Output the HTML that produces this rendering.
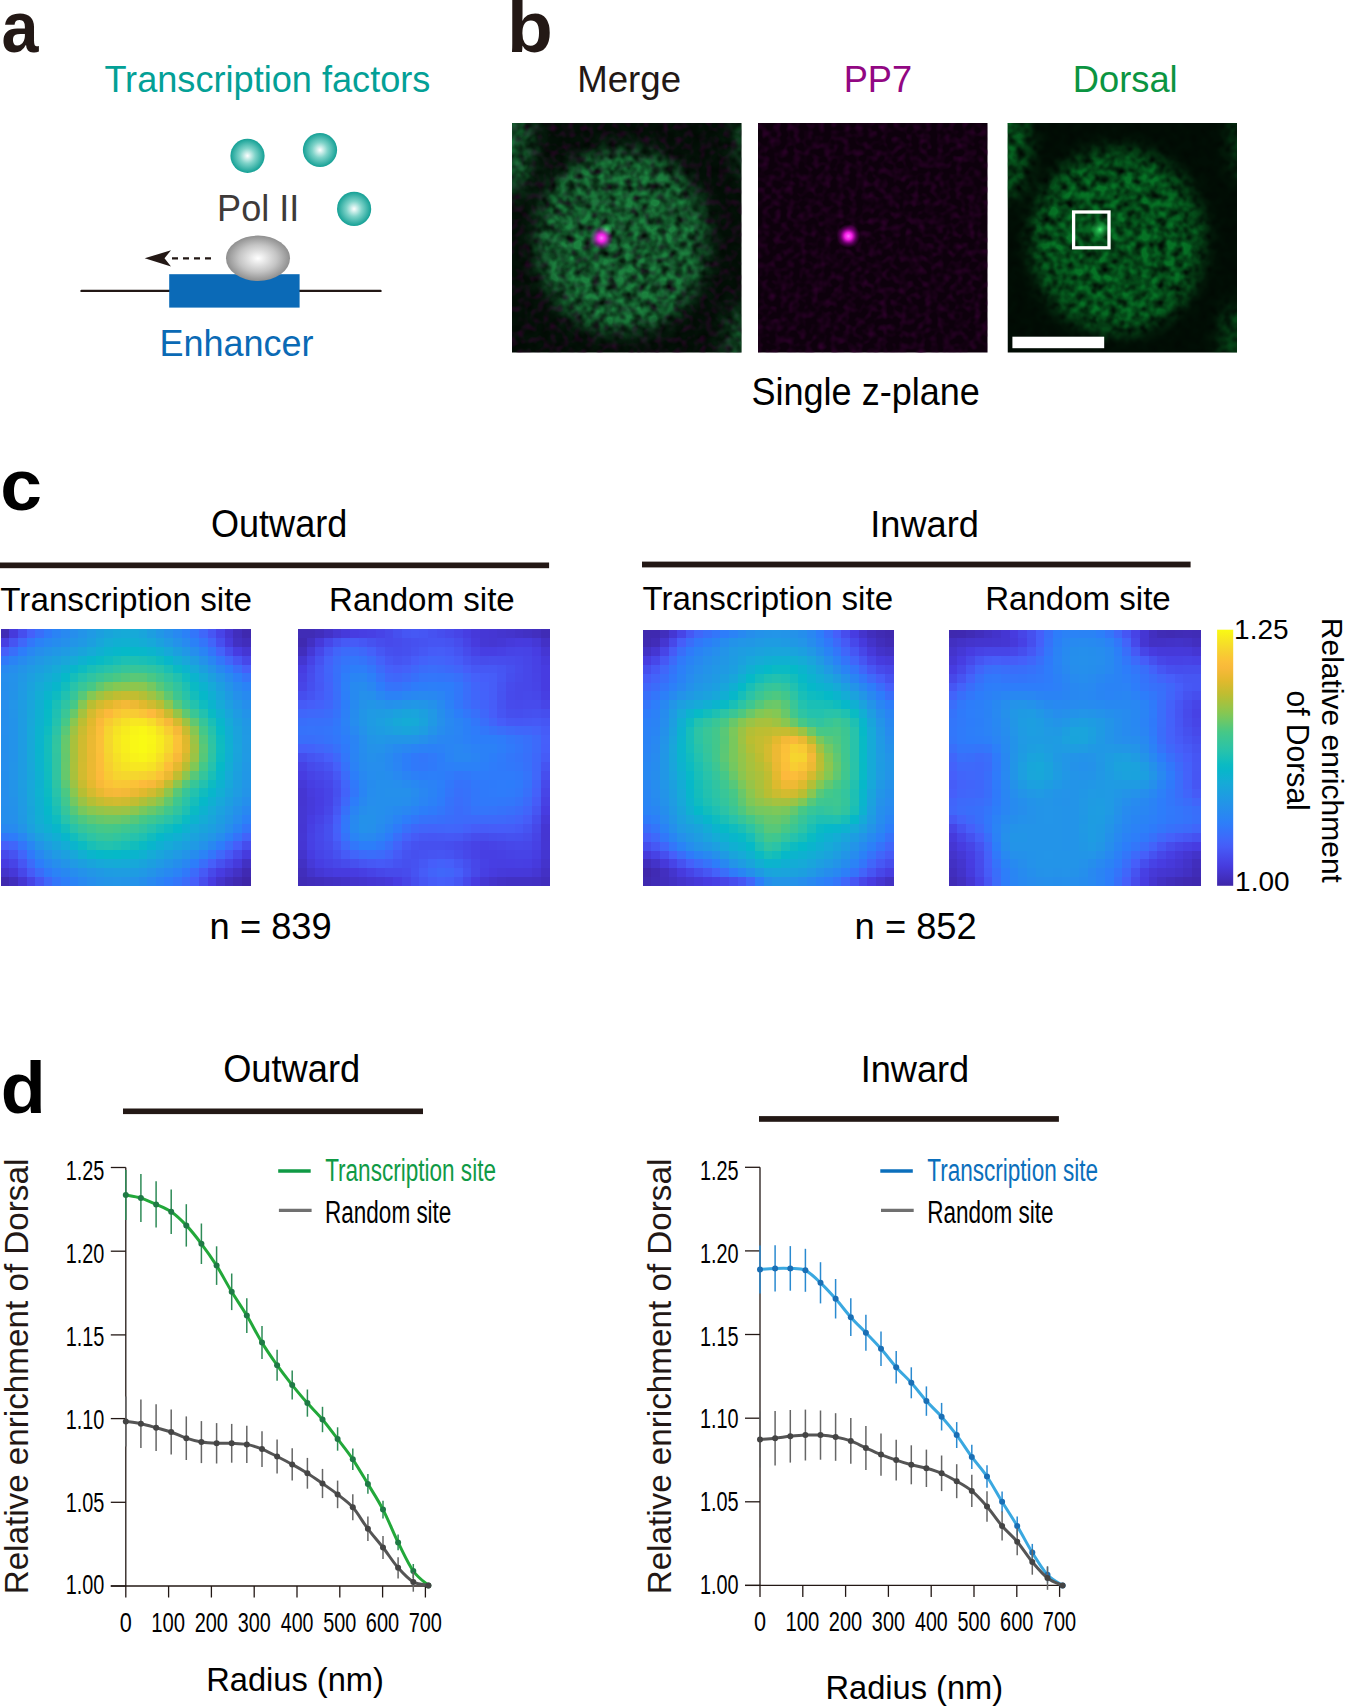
<!DOCTYPE html><html><head><meta charset="utf-8"><style>html,body{margin:0;padding:0;background:#fff;}svg{display:block}</style></head><body>
<svg width="1345" height="1706" viewBox="0 0 1345 1706" font-family="Liberation Sans, sans-serif">
<defs>
<radialGradient id="tf" cx="0.5" cy="0.5" r="0.5"><stop offset="0" stop-color="#ffffff"/><stop offset="0.45" stop-color="#7fd3c9"/><stop offset="1" stop-color="#14a095"/></radialGradient>
<radialGradient id="pol" cx="0.5" cy="0.5" r="0.5"><stop offset="0" stop-color="#ffffff"/><stop offset="0.6" stop-color="#c4c4c4"/><stop offset="1" stop-color="#8f8f8f"/></radialGradient>
<radialGradient id="mag" cx="0.5" cy="0.5" r="0.5"><stop offset="0" stop-color="#ff70ff"/><stop offset="0.3" stop-color="#ff20f0" stop-opacity="0.95"/><stop offset="0.65" stop-color="#d000d0" stop-opacity="0.4"/><stop offset="1" stop-color="#a000a0" stop-opacity="0"/></radialGradient>
<radialGradient id="gspot" cx="0.5" cy="0.5" r="0.5"><stop offset="0" stop-color="#40f070"/><stop offset="1" stop-color="#20c050" stop-opacity="0"/></radialGradient>
<filter id="blur8" x="-50%" y="-50%" width="200%" height="200%"><feGaussianBlur stdDeviation="9"/></filter>
<filter id="nucA" x="-10%" y="-10%" width="120%" height="120%" color-interpolation-filters="sRGB"><feGaussianBlur in="SourceGraphic" stdDeviation="9" result="shape"/><feTurbulence type="fractalNoise" baseFrequency="0.12" numOctaves="3" seed="7"/><feGaussianBlur stdDeviation="0.9"/><feColorMatrix type="matrix" values="0 0 0 0 0.12  0 0 0 0 0.56  0 0 0 0 0.27  2.0 0 0 0 -0.38" result="gn"/><feComposite in="gn" in2="shape" operator="in"/></filter>
<filter id="nucB" x="-10%" y="-10%" width="120%" height="120%" color-interpolation-filters="sRGB"><feGaussianBlur in="SourceGraphic" stdDeviation="9" result="shape"/><feTurbulence type="fractalNoise" baseFrequency="0.12" numOctaves="3" seed="21"/><feGaussianBlur stdDeviation="0.9"/><feColorMatrix type="matrix" values="0 0 0 0 0.03  0 0 0 0 0.52  0 0 0 0 0.17  2.0 0 0 0 -0.38" result="gn"/><feComposite in="gn" in2="shape" operator="in"/></filter>
<filter id="ptex" x="0" y="0" width="100%" height="100%" color-interpolation-filters="sRGB"><feTurbulence type="fractalNoise" baseFrequency="0.16" numOctaves="2" seed="11"/><feGaussianBlur stdDeviation="0.9"/><feColorMatrix type="matrix" values="0 0 0 0 0.2  0 0 0 0 0  0 0 0 0 0.19  2.2 0 0 0 -0.95"/></filter>
<filter id="pnoise" x="0" y="0" width="100%" height="100%" color-interpolation-filters="sRGB"><feTurbulence type="fractalNoise" baseFrequency="0.16" numOctaves="2" seed="5"/><feGaussianBlur stdDeviation="0.9"/><feColorMatrix type="matrix" values="0 0 0 0 0.2  0 0 0 0 0  0 0 0 0 0.18  2.0 0 0 0 -0.9"/></filter>
<clipPath id="c1"><rect x="512" y="123" width="229.5" height="229.5"/></clipPath>
<clipPath id="c2"><rect x="758" y="123" width="229.5" height="229.5"/></clipPath>
<clipPath id="c3"><rect x="1007.5" y="123" width="229.5" height="229.5"/></clipPath>
<linearGradient id="cbar" x1="0" y1="1" x2="0" y2="0">
<stop offset="0.000" stop-color="#3e26a8"/>
<stop offset="0.025" stop-color="#412dba"/>
<stop offset="0.050" stop-color="#4434cc"/>
<stop offset="0.075" stop-color="#463bdd"/>
<stop offset="0.100" stop-color="#4745e7"/>
<stop offset="0.125" stop-color="#4650ef"/>
<stop offset="0.150" stop-color="#465bf7"/>
<stop offset="0.175" stop-color="#4165fa"/>
<stop offset="0.200" stop-color="#396efa"/>
<stop offset="0.225" stop-color="#3277fa"/>
<stop offset="0.250" stop-color="#2c80f8"/>
<stop offset="0.275" stop-color="#2987f2"/>
<stop offset="0.300" stop-color="#268eec"/>
<stop offset="0.325" stop-color="#2295e7"/>
<stop offset="0.350" stop-color="#1e9ce2"/>
<stop offset="0.375" stop-color="#1aa3dc"/>
<stop offset="0.400" stop-color="#16aad7"/>
<stop offset="0.425" stop-color="#0fb0d1"/>
<stop offset="0.450" stop-color="#08b6ca"/>
<stop offset="0.475" stop-color="#0cbbc2"/>
<stop offset="0.500" stop-color="#19bfb7"/>
<stop offset="0.525" stop-color="#26c2ac"/>
<stop offset="0.550" stop-color="#31c4a0"/>
<stop offset="0.575" stop-color="#3bc694"/>
<stop offset="0.600" stop-color="#46c887"/>
<stop offset="0.625" stop-color="#5bc875"/>
<stop offset="0.650" stop-color="#71c863"/>
<stop offset="0.675" stop-color="#86c752"/>
<stop offset="0.700" stop-color="#9ac446"/>
<stop offset="0.725" stop-color="#adc03a"/>
<stop offset="0.750" stop-color="#c0bd31"/>
<stop offset="0.775" stop-color="#d0bb2f"/>
<stop offset="0.800" stop-color="#e1b92d"/>
<stop offset="0.825" stop-color="#edb933"/>
<stop offset="0.850" stop-color="#f8b93a"/>
<stop offset="0.875" stop-color="#fbbf39"/>
<stop offset="0.900" stop-color="#f8ca33"/>
<stop offset="0.925" stop-color="#f6d52e"/>
<stop offset="0.950" stop-color="#f6e126"/>
<stop offset="0.975" stop-color="#f8ed1d"/>
<stop offset="1.000" stop-color="#f9fa14"/>
</linearGradient></defs>
<text x="1.60" y="52.20" font-size="73" fill="#231815" textLength="37.01" lengthAdjust="spacingAndGlyphs" font-weight="bold">a</text>
<text x="507.12" y="51.50" font-size="72" fill="#231815" textLength="45.84" lengthAdjust="spacingAndGlyphs" font-weight="bold">b</text>
<text x="0.20" y="510.20" font-size="72" fill="#000" textLength="41.74" lengthAdjust="spacingAndGlyphs" font-weight="bold">c</text>
<text x="0.65" y="1112.70" font-size="72" fill="#000" textLength="45.00" lengthAdjust="spacingAndGlyphs" font-weight="bold">d</text>
<text x="104.38" y="92.20" font-size="37" fill="#03a096" textLength="326.05" lengthAdjust="spacingAndGlyphs">Transcription factors</text>
<circle cx="247.5" cy="155.8" r="17.1" fill="url(#tf)"/>
<circle cx="320" cy="150" r="17.1" fill="url(#tf)"/>
<circle cx="354.1" cy="208.9" r="17.1" fill="url(#tf)"/>
<text x="217.12" y="221.10" font-size="36.3" fill="#3e3a39" textLength="82.17" lengthAdjust="spacingAndGlyphs">Pol II</text>
<line x1="81.5" y1="290.9" x2="380.5" y2="290.9" stroke="#231815" stroke-width="2.4" stroke-linecap="round"/>
<rect x="169.2" y="274.2" width="130.4" height="33.4" fill="#0b6ab7"/>
<ellipse cx="258" cy="258.3" rx="32" ry="22.7" fill="url(#pol)"/>
<line x1="172" y1="258.3" x2="216" y2="258.3" stroke="#231815" stroke-width="2.2" stroke-dasharray="6,5"/>
<path d="M144.7,258.3 L171,250.2 L164.5,258.3 L171,266.6 Z" fill="#231815"/>
<text x="159.42" y="355.50" font-size="37.5" fill="#0a6ab5" textLength="154.15" lengthAdjust="spacingAndGlyphs">Enhancer</text>
<text x="577.27" y="91.80" font-size="37.5" fill="#231815" textLength="103.76" lengthAdjust="spacingAndGlyphs">Merge</text>
<text x="843.70" y="91.70" font-size="37" fill="#920783" textLength="68.41" lengthAdjust="spacingAndGlyphs">PP7</text>
<text x="1072.80" y="91.70" font-size="37" fill="#0b9441" textLength="104.85" lengthAdjust="spacingAndGlyphs">Dorsal</text>
<text x="751.48" y="405.20" font-size="38.5" fill="#000" textLength="228.44" lengthAdjust="spacingAndGlyphs">Single z-plane</text>
<g clip-path="url(#c1)">
<rect x="512" y="123" width="230" height="230" fill="#020a04"/>
<rect x="512" y="123" width="230" height="230" filter="url(#pnoise)"/>
<g filter="url(#nucA)">
<ellipse cx="622" cy="241" rx="86" ry="92" fill="#000" fill-opacity="0.9"/>
<ellipse cx="508" cy="145" rx="26" ry="52" fill="#000" fill-opacity="0.75"/>
<ellipse cx="746" cy="141" rx="10" ry="40" fill="#000" fill-opacity="0.6"/>
<ellipse cx="744" cy="343" rx="20" ry="40" fill="#000" fill-opacity="0.6"/>
<ellipse cx="627" cy="238" rx="160" ry="160" fill="#000" fill-opacity="0.06"/>
</g>
</g>
<circle cx="606" cy="230" r="7" fill="url(#gspot)"/><circle cx="601.5" cy="238" r="12" fill="url(#mag)"/>
<g clip-path="url(#c2)">
<rect x="758" y="123" width="230" height="230" fill="#0d000c"/>
<rect x="758" y="123" width="230" height="230" filter="url(#ptex)"/>
<circle cx="848.4" cy="236.1" r="12" fill="url(#mag)"/>
</g>
<g clip-path="url(#c3)">
<rect x="1007.5" y="123" width="230" height="230" fill="#020a04"/>
<g filter="url(#nucB)">
<ellipse cx="1117.5" cy="241" rx="86" ry="92" fill="#000" fill-opacity="0.85"/>
<ellipse cx="1003.5" cy="145" rx="26" ry="55" fill="#000" fill-opacity="0.75"/>
<ellipse cx="1241.5" cy="141" rx="10" ry="40" fill="#000" fill-opacity="0.6"/>
<ellipse cx="1239.5" cy="343" rx="20" ry="40" fill="#000" fill-opacity="0.55"/>
<ellipse cx="1122.5" cy="238" rx="160" ry="160" fill="#000" fill-opacity="0.04"/>
</g>
</g>
<circle cx="1100" cy="229.5" r="9" fill="url(#gspot)"/>
<rect x="1073.6" y="212" width="35.4" height="35.8" fill="none" stroke="#fff" stroke-width="3.3"/>
<rect x="1012.4" y="336.7" width="91.8" height="11.5" fill="#fff"/>
<text x="210.98" y="536.60" font-size="38" fill="#000" textLength="136.35" lengthAdjust="spacingAndGlyphs">Outward</text>
<text x="870.24" y="536.60" font-size="37.5" fill="#000" textLength="108.67" lengthAdjust="spacingAndGlyphs">Inward</text>
<rect x="0" y="562.5" width="549.1" height="5.7" fill="#231815"/>
<rect x="642" y="561.6" width="548.6" height="5.8" fill="#231815"/>
<text x="0.34" y="611.00" font-size="34" fill="#000" textLength="251.52" lengthAdjust="spacingAndGlyphs">Transcription site</text>
<text x="329.05" y="610.90" font-size="34" fill="#000" textLength="185.70" lengthAdjust="spacingAndGlyphs">Random site</text>
<text x="642.44" y="610.00" font-size="34" fill="#000" textLength="250.61" lengthAdjust="spacingAndGlyphs">Transcription site</text>
<text x="985.16" y="610.00" font-size="34" fill="#000" textLength="185.60" lengthAdjust="spacingAndGlyphs">Random site</text>
<g shape-rendering="crispEdges">
<rect x="0.80" y="629.20" width="8.91" height="9.14" fill="#402cb6"/>
<rect x="9.41" y="629.20" width="8.91" height="9.14" fill="#463adc"/>
<rect x="18.03" y="629.20" width="8.91" height="9.14" fill="#464eee"/>
<rect x="26.64" y="629.20" width="8.91" height="9.14" fill="#4560fa"/>
<rect x="35.26" y="629.20" width="8.91" height="9.14" fill="#396efa"/>
<rect x="43.87" y="629.20" width="8.91" height="9.14" fill="#2f7afa"/>
<rect x="52.48" y="629.20" width="8.91" height="9.14" fill="#2a83f5"/>
<rect x="61.10" y="629.20" width="8.91" height="9.14" fill="#2889f1"/>
<rect x="69.71" y="629.20" width="8.91" height="9.14" fill="#268eec"/>
<rect x="78.32" y="629.20" width="8.91" height="9.14" fill="#2394e8"/>
<rect x="86.94" y="629.20" width="8.91" height="9.14" fill="#209ae4"/>
<rect x="95.55" y="629.20" width="8.91" height="9.14" fill="#1c9fdf"/>
<rect x="104.17" y="629.20" width="8.91" height="9.14" fill="#19a4db"/>
<rect x="112.78" y="629.20" width="8.91" height="9.14" fill="#17a8d8"/>
<rect x="121.39" y="629.20" width="8.91" height="9.14" fill="#16aad7"/>
<rect x="130.01" y="629.20" width="8.91" height="9.14" fill="#17a9d8"/>
<rect x="138.62" y="629.20" width="8.91" height="9.14" fill="#19a5db"/>
<rect x="147.23" y="629.20" width="8.91" height="9.14" fill="#1d9ee0"/>
<rect x="155.85" y="629.20" width="8.91" height="9.14" fill="#2197e6"/>
<rect x="164.46" y="629.20" width="8.91" height="9.14" fill="#2590eb"/>
<rect x="173.08" y="629.20" width="8.91" height="9.14" fill="#2889f1"/>
<rect x="181.69" y="629.20" width="8.91" height="9.14" fill="#2b81f7"/>
<rect x="190.30" y="629.20" width="8.91" height="9.14" fill="#3376fa"/>
<rect x="198.92" y="629.20" width="8.91" height="9.14" fill="#3f67fa"/>
<rect x="207.53" y="629.20" width="8.91" height="9.14" fill="#4656f4"/>
<rect x="216.14" y="629.20" width="8.91" height="9.14" fill="#4744e7"/>
<rect x="224.76" y="629.20" width="8.91" height="9.14" fill="#4536d3"/>
<rect x="233.37" y="629.20" width="8.91" height="9.14" fill="#412ebd"/>
<rect x="241.99" y="629.20" width="8.91" height="9.14" fill="#3f29af"/>
<rect x="0.80" y="638.04" width="8.91" height="9.14" fill="#473ee2"/>
<rect x="9.41" y="638.04" width="8.91" height="9.14" fill="#4654f2"/>
<rect x="18.03" y="638.04" width="8.91" height="9.14" fill="#3f67fa"/>
<rect x="26.64" y="638.04" width="8.91" height="9.14" fill="#3277fa"/>
<rect x="35.26" y="638.04" width="8.91" height="9.14" fill="#2b82f6"/>
<rect x="43.87" y="638.04" width="8.91" height="9.14" fill="#2888f2"/>
<rect x="52.48" y="638.04" width="8.91" height="9.14" fill="#268cee"/>
<rect x="61.10" y="638.04" width="8.91" height="9.14" fill="#2590eb"/>
<rect x="69.71" y="638.04" width="8.91" height="9.14" fill="#2295e7"/>
<rect x="78.32" y="638.04" width="8.91" height="9.14" fill="#2099e4"/>
<rect x="86.94" y="638.04" width="8.91" height="9.14" fill="#1c9fdf"/>
<rect x="95.55" y="638.04" width="8.91" height="9.14" fill="#18a6da"/>
<rect x="104.17" y="638.04" width="8.91" height="9.14" fill="#14acd5"/>
<rect x="112.78" y="638.04" width="8.91" height="9.14" fill="#10afd2"/>
<rect x="121.39" y="638.04" width="8.91" height="9.14" fill="#10b0d1"/>
<rect x="130.01" y="638.04" width="8.91" height="9.14" fill="#11afd2"/>
<rect x="138.62" y="638.04" width="8.91" height="9.14" fill="#14acd5"/>
<rect x="147.23" y="638.04" width="8.91" height="9.14" fill="#17a8d9"/>
<rect x="155.85" y="638.04" width="8.91" height="9.14" fill="#1ba1de"/>
<rect x="164.46" y="638.04" width="8.91" height="9.14" fill="#209ae4"/>
<rect x="173.08" y="638.04" width="8.91" height="9.14" fill="#2492ea"/>
<rect x="181.69" y="638.04" width="8.91" height="9.14" fill="#288af0"/>
<rect x="190.30" y="638.04" width="8.91" height="9.14" fill="#2b81f7"/>
<rect x="198.92" y="638.04" width="8.91" height="9.14" fill="#3475fa"/>
<rect x="207.53" y="638.04" width="8.91" height="9.14" fill="#4165fa"/>
<rect x="216.14" y="638.04" width="8.91" height="9.14" fill="#464fef"/>
<rect x="224.76" y="638.04" width="8.91" height="9.14" fill="#463bdd"/>
<rect x="233.37" y="638.04" width="8.91" height="9.14" fill="#4231c3"/>
<rect x="241.99" y="638.04" width="8.91" height="9.14" fill="#412dbb"/>
<rect x="0.80" y="646.89" width="8.91" height="9.14" fill="#465ffa"/>
<rect x="9.41" y="646.89" width="8.91" height="9.14" fill="#396efa"/>
<rect x="18.03" y="646.89" width="8.91" height="9.14" fill="#2d7dfa"/>
<rect x="26.64" y="646.89" width="8.91" height="9.14" fill="#2987f2"/>
<rect x="35.26" y="646.89" width="8.91" height="9.14" fill="#268eec"/>
<rect x="43.87" y="646.89" width="8.91" height="9.14" fill="#2393e9"/>
<rect x="52.48" y="646.89" width="8.91" height="9.14" fill="#2197e6"/>
<rect x="61.10" y="646.89" width="8.91" height="9.14" fill="#1f9be3"/>
<rect x="69.71" y="646.89" width="8.91" height="9.14" fill="#1d9fe0"/>
<rect x="78.32" y="646.89" width="8.91" height="9.14" fill="#19a4db"/>
<rect x="86.94" y="646.89" width="8.91" height="9.14" fill="#16aad7"/>
<rect x="95.55" y="646.89" width="8.91" height="9.14" fill="#10afd2"/>
<rect x="104.17" y="646.89" width="8.91" height="9.14" fill="#0bb4cd"/>
<rect x="112.78" y="646.89" width="8.91" height="9.14" fill="#07b7ca"/>
<rect x="121.39" y="646.89" width="8.91" height="9.14" fill="#05b9c8"/>
<rect x="130.01" y="646.89" width="8.91" height="9.14" fill="#06b8c9"/>
<rect x="138.62" y="646.89" width="8.91" height="9.14" fill="#08b7ca"/>
<rect x="147.23" y="646.89" width="8.91" height="9.14" fill="#0bb4cd"/>
<rect x="155.85" y="646.89" width="8.91" height="9.14" fill="#10afd2"/>
<rect x="164.46" y="646.89" width="8.91" height="9.14" fill="#17a8d9"/>
<rect x="173.08" y="646.89" width="8.91" height="9.14" fill="#1c9fdf"/>
<rect x="181.69" y="646.89" width="8.91" height="9.14" fill="#2197e6"/>
<rect x="190.30" y="646.89" width="8.91" height="9.14" fill="#268eed"/>
<rect x="198.92" y="646.89" width="8.91" height="9.14" fill="#2a84f5"/>
<rect x="207.53" y="646.89" width="8.91" height="9.14" fill="#3375fa"/>
<rect x="216.14" y="646.89" width="8.91" height="9.14" fill="#4363fa"/>
<rect x="224.76" y="646.89" width="8.91" height="9.14" fill="#464eee"/>
<rect x="233.37" y="646.89" width="8.91" height="9.14" fill="#473ce1"/>
<rect x="241.99" y="646.89" width="8.91" height="9.14" fill="#4536d3"/>
<rect x="0.80" y="655.73" width="8.91" height="9.14" fill="#3079fa"/>
<rect x="9.41" y="655.73" width="8.91" height="9.14" fill="#2a83f5"/>
<rect x="18.03" y="655.73" width="8.91" height="9.14" fill="#278bef"/>
<rect x="26.64" y="655.73" width="8.91" height="9.14" fill="#2492ea"/>
<rect x="35.26" y="655.73" width="8.91" height="9.14" fill="#2198e5"/>
<rect x="43.87" y="655.73" width="8.91" height="9.14" fill="#1e9de1"/>
<rect x="52.48" y="655.73" width="8.91" height="9.14" fill="#1ba1de"/>
<rect x="61.10" y="655.73" width="8.91" height="9.14" fill="#19a6da"/>
<rect x="69.71" y="655.73" width="8.91" height="9.14" fill="#15abd6"/>
<rect x="78.32" y="655.73" width="8.91" height="9.14" fill="#0eb1d0"/>
<rect x="86.94" y="655.73" width="8.91" height="9.14" fill="#08b6cb"/>
<rect x="95.55" y="655.73" width="8.91" height="9.14" fill="#08bac5"/>
<rect x="104.17" y="655.73" width="8.91" height="9.14" fill="#0fbcbf"/>
<rect x="112.78" y="655.73" width="8.91" height="9.14" fill="#17beb9"/>
<rect x="121.39" y="655.73" width="8.91" height="9.14" fill="#1dc0b4"/>
<rect x="130.01" y="655.73" width="8.91" height="9.14" fill="#1dc0b3"/>
<rect x="138.62" y="655.73" width="8.91" height="9.14" fill="#1abfb6"/>
<rect x="147.23" y="655.73" width="8.91" height="9.14" fill="#15beba"/>
<rect x="155.85" y="655.73" width="8.91" height="9.14" fill="#0dbbc1"/>
<rect x="164.46" y="655.73" width="8.91" height="9.14" fill="#08b6cb"/>
<rect x="173.08" y="655.73" width="8.91" height="9.14" fill="#12aed3"/>
<rect x="181.69" y="655.73" width="8.91" height="9.14" fill="#19a6da"/>
<rect x="190.30" y="655.73" width="8.91" height="9.14" fill="#1e9de1"/>
<rect x="198.92" y="655.73" width="8.91" height="9.14" fill="#2492ea"/>
<rect x="207.53" y="655.73" width="8.91" height="9.14" fill="#2986f3"/>
<rect x="216.14" y="655.73" width="8.91" height="9.14" fill="#3277fa"/>
<rect x="224.76" y="655.73" width="8.91" height="9.14" fill="#4067fa"/>
<rect x="233.37" y="655.73" width="8.91" height="9.14" fill="#4656f4"/>
<rect x="241.99" y="655.73" width="8.91" height="9.14" fill="#4747e9"/>
<rect x="0.80" y="664.58" width="8.91" height="9.14" fill="#2889f1"/>
<rect x="9.41" y="664.58" width="8.91" height="9.14" fill="#268eed"/>
<rect x="18.03" y="664.58" width="8.91" height="9.14" fill="#2394e8"/>
<rect x="26.64" y="664.58" width="8.91" height="9.14" fill="#209ae4"/>
<rect x="35.26" y="664.58" width="8.91" height="9.14" fill="#1c9fe0"/>
<rect x="43.87" y="664.58" width="8.91" height="9.14" fill="#19a4db"/>
<rect x="52.48" y="664.58" width="8.91" height="9.14" fill="#16aad7"/>
<rect x="61.10" y="664.58" width="8.91" height="9.14" fill="#0fb0d1"/>
<rect x="69.71" y="664.58" width="8.91" height="9.14" fill="#08b6ca"/>
<rect x="78.32" y="664.58" width="8.91" height="9.14" fill="#0dbbc1"/>
<rect x="86.94" y="664.58" width="8.91" height="9.14" fill="#19bfb7"/>
<rect x="95.55" y="664.58" width="8.91" height="9.14" fill="#21c1b0"/>
<rect x="104.17" y="664.58" width="8.91" height="9.14" fill="#28c3aa"/>
<rect x="112.78" y="664.58" width="8.91" height="9.14" fill="#2fc4a2"/>
<rect x="121.39" y="664.58" width="8.91" height="9.14" fill="#35c59b"/>
<rect x="130.01" y="664.58" width="8.91" height="9.14" fill="#37c599"/>
<rect x="138.62" y="664.58" width="8.91" height="9.14" fill="#35c59b"/>
<rect x="147.23" y="664.58" width="8.91" height="9.14" fill="#30c4a1"/>
<rect x="155.85" y="664.58" width="8.91" height="9.14" fill="#28c3aa"/>
<rect x="164.46" y="664.58" width="8.91" height="9.14" fill="#1abfb6"/>
<rect x="173.08" y="664.58" width="8.91" height="9.14" fill="#0abac4"/>
<rect x="181.69" y="664.58" width="8.91" height="9.14" fill="#0cb3ce"/>
<rect x="190.30" y="664.58" width="8.91" height="9.14" fill="#16aad7"/>
<rect x="198.92" y="664.58" width="8.91" height="9.14" fill="#1c9fdf"/>
<rect x="207.53" y="664.58" width="8.91" height="9.14" fill="#2394e8"/>
<rect x="216.14" y="664.58" width="8.91" height="9.14" fill="#2888f1"/>
<rect x="224.76" y="664.58" width="8.91" height="9.14" fill="#2d7dfa"/>
<rect x="233.37" y="664.58" width="8.91" height="9.14" fill="#396efa"/>
<rect x="241.99" y="664.58" width="8.91" height="9.14" fill="#465ffa"/>
<rect x="0.80" y="673.42" width="8.91" height="9.14" fill="#268eed"/>
<rect x="9.41" y="673.42" width="8.91" height="9.14" fill="#2492ea"/>
<rect x="18.03" y="673.42" width="8.91" height="9.14" fill="#2198e5"/>
<rect x="26.64" y="673.42" width="8.91" height="9.14" fill="#1d9fe0"/>
<rect x="35.26" y="673.42" width="8.91" height="9.14" fill="#19a5db"/>
<rect x="43.87" y="673.42" width="8.91" height="9.14" fill="#15abd6"/>
<rect x="52.48" y="673.42" width="8.91" height="9.14" fill="#0fb0d1"/>
<rect x="61.10" y="673.42" width="8.91" height="9.14" fill="#06b9c8"/>
<rect x="69.71" y="673.42" width="8.91" height="9.14" fill="#15beba"/>
<rect x="78.32" y="673.42" width="8.91" height="9.14" fill="#23c2ae"/>
<rect x="86.94" y="673.42" width="8.91" height="9.14" fill="#2fc4a2"/>
<rect x="95.55" y="673.42" width="8.91" height="9.14" fill="#39c696"/>
<rect x="104.17" y="673.42" width="8.91" height="9.14" fill="#42c78b"/>
<rect x="112.78" y="673.42" width="8.91" height="9.14" fill="#4ac883"/>
<rect x="121.39" y="673.42" width="8.91" height="9.14" fill="#53c87c"/>
<rect x="130.01" y="673.42" width="8.91" height="9.14" fill="#5ac877"/>
<rect x="138.62" y="673.42" width="8.91" height="9.14" fill="#58c878"/>
<rect x="147.23" y="673.42" width="8.91" height="9.14" fill="#49c885"/>
<rect x="155.85" y="673.42" width="8.91" height="9.14" fill="#3cc693"/>
<rect x="164.46" y="673.42" width="8.91" height="9.14" fill="#2fc4a2"/>
<rect x="173.08" y="673.42" width="8.91" height="9.14" fill="#21c1b0"/>
<rect x="181.69" y="673.42" width="8.91" height="9.14" fill="#0fbcc0"/>
<rect x="190.30" y="673.42" width="8.91" height="9.14" fill="#0bb4cd"/>
<rect x="198.92" y="673.42" width="8.91" height="9.14" fill="#15abd6"/>
<rect x="207.53" y="673.42" width="8.91" height="9.14" fill="#1ca0de"/>
<rect x="216.14" y="673.42" width="8.91" height="9.14" fill="#2296e7"/>
<rect x="224.76" y="673.42" width="8.91" height="9.14" fill="#278bef"/>
<rect x="233.37" y="673.42" width="8.91" height="9.14" fill="#2c80f8"/>
<rect x="241.99" y="673.42" width="8.91" height="9.14" fill="#3574fa"/>
<rect x="0.80" y="682.27" width="8.91" height="9.14" fill="#258eec"/>
<rect x="9.41" y="682.27" width="8.91" height="9.14" fill="#2492e9"/>
<rect x="18.03" y="682.27" width="8.91" height="9.14" fill="#209ae4"/>
<rect x="26.64" y="682.27" width="8.91" height="9.14" fill="#1ba2dd"/>
<rect x="35.26" y="682.27" width="8.91" height="9.14" fill="#16aad7"/>
<rect x="43.87" y="682.27" width="8.91" height="9.14" fill="#0fb0d1"/>
<rect x="52.48" y="682.27" width="8.91" height="9.14" fill="#08b6cb"/>
<rect x="61.10" y="682.27" width="8.91" height="9.14" fill="#13bdbc"/>
<rect x="69.71" y="682.27" width="8.91" height="9.14" fill="#28c3aa"/>
<rect x="78.32" y="682.27" width="8.91" height="9.14" fill="#38c698"/>
<rect x="86.94" y="682.27" width="8.91" height="9.14" fill="#46c887"/>
<rect x="95.55" y="682.27" width="8.91" height="9.14" fill="#63c86f"/>
<rect x="104.17" y="682.27" width="8.91" height="9.14" fill="#79c85c"/>
<rect x="112.78" y="682.27" width="8.91" height="9.14" fill="#85c853"/>
<rect x="121.39" y="682.27" width="8.91" height="9.14" fill="#8ac750"/>
<rect x="130.01" y="682.27" width="8.91" height="9.14" fill="#8ec64d"/>
<rect x="138.62" y="682.27" width="8.91" height="9.14" fill="#8ac750"/>
<rect x="147.23" y="682.27" width="8.91" height="9.14" fill="#75c860"/>
<rect x="155.85" y="682.27" width="8.91" height="9.14" fill="#57c879"/>
<rect x="164.46" y="682.27" width="8.91" height="9.14" fill="#40c78e"/>
<rect x="173.08" y="682.27" width="8.91" height="9.14" fill="#31c4a0"/>
<rect x="181.69" y="682.27" width="8.91" height="9.14" fill="#1ec0b3"/>
<rect x="190.30" y="682.27" width="8.91" height="9.14" fill="#0abac4"/>
<rect x="198.92" y="682.27" width="8.91" height="9.14" fill="#0cb3ce"/>
<rect x="207.53" y="682.27" width="8.91" height="9.14" fill="#16aad7"/>
<rect x="216.14" y="682.27" width="8.91" height="9.14" fill="#1c9fdf"/>
<rect x="224.76" y="682.27" width="8.91" height="9.14" fill="#2394e8"/>
<rect x="233.37" y="682.27" width="8.91" height="9.14" fill="#278af0"/>
<rect x="241.99" y="682.27" width="8.91" height="9.14" fill="#2a83f6"/>
<rect x="0.80" y="691.11" width="8.91" height="9.14" fill="#268eed"/>
<rect x="9.41" y="691.11" width="8.91" height="9.14" fill="#2393e8"/>
<rect x="18.03" y="691.11" width="8.91" height="9.14" fill="#1f9be3"/>
<rect x="26.64" y="691.11" width="8.91" height="9.14" fill="#1aa4dc"/>
<rect x="35.26" y="691.11" width="8.91" height="9.14" fill="#13add4"/>
<rect x="43.87" y="691.11" width="8.91" height="9.14" fill="#0ab5cc"/>
<rect x="52.48" y="691.11" width="8.91" height="9.14" fill="#0ebbc1"/>
<rect x="61.10" y="691.11" width="8.91" height="9.14" fill="#21c1b0"/>
<rect x="69.71" y="691.11" width="8.91" height="9.14" fill="#37c599"/>
<rect x="78.32" y="691.11" width="8.91" height="9.14" fill="#58c878"/>
<rect x="86.94" y="691.11" width="8.91" height="9.14" fill="#84c854"/>
<rect x="95.55" y="691.11" width="8.91" height="9.14" fill="#a0c342"/>
<rect x="104.17" y="691.11" width="8.91" height="9.14" fill="#b3bf36"/>
<rect x="112.78" y="691.11" width="8.91" height="9.14" fill="#c0bd31"/>
<rect x="121.39" y="691.11" width="8.91" height="9.14" fill="#c6bc30"/>
<rect x="130.01" y="691.11" width="8.91" height="9.14" fill="#c2bd31"/>
<rect x="138.62" y="691.11" width="8.91" height="9.14" fill="#b5bf35"/>
<rect x="147.23" y="691.11" width="8.91" height="9.14" fill="#a0c342"/>
<rect x="155.85" y="691.11" width="8.91" height="9.14" fill="#84c854"/>
<rect x="164.46" y="691.11" width="8.91" height="9.14" fill="#5dc874"/>
<rect x="173.08" y="691.11" width="8.91" height="9.14" fill="#3cc692"/>
<rect x="181.69" y="691.11" width="8.91" height="9.14" fill="#28c3a9"/>
<rect x="190.30" y="691.11" width="8.91" height="9.14" fill="#14bdbb"/>
<rect x="198.92" y="691.11" width="8.91" height="9.14" fill="#06b8c9"/>
<rect x="207.53" y="691.11" width="8.91" height="9.14" fill="#10afd2"/>
<rect x="216.14" y="691.11" width="8.91" height="9.14" fill="#19a5db"/>
<rect x="224.76" y="691.11" width="8.91" height="9.14" fill="#1f9ae3"/>
<rect x="233.37" y="691.11" width="8.91" height="9.14" fill="#2590eb"/>
<rect x="241.99" y="691.11" width="8.91" height="9.14" fill="#278af0"/>
<rect x="0.80" y="699.96" width="8.91" height="9.14" fill="#268eec"/>
<rect x="9.41" y="699.96" width="8.91" height="9.14" fill="#2395e8"/>
<rect x="18.03" y="699.96" width="8.91" height="9.14" fill="#1e9ce2"/>
<rect x="26.64" y="699.96" width="8.91" height="9.14" fill="#19a5db"/>
<rect x="35.26" y="699.96" width="8.91" height="9.14" fill="#10afd2"/>
<rect x="43.87" y="699.96" width="8.91" height="9.14" fill="#05b9c8"/>
<rect x="52.48" y="699.96" width="8.91" height="9.14" fill="#19bfb7"/>
<rect x="61.10" y="699.96" width="8.91" height="9.14" fill="#2ec4a3"/>
<rect x="69.71" y="699.96" width="8.91" height="9.14" fill="#46c887"/>
<rect x="78.32" y="699.96" width="8.91" height="9.14" fill="#85c753"/>
<rect x="86.94" y="699.96" width="8.91" height="9.14" fill="#b9be32"/>
<rect x="95.55" y="699.96" width="8.91" height="9.14" fill="#d2bb2f"/>
<rect x="104.17" y="699.96" width="8.91" height="9.14" fill="#e1b92d"/>
<rect x="112.78" y="699.96" width="8.91" height="9.14" fill="#edb933"/>
<rect x="121.39" y="699.96" width="8.91" height="9.14" fill="#f4b937"/>
<rect x="130.01" y="699.96" width="8.91" height="9.14" fill="#edb934"/>
<rect x="138.62" y="699.96" width="8.91" height="9.14" fill="#e1b92d"/>
<rect x="147.23" y="699.96" width="8.91" height="9.14" fill="#d0bb2f"/>
<rect x="155.85" y="699.96" width="8.91" height="9.14" fill="#b9be32"/>
<rect x="164.46" y="699.96" width="8.91" height="9.14" fill="#8dc64e"/>
<rect x="173.08" y="699.96" width="8.91" height="9.14" fill="#57c879"/>
<rect x="181.69" y="699.96" width="8.91" height="9.14" fill="#37c698"/>
<rect x="190.30" y="699.96" width="8.91" height="9.14" fill="#23c2ae"/>
<rect x="198.92" y="699.96" width="8.91" height="9.14" fill="#0fbcc0"/>
<rect x="207.53" y="699.96" width="8.91" height="9.14" fill="#0bb4cd"/>
<rect x="216.14" y="699.96" width="8.91" height="9.14" fill="#16aad7"/>
<rect x="224.76" y="699.96" width="8.91" height="9.14" fill="#1d9fe0"/>
<rect x="233.37" y="699.96" width="8.91" height="9.14" fill="#2296e7"/>
<rect x="241.99" y="699.96" width="8.91" height="9.14" fill="#268eec"/>
<rect x="0.80" y="708.80" width="8.91" height="9.14" fill="#258eec"/>
<rect x="9.41" y="708.80" width="8.91" height="9.14" fill="#2394e8"/>
<rect x="18.03" y="708.80" width="8.91" height="9.14" fill="#1e9ce1"/>
<rect x="26.64" y="708.80" width="8.91" height="9.14" fill="#18a6da"/>
<rect x="35.26" y="708.80" width="8.91" height="9.14" fill="#0fb0d1"/>
<rect x="43.87" y="708.80" width="8.91" height="9.14" fill="#07bac6"/>
<rect x="52.48" y="708.80" width="8.91" height="9.14" fill="#1fc0b2"/>
<rect x="61.10" y="708.80" width="8.91" height="9.14" fill="#3ac696"/>
<rect x="69.71" y="708.80" width="8.91" height="9.14" fill="#69c869"/>
<rect x="78.32" y="708.80" width="8.91" height="9.14" fill="#a6c23e"/>
<rect x="86.94" y="708.80" width="8.91" height="9.14" fill="#d4bb2f"/>
<rect x="95.55" y="708.80" width="8.91" height="9.14" fill="#edb933"/>
<rect x="104.17" y="708.80" width="8.91" height="9.14" fill="#fcb93b"/>
<rect x="112.78" y="708.80" width="8.91" height="9.14" fill="#fac536"/>
<rect x="121.39" y="708.80" width="8.91" height="9.14" fill="#f8cc32"/>
<rect x="130.01" y="708.80" width="8.91" height="9.14" fill="#f8cb33"/>
<rect x="138.62" y="708.80" width="8.91" height="9.14" fill="#fac437"/>
<rect x="147.23" y="708.80" width="8.91" height="9.14" fill="#fdba3c"/>
<rect x="155.85" y="708.80" width="8.91" height="9.14" fill="#ecb933"/>
<rect x="164.46" y="708.80" width="8.91" height="9.14" fill="#c9bc30"/>
<rect x="173.08" y="708.80" width="8.91" height="9.14" fill="#96c448"/>
<rect x="181.69" y="708.80" width="8.91" height="9.14" fill="#60c871"/>
<rect x="190.30" y="708.80" width="8.91" height="9.14" fill="#3ac695"/>
<rect x="198.92" y="708.80" width="8.91" height="9.14" fill="#22c1af"/>
<rect x="207.53" y="708.80" width="8.91" height="9.14" fill="#09bac4"/>
<rect x="216.14" y="708.80" width="8.91" height="9.14" fill="#10b0d1"/>
<rect x="224.76" y="708.80" width="8.91" height="9.14" fill="#19a5db"/>
<rect x="233.37" y="708.80" width="8.91" height="9.14" fill="#1f9be3"/>
<rect x="241.99" y="708.80" width="8.91" height="9.14" fill="#2393e9"/>
<rect x="0.80" y="717.65" width="8.91" height="9.14" fill="#268eec"/>
<rect x="9.41" y="717.65" width="8.91" height="9.14" fill="#2393e9"/>
<rect x="18.03" y="717.65" width="8.91" height="9.14" fill="#1e9ce2"/>
<rect x="26.64" y="717.65" width="8.91" height="9.14" fill="#18a7d9"/>
<rect x="35.26" y="717.65" width="8.91" height="9.14" fill="#0eb1d0"/>
<rect x="43.87" y="717.65" width="8.91" height="9.14" fill="#09bac5"/>
<rect x="52.48" y="717.65" width="8.91" height="9.14" fill="#23c2ae"/>
<rect x="61.10" y="717.65" width="8.91" height="9.14" fill="#45c888"/>
<rect x="69.71" y="717.65" width="8.91" height="9.14" fill="#8ac750"/>
<rect x="78.32" y="717.65" width="8.91" height="9.14" fill="#bdbe32"/>
<rect x="86.94" y="717.65" width="8.91" height="9.14" fill="#e1b92d"/>
<rect x="95.55" y="717.65" width="8.91" height="9.14" fill="#fab93a"/>
<rect x="104.17" y="717.65" width="8.91" height="9.14" fill="#f8ca33"/>
<rect x="112.78" y="717.65" width="8.91" height="9.14" fill="#f5d72d"/>
<rect x="121.39" y="717.65" width="8.91" height="9.14" fill="#f6e126"/>
<rect x="130.01" y="717.65" width="8.91" height="9.14" fill="#f7e722"/>
<rect x="138.62" y="717.65" width="8.91" height="9.14" fill="#f7e622"/>
<rect x="147.23" y="717.65" width="8.91" height="9.14" fill="#f6dc2a"/>
<rect x="155.85" y="717.65" width="8.91" height="9.14" fill="#f8ca33"/>
<rect x="164.46" y="717.65" width="8.91" height="9.14" fill="#f7b939"/>
<rect x="173.08" y="717.65" width="8.91" height="9.14" fill="#d4bb2f"/>
<rect x="181.69" y="717.65" width="8.91" height="9.14" fill="#9ec343"/>
<rect x="190.30" y="717.65" width="8.91" height="9.14" fill="#60c872"/>
<rect x="198.92" y="717.65" width="8.91" height="9.14" fill="#35c59a"/>
<rect x="207.53" y="717.65" width="8.91" height="9.14" fill="#19bfb7"/>
<rect x="216.14" y="717.65" width="8.91" height="9.14" fill="#09b6cb"/>
<rect x="224.76" y="717.65" width="8.91" height="9.14" fill="#16aad7"/>
<rect x="233.37" y="717.65" width="8.91" height="9.14" fill="#1c9fdf"/>
<rect x="241.99" y="717.65" width="8.91" height="9.14" fill="#2197e6"/>
<rect x="0.80" y="726.49" width="8.91" height="9.14" fill="#268eed"/>
<rect x="9.41" y="726.49" width="8.91" height="9.14" fill="#2393e9"/>
<rect x="18.03" y="726.49" width="8.91" height="9.14" fill="#1e9ce2"/>
<rect x="26.64" y="726.49" width="8.91" height="9.14" fill="#17a8d9"/>
<rect x="35.26" y="726.49" width="8.91" height="9.14" fill="#0cb3ce"/>
<rect x="43.87" y="726.49" width="8.91" height="9.14" fill="#0ebcc0"/>
<rect x="52.48" y="726.49" width="8.91" height="9.14" fill="#2bc3a7"/>
<rect x="61.10" y="726.49" width="8.91" height="9.14" fill="#58c878"/>
<rect x="69.71" y="726.49" width="8.91" height="9.14" fill="#9fc343"/>
<rect x="78.32" y="726.49" width="8.91" height="9.14" fill="#cabc30"/>
<rect x="86.94" y="726.49" width="8.91" height="9.14" fill="#e7b930"/>
<rect x="95.55" y="726.49" width="8.91" height="9.14" fill="#fcbd3a"/>
<rect x="104.17" y="726.49" width="8.91" height="9.14" fill="#f6d42f"/>
<rect x="112.78" y="726.49" width="8.91" height="9.14" fill="#f6e324"/>
<rect x="121.39" y="726.49" width="8.91" height="9.14" fill="#f7ec1e"/>
<rect x="130.01" y="726.49" width="8.91" height="9.14" fill="#f8f418"/>
<rect x="138.62" y="726.49" width="8.91" height="9.14" fill="#f9f716"/>
<rect x="147.23" y="726.49" width="8.91" height="9.14" fill="#f8f01b"/>
<rect x="155.85" y="726.49" width="8.91" height="9.14" fill="#f6e126"/>
<rect x="164.46" y="726.49" width="8.91" height="9.14" fill="#f8cd32"/>
<rect x="173.08" y="726.49" width="8.91" height="9.14" fill="#f6b938"/>
<rect x="181.69" y="726.49" width="8.91" height="9.14" fill="#c8bc30"/>
<rect x="190.30" y="726.49" width="8.91" height="9.14" fill="#85c753"/>
<rect x="198.92" y="726.49" width="8.91" height="9.14" fill="#43c88a"/>
<rect x="207.53" y="726.49" width="8.91" height="9.14" fill="#25c2ac"/>
<rect x="216.14" y="726.49" width="8.91" height="9.14" fill="#07bac6"/>
<rect x="224.76" y="726.49" width="8.91" height="9.14" fill="#12add4"/>
<rect x="233.37" y="726.49" width="8.91" height="9.14" fill="#1ba2dd"/>
<rect x="241.99" y="726.49" width="8.91" height="9.14" fill="#2099e4"/>
<rect x="0.80" y="735.34" width="8.91" height="9.14" fill="#258eec"/>
<rect x="9.41" y="735.34" width="8.91" height="9.14" fill="#2393e9"/>
<rect x="18.03" y="735.34" width="8.91" height="9.14" fill="#1e9ce2"/>
<rect x="26.64" y="735.34" width="8.91" height="9.14" fill="#17a8d8"/>
<rect x="35.26" y="735.34" width="8.91" height="9.14" fill="#0bb4cd"/>
<rect x="43.87" y="735.34" width="8.91" height="9.14" fill="#13bdbc"/>
<rect x="52.48" y="735.34" width="8.91" height="9.14" fill="#31c4a0"/>
<rect x="61.10" y="735.34" width="8.91" height="9.14" fill="#65c86d"/>
<rect x="69.71" y="735.34" width="8.91" height="9.14" fill="#a9c13c"/>
<rect x="78.32" y="735.34" width="8.91" height="9.14" fill="#d0bb2f"/>
<rect x="86.94" y="735.34" width="8.91" height="9.14" fill="#eab932"/>
<rect x="95.55" y="735.34" width="8.91" height="9.14" fill="#fbc038"/>
<rect x="104.17" y="735.34" width="8.91" height="9.14" fill="#f5d72d"/>
<rect x="112.78" y="735.34" width="8.91" height="9.14" fill="#f7e722"/>
<rect x="121.39" y="735.34" width="8.91" height="9.14" fill="#f8f01b"/>
<rect x="130.01" y="735.34" width="8.91" height="9.14" fill="#f9f716"/>
<rect x="138.62" y="735.34" width="8.91" height="9.14" fill="#f9fa14"/>
<rect x="147.23" y="735.34" width="8.91" height="9.14" fill="#f9f617"/>
<rect x="155.85" y="735.34" width="8.91" height="9.14" fill="#f7eb1f"/>
<rect x="164.46" y="735.34" width="8.91" height="9.14" fill="#f5da2b"/>
<rect x="173.08" y="735.34" width="8.91" height="9.14" fill="#fbc238"/>
<rect x="181.69" y="735.34" width="8.91" height="9.14" fill="#deb92d"/>
<rect x="190.30" y="735.34" width="8.91" height="9.14" fill="#9ac446"/>
<rect x="198.92" y="735.34" width="8.91" height="9.14" fill="#52c87d"/>
<rect x="207.53" y="735.34" width="8.91" height="9.14" fill="#2cc4a5"/>
<rect x="216.14" y="735.34" width="8.91" height="9.14" fill="#0dbbc1"/>
<rect x="224.76" y="735.34" width="8.91" height="9.14" fill="#10afd2"/>
<rect x="233.37" y="735.34" width="8.91" height="9.14" fill="#1aa3dc"/>
<rect x="241.99" y="735.34" width="8.91" height="9.14" fill="#209ae4"/>
<rect x="0.80" y="744.18" width="8.91" height="9.14" fill="#258eec"/>
<rect x="9.41" y="744.18" width="8.91" height="9.14" fill="#2393e9"/>
<rect x="18.03" y="744.18" width="8.91" height="9.14" fill="#1e9ce2"/>
<rect x="26.64" y="744.18" width="8.91" height="9.14" fill="#17a8d8"/>
<rect x="35.26" y="744.18" width="8.91" height="9.14" fill="#0ab4cd"/>
<rect x="43.87" y="744.18" width="8.91" height="9.14" fill="#14bdbb"/>
<rect x="52.48" y="744.18" width="8.91" height="9.14" fill="#32c59f"/>
<rect x="61.10" y="744.18" width="8.91" height="9.14" fill="#67c86b"/>
<rect x="69.71" y="744.18" width="8.91" height="9.14" fill="#aac13b"/>
<rect x="78.32" y="744.18" width="8.91" height="9.14" fill="#d1bb2f"/>
<rect x="86.94" y="744.18" width="8.91" height="9.14" fill="#ebb932"/>
<rect x="95.55" y="744.18" width="8.91" height="9.14" fill="#fbc039"/>
<rect x="104.17" y="744.18" width="8.91" height="9.14" fill="#f5d62e"/>
<rect x="112.78" y="744.18" width="8.91" height="9.14" fill="#f7e623"/>
<rect x="121.39" y="744.18" width="8.91" height="9.14" fill="#f8ef1c"/>
<rect x="130.01" y="744.18" width="8.91" height="9.14" fill="#f9f716"/>
<rect x="138.62" y="744.18" width="8.91" height="9.14" fill="#f9fa14"/>
<rect x="147.23" y="744.18" width="8.91" height="9.14" fill="#f8f517"/>
<rect x="155.85" y="744.18" width="8.91" height="9.14" fill="#f7ea20"/>
<rect x="164.46" y="744.18" width="8.91" height="9.14" fill="#f5d82c"/>
<rect x="173.08" y="744.18" width="8.91" height="9.14" fill="#fbc138"/>
<rect x="181.69" y="744.18" width="8.91" height="9.14" fill="#e1b92d"/>
<rect x="190.30" y="744.18" width="8.91" height="9.14" fill="#a1c241"/>
<rect x="198.92" y="744.18" width="8.91" height="9.14" fill="#5ac876"/>
<rect x="207.53" y="744.18" width="8.91" height="9.14" fill="#2fc4a2"/>
<rect x="216.14" y="744.18" width="8.91" height="9.14" fill="#0ebcc0"/>
<rect x="224.76" y="744.18" width="8.91" height="9.14" fill="#10b0d1"/>
<rect x="233.37" y="744.18" width="8.91" height="9.14" fill="#1aa4dc"/>
<rect x="241.99" y="744.18" width="8.91" height="9.14" fill="#209ae3"/>
<rect x="0.80" y="753.03" width="8.91" height="9.14" fill="#268eec"/>
<rect x="9.41" y="753.03" width="8.91" height="9.14" fill="#2393e9"/>
<rect x="18.03" y="753.03" width="8.91" height="9.14" fill="#1e9ce2"/>
<rect x="26.64" y="753.03" width="8.91" height="9.14" fill="#17a8d8"/>
<rect x="35.26" y="753.03" width="8.91" height="9.14" fill="#0bb4cd"/>
<rect x="43.87" y="753.03" width="8.91" height="9.14" fill="#13bdbc"/>
<rect x="52.48" y="753.03" width="8.91" height="9.14" fill="#31c4a0"/>
<rect x="61.10" y="753.03" width="8.91" height="9.14" fill="#65c86d"/>
<rect x="69.71" y="753.03" width="8.91" height="9.14" fill="#a9c13c"/>
<rect x="78.32" y="753.03" width="8.91" height="9.14" fill="#d1bb2f"/>
<rect x="86.94" y="753.03" width="8.91" height="9.14" fill="#eab932"/>
<rect x="95.55" y="753.03" width="8.91" height="9.14" fill="#fcbe39"/>
<rect x="104.17" y="753.03" width="8.91" height="9.14" fill="#f6d32f"/>
<rect x="112.78" y="753.03" width="8.91" height="9.14" fill="#f6e126"/>
<rect x="121.39" y="753.03" width="8.91" height="9.14" fill="#f7eb1f"/>
<rect x="130.01" y="753.03" width="8.91" height="9.14" fill="#f8f219"/>
<rect x="138.62" y="753.03" width="8.91" height="9.14" fill="#f8f518"/>
<rect x="147.23" y="753.03" width="8.91" height="9.14" fill="#f8ef1c"/>
<rect x="155.85" y="753.03" width="8.91" height="9.14" fill="#f6e126"/>
<rect x="164.46" y="753.03" width="8.91" height="9.14" fill="#f8cd32"/>
<rect x="173.08" y="753.03" width="8.91" height="9.14" fill="#f8b939"/>
<rect x="181.69" y="753.03" width="8.91" height="9.14" fill="#d3bb2f"/>
<rect x="190.30" y="753.03" width="8.91" height="9.14" fill="#9ac446"/>
<rect x="198.92" y="753.03" width="8.91" height="9.14" fill="#55c87a"/>
<rect x="207.53" y="753.03" width="8.91" height="9.14" fill="#2cc4a5"/>
<rect x="216.14" y="753.03" width="8.91" height="9.14" fill="#0cbbc2"/>
<rect x="224.76" y="753.03" width="8.91" height="9.14" fill="#10afd2"/>
<rect x="233.37" y="753.03" width="8.91" height="9.14" fill="#1aa3dc"/>
<rect x="241.99" y="753.03" width="8.91" height="9.14" fill="#209ae4"/>
<rect x="0.80" y="761.87" width="8.91" height="9.14" fill="#268eed"/>
<rect x="9.41" y="761.87" width="8.91" height="9.14" fill="#2394e8"/>
<rect x="18.03" y="761.87" width="8.91" height="9.14" fill="#1e9ce2"/>
<rect x="26.64" y="761.87" width="8.91" height="9.14" fill="#18a7d9"/>
<rect x="35.26" y="761.87" width="8.91" height="9.14" fill="#0cb3ce"/>
<rect x="43.87" y="761.87" width="8.91" height="9.14" fill="#11bdbd"/>
<rect x="52.48" y="761.87" width="8.91" height="9.14" fill="#31c4a0"/>
<rect x="61.10" y="761.87" width="8.91" height="9.14" fill="#67c86c"/>
<rect x="69.71" y="761.87" width="8.91" height="9.14" fill="#abc13b"/>
<rect x="78.32" y="761.87" width="8.91" height="9.14" fill="#d3bb2f"/>
<rect x="86.94" y="761.87" width="8.91" height="9.14" fill="#ebb932"/>
<rect x="95.55" y="761.87" width="8.91" height="9.14" fill="#fcbd3a"/>
<rect x="104.17" y="761.87" width="8.91" height="9.14" fill="#f7cf31"/>
<rect x="112.78" y="761.87" width="8.91" height="9.14" fill="#f6dc2a"/>
<rect x="121.39" y="761.87" width="8.91" height="9.14" fill="#f6e324"/>
<rect x="130.01" y="761.87" width="8.91" height="9.14" fill="#f7e721"/>
<rect x="138.62" y="761.87" width="8.91" height="9.14" fill="#f7e721"/>
<rect x="147.23" y="761.87" width="8.91" height="9.14" fill="#f6e225"/>
<rect x="155.85" y="761.87" width="8.91" height="9.14" fill="#f6d42e"/>
<rect x="164.46" y="761.87" width="8.91" height="9.14" fill="#fcbe39"/>
<rect x="173.08" y="761.87" width="8.91" height="9.14" fill="#e4b92f"/>
<rect x="181.69" y="761.87" width="8.91" height="9.14" fill="#b8be33"/>
<rect x="190.30" y="761.87" width="8.91" height="9.14" fill="#80c856"/>
<rect x="198.92" y="761.87" width="8.91" height="9.14" fill="#43c88a"/>
<rect x="207.53" y="761.87" width="8.91" height="9.14" fill="#25c2ad"/>
<rect x="216.14" y="761.87" width="8.91" height="9.14" fill="#06b9c7"/>
<rect x="224.76" y="761.87" width="8.91" height="9.14" fill="#13add4"/>
<rect x="233.37" y="761.87" width="8.91" height="9.14" fill="#1ba1de"/>
<rect x="241.99" y="761.87" width="8.91" height="9.14" fill="#2198e5"/>
<rect x="0.80" y="770.72" width="8.91" height="9.14" fill="#258eec"/>
<rect x="9.41" y="770.72" width="8.91" height="9.14" fill="#2394e8"/>
<rect x="18.03" y="770.72" width="8.91" height="9.14" fill="#1e9ce2"/>
<rect x="26.64" y="770.72" width="8.91" height="9.14" fill="#18a6da"/>
<rect x="35.26" y="770.72" width="8.91" height="9.14" fill="#0eb1d0"/>
<rect x="43.87" y="770.72" width="8.91" height="9.14" fill="#10bcbf"/>
<rect x="52.48" y="770.72" width="8.91" height="9.14" fill="#31c4a0"/>
<rect x="61.10" y="770.72" width="8.91" height="9.14" fill="#66c86c"/>
<rect x="69.71" y="770.72" width="8.91" height="9.14" fill="#a9c13c"/>
<rect x="78.32" y="770.72" width="8.91" height="9.14" fill="#d2bb2f"/>
<rect x="86.94" y="770.72" width="8.91" height="9.14" fill="#eab932"/>
<rect x="95.55" y="770.72" width="8.91" height="9.14" fill="#fdba3b"/>
<rect x="104.17" y="770.72" width="8.91" height="9.14" fill="#f8ca33"/>
<rect x="112.78" y="770.72" width="8.91" height="9.14" fill="#f6d42f"/>
<rect x="121.39" y="770.72" width="8.91" height="9.14" fill="#f5d72d"/>
<rect x="130.01" y="770.72" width="8.91" height="9.14" fill="#f5d62e"/>
<rect x="138.62" y="770.72" width="8.91" height="9.14" fill="#f6d32f"/>
<rect x="147.23" y="770.72" width="8.91" height="9.14" fill="#f7ce32"/>
<rect x="155.85" y="770.72" width="8.91" height="9.14" fill="#fbc238"/>
<rect x="164.46" y="770.72" width="8.91" height="9.14" fill="#ebb932"/>
<rect x="173.08" y="770.72" width="8.91" height="9.14" fill="#c0bd31"/>
<rect x="181.69" y="770.72" width="8.91" height="9.14" fill="#8cc64f"/>
<rect x="190.30" y="770.72" width="8.91" height="9.14" fill="#57c879"/>
<rect x="198.92" y="770.72" width="8.91" height="9.14" fill="#34c59c"/>
<rect x="207.53" y="770.72" width="8.91" height="9.14" fill="#19bfb7"/>
<rect x="216.14" y="770.72" width="8.91" height="9.14" fill="#09b6cb"/>
<rect x="224.76" y="770.72" width="8.91" height="9.14" fill="#16aad7"/>
<rect x="233.37" y="770.72" width="8.91" height="9.14" fill="#1c9fdf"/>
<rect x="241.99" y="770.72" width="8.91" height="9.14" fill="#2197e6"/>
<rect x="0.80" y="779.56" width="8.91" height="9.14" fill="#258eec"/>
<rect x="9.41" y="779.56" width="8.91" height="9.14" fill="#2394e8"/>
<rect x="18.03" y="779.56" width="8.91" height="9.14" fill="#1e9de1"/>
<rect x="26.64" y="779.56" width="8.91" height="9.14" fill="#18a7da"/>
<rect x="35.26" y="779.56" width="8.91" height="9.14" fill="#0eb1d0"/>
<rect x="43.87" y="779.56" width="8.91" height="9.14" fill="#0ebcc0"/>
<rect x="52.48" y="779.56" width="8.91" height="9.14" fill="#2dc4a4"/>
<rect x="61.10" y="779.56" width="8.91" height="9.14" fill="#5bc876"/>
<rect x="69.71" y="779.56" width="8.91" height="9.14" fill="#9dc344"/>
<rect x="78.32" y="779.56" width="8.91" height="9.14" fill="#c8bc30"/>
<rect x="86.94" y="779.56" width="8.91" height="9.14" fill="#e5b92f"/>
<rect x="95.55" y="779.56" width="8.91" height="9.14" fill="#f8b939"/>
<rect x="104.17" y="779.56" width="8.91" height="9.14" fill="#fbc238"/>
<rect x="112.78" y="779.56" width="8.91" height="9.14" fill="#f9c835"/>
<rect x="121.39" y="779.56" width="8.91" height="9.14" fill="#f9c735"/>
<rect x="130.01" y="779.56" width="8.91" height="9.14" fill="#fbc238"/>
<rect x="138.62" y="779.56" width="8.91" height="9.14" fill="#fcbb3b"/>
<rect x="147.23" y="779.56" width="8.91" height="9.14" fill="#f7b939"/>
<rect x="155.85" y="779.56" width="8.91" height="9.14" fill="#e7b930"/>
<rect x="164.46" y="779.56" width="8.91" height="9.14" fill="#c1bd31"/>
<rect x="173.08" y="779.56" width="8.91" height="9.14" fill="#8bc64f"/>
<rect x="181.69" y="779.56" width="8.91" height="9.14" fill="#56c87a"/>
<rect x="190.30" y="779.56" width="8.91" height="9.14" fill="#37c698"/>
<rect x="198.92" y="779.56" width="8.91" height="9.14" fill="#23c1af"/>
<rect x="207.53" y="779.56" width="8.91" height="9.14" fill="#0dbbc1"/>
<rect x="216.14" y="779.56" width="8.91" height="9.14" fill="#0db2cf"/>
<rect x="224.76" y="779.56" width="8.91" height="9.14" fill="#17a8d9"/>
<rect x="233.37" y="779.56" width="8.91" height="9.14" fill="#1d9ee0"/>
<rect x="241.99" y="779.56" width="8.91" height="9.14" fill="#2296e7"/>
<rect x="0.80" y="788.41" width="8.91" height="9.14" fill="#268eec"/>
<rect x="9.41" y="788.41" width="8.91" height="9.14" fill="#2394e8"/>
<rect x="18.03" y="788.41" width="8.91" height="9.14" fill="#1e9ce2"/>
<rect x="26.64" y="788.41" width="8.91" height="9.14" fill="#18a7d9"/>
<rect x="35.26" y="788.41" width="8.91" height="9.14" fill="#0eb2d0"/>
<rect x="43.87" y="788.41" width="8.91" height="9.14" fill="#0cbbc2"/>
<rect x="52.48" y="788.41" width="8.91" height="9.14" fill="#28c3aa"/>
<rect x="61.10" y="788.41" width="8.91" height="9.14" fill="#4ac884"/>
<rect x="69.71" y="788.41" width="8.91" height="9.14" fill="#8ac750"/>
<rect x="78.32" y="788.41" width="8.91" height="9.14" fill="#b7be33"/>
<rect x="86.94" y="788.41" width="8.91" height="9.14" fill="#d4bb2f"/>
<rect x="95.55" y="788.41" width="8.91" height="9.14" fill="#e8b931"/>
<rect x="104.17" y="788.41" width="8.91" height="9.14" fill="#f4b937"/>
<rect x="112.78" y="788.41" width="8.91" height="9.14" fill="#f7b939"/>
<rect x="121.39" y="788.41" width="8.91" height="9.14" fill="#f4b937"/>
<rect x="130.01" y="788.41" width="8.91" height="9.14" fill="#ebb933"/>
<rect x="138.62" y="788.41" width="8.91" height="9.14" fill="#e1b92d"/>
<rect x="147.23" y="788.41" width="8.91" height="9.14" fill="#d1bb2f"/>
<rect x="155.85" y="788.41" width="8.91" height="9.14" fill="#b9be32"/>
<rect x="164.46" y="788.41" width="8.91" height="9.14" fill="#8dc64e"/>
<rect x="173.08" y="788.41" width="8.91" height="9.14" fill="#57c879"/>
<rect x="181.69" y="788.41" width="8.91" height="9.14" fill="#37c599"/>
<rect x="190.30" y="788.41" width="8.91" height="9.14" fill="#23c2ae"/>
<rect x="198.92" y="788.41" width="8.91" height="9.14" fill="#11bcbe"/>
<rect x="207.53" y="788.41" width="8.91" height="9.14" fill="#08b6cb"/>
<rect x="216.14" y="788.41" width="8.91" height="9.14" fill="#12aed3"/>
<rect x="224.76" y="788.41" width="8.91" height="9.14" fill="#19a4db"/>
<rect x="233.37" y="788.41" width="8.91" height="9.14" fill="#1f9ce2"/>
<rect x="241.99" y="788.41" width="8.91" height="9.14" fill="#2394e8"/>
<rect x="0.80" y="797.25" width="8.91" height="9.14" fill="#268eed"/>
<rect x="9.41" y="797.25" width="8.91" height="9.14" fill="#2492e9"/>
<rect x="18.03" y="797.25" width="8.91" height="9.14" fill="#1f9be3"/>
<rect x="26.64" y="797.25" width="8.91" height="9.14" fill="#19a6da"/>
<rect x="35.26" y="797.25" width="8.91" height="9.14" fill="#0fb0d1"/>
<rect x="43.87" y="797.25" width="8.91" height="9.14" fill="#08bac5"/>
<rect x="52.48" y="797.25" width="8.91" height="9.14" fill="#21c1b0"/>
<rect x="61.10" y="797.25" width="8.91" height="9.14" fill="#40c78f"/>
<rect x="69.71" y="797.25" width="8.91" height="9.14" fill="#74c861"/>
<rect x="78.32" y="797.25" width="8.91" height="9.14" fill="#9bc345"/>
<rect x="86.94" y="797.25" width="8.91" height="9.14" fill="#b5bf35"/>
<rect x="95.55" y="797.25" width="8.91" height="9.14" fill="#c5bd31"/>
<rect x="104.17" y="797.25" width="8.91" height="9.14" fill="#cfbb2f"/>
<rect x="112.78" y="797.25" width="8.91" height="9.14" fill="#d3bb2f"/>
<rect x="121.39" y="797.25" width="8.91" height="9.14" fill="#cfbb2f"/>
<rect x="130.01" y="797.25" width="8.91" height="9.14" fill="#c2bd31"/>
<rect x="138.62" y="797.25" width="8.91" height="9.14" fill="#b0c037"/>
<rect x="147.23" y="797.25" width="8.91" height="9.14" fill="#9fc342"/>
<rect x="155.85" y="797.25" width="8.91" height="9.14" fill="#88c751"/>
<rect x="164.46" y="797.25" width="8.91" height="9.14" fill="#62c86f"/>
<rect x="173.08" y="797.25" width="8.91" height="9.14" fill="#3ec790"/>
<rect x="181.69" y="797.25" width="8.91" height="9.14" fill="#2ac3a8"/>
<rect x="190.30" y="797.25" width="8.91" height="9.14" fill="#16beba"/>
<rect x="198.92" y="797.25" width="8.91" height="9.14" fill="#06b8c9"/>
<rect x="207.53" y="797.25" width="8.91" height="9.14" fill="#0fb0d1"/>
<rect x="216.14" y="797.25" width="8.91" height="9.14" fill="#17a8d9"/>
<rect x="224.76" y="797.25" width="8.91" height="9.14" fill="#1c9fdf"/>
<rect x="233.37" y="797.25" width="8.91" height="9.14" fill="#2197e6"/>
<rect x="241.99" y="797.25" width="8.91" height="9.14" fill="#258fec"/>
<rect x="0.80" y="806.10" width="8.91" height="9.14" fill="#258eec"/>
<rect x="9.41" y="806.10" width="8.91" height="9.14" fill="#2491ea"/>
<rect x="18.03" y="806.10" width="8.91" height="9.14" fill="#209ae4"/>
<rect x="26.64" y="806.10" width="8.91" height="9.14" fill="#19a4db"/>
<rect x="35.26" y="806.10" width="8.91" height="9.14" fill="#10afd2"/>
<rect x="43.87" y="806.10" width="8.91" height="9.14" fill="#06b8c9"/>
<rect x="52.48" y="806.10" width="8.91" height="9.14" fill="#19bfb7"/>
<rect x="61.10" y="806.10" width="8.91" height="9.14" fill="#35c59b"/>
<rect x="69.71" y="806.10" width="8.91" height="9.14" fill="#57c879"/>
<rect x="78.32" y="806.10" width="8.91" height="9.14" fill="#78c85d"/>
<rect x="86.94" y="806.10" width="8.91" height="9.14" fill="#8ac750"/>
<rect x="95.55" y="806.10" width="8.91" height="9.14" fill="#94c54a"/>
<rect x="104.17" y="806.10" width="8.91" height="9.14" fill="#9ac446"/>
<rect x="112.78" y="806.10" width="8.91" height="9.14" fill="#9dc344"/>
<rect x="121.39" y="806.10" width="8.91" height="9.14" fill="#9ac446"/>
<rect x="130.01" y="806.10" width="8.91" height="9.14" fill="#8cc64f"/>
<rect x="138.62" y="806.10" width="8.91" height="9.14" fill="#79c85c"/>
<rect x="147.23" y="806.10" width="8.91" height="9.14" fill="#69c869"/>
<rect x="155.85" y="806.10" width="8.91" height="9.14" fill="#57c879"/>
<rect x="164.46" y="806.10" width="8.91" height="9.14" fill="#41c78d"/>
<rect x="173.08" y="806.10" width="8.91" height="9.14" fill="#31c4a0"/>
<rect x="181.69" y="806.10" width="8.91" height="9.14" fill="#1ec0b3"/>
<rect x="190.30" y="806.10" width="8.91" height="9.14" fill="#0abac4"/>
<rect x="198.92" y="806.10" width="8.91" height="9.14" fill="#0db2cf"/>
<rect x="207.53" y="806.10" width="8.91" height="9.14" fill="#16aad7"/>
<rect x="216.14" y="806.10" width="8.91" height="9.14" fill="#1ba2de"/>
<rect x="224.76" y="806.10" width="8.91" height="9.14" fill="#209ae4"/>
<rect x="233.37" y="806.10" width="8.91" height="9.14" fill="#2491ea"/>
<rect x="241.99" y="806.10" width="8.91" height="9.14" fill="#2888f1"/>
<rect x="0.80" y="814.94" width="8.91" height="9.14" fill="#258eec"/>
<rect x="9.41" y="814.94" width="8.91" height="9.14" fill="#2590eb"/>
<rect x="18.03" y="814.94" width="8.91" height="9.14" fill="#2099e4"/>
<rect x="26.64" y="814.94" width="8.91" height="9.14" fill="#1aa4dc"/>
<rect x="35.26" y="814.94" width="8.91" height="9.14" fill="#12aed3"/>
<rect x="43.87" y="814.94" width="8.91" height="9.14" fill="#09b5cc"/>
<rect x="52.48" y="814.94" width="8.91" height="9.14" fill="#0ebcc0"/>
<rect x="61.10" y="814.94" width="8.91" height="9.14" fill="#27c3ab"/>
<rect x="69.71" y="814.94" width="8.91" height="9.14" fill="#3cc693"/>
<rect x="78.32" y="814.94" width="8.91" height="9.14" fill="#4dc881"/>
<rect x="86.94" y="814.94" width="8.91" height="9.14" fill="#5dc874"/>
<rect x="95.55" y="814.94" width="8.91" height="9.14" fill="#66c86c"/>
<rect x="104.17" y="814.94" width="8.91" height="9.14" fill="#6bc868"/>
<rect x="112.78" y="814.94" width="8.91" height="9.14" fill="#6ac869"/>
<rect x="121.39" y="814.94" width="8.91" height="9.14" fill="#63c86f"/>
<rect x="130.01" y="814.94" width="8.91" height="9.14" fill="#56c879"/>
<rect x="138.62" y="814.94" width="8.91" height="9.14" fill="#46c887"/>
<rect x="147.23" y="814.94" width="8.91" height="9.14" fill="#3dc791"/>
<rect x="155.85" y="814.94" width="8.91" height="9.14" fill="#34c59c"/>
<rect x="164.46" y="814.94" width="8.91" height="9.14" fill="#2ac3a8"/>
<rect x="173.08" y="814.94" width="8.91" height="9.14" fill="#1dc0b4"/>
<rect x="181.69" y="814.94" width="8.91" height="9.14" fill="#0bbbc3"/>
<rect x="190.30" y="814.94" width="8.91" height="9.14" fill="#0cb3ce"/>
<rect x="198.92" y="814.94" width="8.91" height="9.14" fill="#14acd5"/>
<rect x="207.53" y="814.94" width="8.91" height="9.14" fill="#19a5db"/>
<rect x="216.14" y="814.94" width="8.91" height="9.14" fill="#1d9de1"/>
<rect x="224.76" y="814.94" width="8.91" height="9.14" fill="#2295e7"/>
<rect x="233.37" y="814.94" width="8.91" height="9.14" fill="#278cef"/>
<rect x="241.99" y="814.94" width="8.91" height="9.14" fill="#2b81f7"/>
<rect x="0.80" y="823.79" width="8.91" height="9.14" fill="#2888f1"/>
<rect x="9.41" y="823.79" width="8.91" height="9.14" fill="#278bef"/>
<rect x="18.03" y="823.79" width="8.91" height="9.14" fill="#2394e8"/>
<rect x="26.64" y="823.79" width="8.91" height="9.14" fill="#1ca0df"/>
<rect x="35.26" y="823.79" width="8.91" height="9.14" fill="#16aad7"/>
<rect x="43.87" y="823.79" width="8.91" height="9.14" fill="#0fb0d1"/>
<rect x="52.48" y="823.79" width="8.91" height="9.14" fill="#08b6ca"/>
<rect x="61.10" y="823.79" width="8.91" height="9.14" fill="#13bdbc"/>
<rect x="69.71" y="823.79" width="8.91" height="9.14" fill="#28c3aa"/>
<rect x="78.32" y="823.79" width="8.91" height="9.14" fill="#35c59b"/>
<rect x="86.94" y="823.79" width="8.91" height="9.14" fill="#3dc791"/>
<rect x="95.55" y="823.79" width="8.91" height="9.14" fill="#44c88a"/>
<rect x="104.17" y="823.79" width="8.91" height="9.14" fill="#46c887"/>
<rect x="112.78" y="823.79" width="8.91" height="9.14" fill="#43c88a"/>
<rect x="121.39" y="823.79" width="8.91" height="9.14" fill="#3dc791"/>
<rect x="130.01" y="823.79" width="8.91" height="9.14" fill="#38c698"/>
<rect x="138.62" y="823.79" width="8.91" height="9.14" fill="#31c4a0"/>
<rect x="147.23" y="823.79" width="8.91" height="9.14" fill="#26c2ac"/>
<rect x="155.85" y="823.79" width="8.91" height="9.14" fill="#19bfb7"/>
<rect x="164.46" y="823.79" width="8.91" height="9.14" fill="#0fbcbf"/>
<rect x="173.08" y="823.79" width="8.91" height="9.14" fill="#05b9c8"/>
<rect x="181.69" y="823.79" width="8.91" height="9.14" fill="#0db2cf"/>
<rect x="190.30" y="823.79" width="8.91" height="9.14" fill="#16aad7"/>
<rect x="198.92" y="823.79" width="8.91" height="9.14" fill="#19a4db"/>
<rect x="207.53" y="823.79" width="8.91" height="9.14" fill="#1c9fe0"/>
<rect x="216.14" y="823.79" width="8.91" height="9.14" fill="#2198e5"/>
<rect x="224.76" y="823.79" width="8.91" height="9.14" fill="#268eed"/>
<rect x="233.37" y="823.79" width="8.91" height="9.14" fill="#2a83f5"/>
<rect x="241.99" y="823.79" width="8.91" height="9.14" fill="#3375fa"/>
<rect x="0.80" y="832.63" width="8.91" height="9.14" fill="#3277fa"/>
<rect x="9.41" y="832.63" width="8.91" height="9.14" fill="#2e7cfa"/>
<rect x="18.03" y="832.63" width="8.91" height="9.14" fill="#2987f2"/>
<rect x="26.64" y="832.63" width="8.91" height="9.14" fill="#2395e8"/>
<rect x="35.26" y="832.63" width="8.91" height="9.14" fill="#1ca0df"/>
<rect x="43.87" y="832.63" width="8.91" height="9.14" fill="#17a8d9"/>
<rect x="52.48" y="832.63" width="8.91" height="9.14" fill="#11aed3"/>
<rect x="61.10" y="832.63" width="8.91" height="9.14" fill="#08b6cb"/>
<rect x="69.71" y="832.63" width="8.91" height="9.14" fill="#12bdbd"/>
<rect x="78.32" y="832.63" width="8.91" height="9.14" fill="#22c1b0"/>
<rect x="86.94" y="832.63" width="8.91" height="9.14" fill="#2dc4a4"/>
<rect x="95.55" y="832.63" width="8.91" height="9.14" fill="#34c59c"/>
<rect x="104.17" y="832.63" width="8.91" height="9.14" fill="#36c599"/>
<rect x="112.78" y="832.63" width="8.91" height="9.14" fill="#32c59e"/>
<rect x="121.39" y="832.63" width="8.91" height="9.14" fill="#2cc4a5"/>
<rect x="130.01" y="832.63" width="8.91" height="9.14" fill="#26c2ac"/>
<rect x="138.62" y="832.63" width="8.91" height="9.14" fill="#1ec0b3"/>
<rect x="147.23" y="832.63" width="8.91" height="9.14" fill="#11bcbe"/>
<rect x="155.85" y="832.63" width="8.91" height="9.14" fill="#06b8c9"/>
<rect x="164.46" y="832.63" width="8.91" height="9.14" fill="#0cb3ce"/>
<rect x="173.08" y="832.63" width="8.91" height="9.14" fill="#11afd2"/>
<rect x="181.69" y="832.63" width="8.91" height="9.14" fill="#17a9d8"/>
<rect x="190.30" y="832.63" width="8.91" height="9.14" fill="#1ba2dd"/>
<rect x="198.92" y="832.63" width="8.91" height="9.14" fill="#1e9ce1"/>
<rect x="207.53" y="832.63" width="8.91" height="9.14" fill="#2296e7"/>
<rect x="216.14" y="832.63" width="8.91" height="9.14" fill="#268dee"/>
<rect x="224.76" y="832.63" width="8.91" height="9.14" fill="#2b81f7"/>
<rect x="233.37" y="832.63" width="8.91" height="9.14" fill="#3573fa"/>
<rect x="241.99" y="832.63" width="8.91" height="9.14" fill="#4263fa"/>
<rect x="0.80" y="841.48" width="8.91" height="9.14" fill="#465ffa"/>
<rect x="9.41" y="841.48" width="8.91" height="9.14" fill="#4066fa"/>
<rect x="18.03" y="841.48" width="8.91" height="9.14" fill="#3376fa"/>
<rect x="26.64" y="841.48" width="8.91" height="9.14" fill="#2986f3"/>
<rect x="35.26" y="841.48" width="8.91" height="9.14" fill="#2394e8"/>
<rect x="43.87" y="841.48" width="8.91" height="9.14" fill="#1e9de1"/>
<rect x="52.48" y="841.48" width="8.91" height="9.14" fill="#19a4db"/>
<rect x="61.10" y="841.48" width="8.91" height="9.14" fill="#14acd5"/>
<rect x="69.71" y="841.48" width="8.91" height="9.14" fill="#0bb4cd"/>
<rect x="78.32" y="841.48" width="8.91" height="9.14" fill="#0bbbc3"/>
<rect x="86.94" y="841.48" width="8.91" height="9.14" fill="#19bfb7"/>
<rect x="95.55" y="841.48" width="8.91" height="9.14" fill="#21c1b0"/>
<rect x="104.17" y="841.48" width="8.91" height="9.14" fill="#23c2ae"/>
<rect x="112.78" y="841.48" width="8.91" height="9.14" fill="#1fc1b1"/>
<rect x="121.39" y="841.48" width="8.91" height="9.14" fill="#19bfb7"/>
<rect x="130.01" y="841.48" width="8.91" height="9.14" fill="#12bdbc"/>
<rect x="138.62" y="841.48" width="8.91" height="9.14" fill="#0abac4"/>
<rect x="147.23" y="841.48" width="8.91" height="9.14" fill="#09b5cc"/>
<rect x="155.85" y="841.48" width="8.91" height="9.14" fill="#10afd2"/>
<rect x="164.46" y="841.48" width="8.91" height="9.14" fill="#16aad7"/>
<rect x="173.08" y="841.48" width="8.91" height="9.14" fill="#19a4db"/>
<rect x="181.69" y="841.48" width="8.91" height="9.14" fill="#1c9fdf"/>
<rect x="190.30" y="841.48" width="8.91" height="9.14" fill="#209ae4"/>
<rect x="198.92" y="841.48" width="8.91" height="9.14" fill="#2492ea"/>
<rect x="207.53" y="841.48" width="8.91" height="9.14" fill="#2888f1"/>
<rect x="216.14" y="841.48" width="8.91" height="9.14" fill="#2d7dfa"/>
<rect x="224.76" y="841.48" width="8.91" height="9.14" fill="#3a6efa"/>
<rect x="233.37" y="841.48" width="8.91" height="9.14" fill="#465efa"/>
<rect x="241.99" y="841.48" width="8.91" height="9.14" fill="#464ded"/>
<rect x="0.80" y="850.32" width="8.91" height="9.14" fill="#474aeb"/>
<rect x="9.41" y="850.32" width="8.91" height="9.14" fill="#4653f1"/>
<rect x="18.03" y="850.32" width="8.91" height="9.14" fill="#4165fa"/>
<rect x="26.64" y="850.32" width="8.91" height="9.14" fill="#3079fa"/>
<rect x="35.26" y="850.32" width="8.91" height="9.14" fill="#2888f1"/>
<rect x="43.87" y="850.32" width="8.91" height="9.14" fill="#2492e9"/>
<rect x="52.48" y="850.32" width="8.91" height="9.14" fill="#209ae4"/>
<rect x="61.10" y="850.32" width="8.91" height="9.14" fill="#1ca0df"/>
<rect x="69.71" y="850.32" width="8.91" height="9.14" fill="#18a7d9"/>
<rect x="78.32" y="850.32" width="8.91" height="9.14" fill="#11afd2"/>
<rect x="86.94" y="850.32" width="8.91" height="9.14" fill="#0ab5cc"/>
<rect x="95.55" y="850.32" width="8.91" height="9.14" fill="#06b8c9"/>
<rect x="104.17" y="850.32" width="8.91" height="9.14" fill="#06b9c7"/>
<rect x="112.78" y="850.32" width="8.91" height="9.14" fill="#05b9c8"/>
<rect x="121.39" y="850.32" width="8.91" height="9.14" fill="#07b7ca"/>
<rect x="130.01" y="850.32" width="8.91" height="9.14" fill="#0ab4cd"/>
<rect x="138.62" y="850.32" width="8.91" height="9.14" fill="#0fb1d0"/>
<rect x="147.23" y="850.32" width="8.91" height="9.14" fill="#15abd6"/>
<rect x="155.85" y="850.32" width="8.91" height="9.14" fill="#19a5db"/>
<rect x="164.46" y="850.32" width="8.91" height="9.14" fill="#1c9fdf"/>
<rect x="173.08" y="850.32" width="8.91" height="9.14" fill="#209ae4"/>
<rect x="181.69" y="850.32" width="8.91" height="9.14" fill="#2394e8"/>
<rect x="190.30" y="850.32" width="8.91" height="9.14" fill="#268cee"/>
<rect x="198.92" y="850.32" width="8.91" height="9.14" fill="#2b83f6"/>
<rect x="207.53" y="850.32" width="8.91" height="9.14" fill="#3376fa"/>
<rect x="216.14" y="850.32" width="8.91" height="9.14" fill="#3f68fa"/>
<rect x="224.76" y="850.32" width="8.91" height="9.14" fill="#4659f6"/>
<rect x="233.37" y="850.32" width="8.91" height="9.14" fill="#474aeb"/>
<rect x="241.99" y="850.32" width="8.91" height="9.14" fill="#463bde"/>
<rect x="0.80" y="859.17" width="8.91" height="9.14" fill="#473ce1"/>
<rect x="9.41" y="859.17" width="8.91" height="9.14" fill="#4744e7"/>
<rect x="18.03" y="859.17" width="8.91" height="9.14" fill="#4656f4"/>
<rect x="26.64" y="859.17" width="8.91" height="9.14" fill="#3c6bfa"/>
<rect x="35.26" y="859.17" width="8.91" height="9.14" fill="#2d7dfa"/>
<rect x="43.87" y="859.17" width="8.91" height="9.14" fill="#2987f2"/>
<rect x="52.48" y="859.17" width="8.91" height="9.14" fill="#268eed"/>
<rect x="61.10" y="859.17" width="8.91" height="9.14" fill="#2394e8"/>
<rect x="69.71" y="859.17" width="8.91" height="9.14" fill="#209ae4"/>
<rect x="78.32" y="859.17" width="8.91" height="9.14" fill="#1c9fdf"/>
<rect x="86.94" y="859.17" width="8.91" height="9.14" fill="#19a4db"/>
<rect x="95.55" y="859.17" width="8.91" height="9.14" fill="#17a8d9"/>
<rect x="104.17" y="859.17" width="8.91" height="9.14" fill="#16aad7"/>
<rect x="112.78" y="859.17" width="8.91" height="9.14" fill="#15abd6"/>
<rect x="121.39" y="859.17" width="8.91" height="9.14" fill="#16aad7"/>
<rect x="130.01" y="859.17" width="8.91" height="9.14" fill="#17a8d9"/>
<rect x="138.62" y="859.17" width="8.91" height="9.14" fill="#19a4db"/>
<rect x="147.23" y="859.17" width="8.91" height="9.14" fill="#1c9fdf"/>
<rect x="155.85" y="859.17" width="8.91" height="9.14" fill="#209ae4"/>
<rect x="164.46" y="859.17" width="8.91" height="9.14" fill="#2394e8"/>
<rect x="173.08" y="859.17" width="8.91" height="9.14" fill="#258eec"/>
<rect x="181.69" y="859.17" width="8.91" height="9.14" fill="#2987f2"/>
<rect x="190.30" y="859.17" width="8.91" height="9.14" fill="#2d7dfa"/>
<rect x="198.92" y="859.17" width="8.91" height="9.14" fill="#3a6efa"/>
<rect x="207.53" y="859.17" width="8.91" height="9.14" fill="#465ffa"/>
<rect x="216.14" y="859.17" width="8.91" height="9.14" fill="#4651f0"/>
<rect x="224.76" y="859.17" width="8.91" height="9.14" fill="#4745e7"/>
<rect x="233.37" y="859.17" width="8.91" height="9.14" fill="#463adc"/>
<rect x="241.99" y="859.17" width="8.91" height="9.14" fill="#4231c4"/>
<rect x="0.80" y="868.01" width="8.91" height="9.14" fill="#4434cb"/>
<rect x="9.41" y="868.01" width="8.91" height="9.14" fill="#4638d8"/>
<rect x="18.03" y="868.01" width="8.91" height="9.14" fill="#4747e9"/>
<rect x="26.64" y="868.01" width="8.91" height="9.14" fill="#465bf7"/>
<rect x="35.26" y="868.01" width="8.91" height="9.14" fill="#3b6cfa"/>
<rect x="43.87" y="868.01" width="8.91" height="9.14" fill="#2f7afa"/>
<rect x="52.48" y="868.01" width="8.91" height="9.14" fill="#2b83f6"/>
<rect x="61.10" y="868.01" width="8.91" height="9.14" fill="#2888f1"/>
<rect x="69.71" y="868.01" width="8.91" height="9.14" fill="#268dee"/>
<rect x="78.32" y="868.01" width="8.91" height="9.14" fill="#2492ea"/>
<rect x="86.94" y="868.01" width="8.91" height="9.14" fill="#2296e6"/>
<rect x="95.55" y="868.01" width="8.91" height="9.14" fill="#2099e4"/>
<rect x="104.17" y="868.01" width="8.91" height="9.14" fill="#1e9ce2"/>
<rect x="112.78" y="868.01" width="8.91" height="9.14" fill="#1e9de1"/>
<rect x="121.39" y="868.01" width="8.91" height="9.14" fill="#1e9de1"/>
<rect x="130.01" y="868.01" width="8.91" height="9.14" fill="#1e9ce2"/>
<rect x="138.62" y="868.01" width="8.91" height="9.14" fill="#2099e5"/>
<rect x="147.23" y="868.01" width="8.91" height="9.14" fill="#2394e8"/>
<rect x="155.85" y="868.01" width="8.91" height="9.14" fill="#268eed"/>
<rect x="164.46" y="868.01" width="8.91" height="9.14" fill="#2889f1"/>
<rect x="173.08" y="868.01" width="8.91" height="9.14" fill="#2b83f6"/>
<rect x="181.69" y="868.01" width="8.91" height="9.14" fill="#3079fa"/>
<rect x="190.30" y="868.01" width="8.91" height="9.14" fill="#3c6bfa"/>
<rect x="198.92" y="868.01" width="8.91" height="9.14" fill="#465af6"/>
<rect x="207.53" y="868.01" width="8.91" height="9.14" fill="#4749ea"/>
<rect x="216.14" y="868.01" width="8.91" height="9.14" fill="#473ce1"/>
<rect x="224.76" y="868.01" width="8.91" height="9.14" fill="#4537d3"/>
<rect x="233.37" y="868.01" width="8.91" height="9.14" fill="#4331c5"/>
<rect x="241.99" y="868.01" width="8.91" height="9.14" fill="#402ab3"/>
<rect x="0.80" y="876.86" width="8.91" height="9.14" fill="#3f29af"/>
<rect x="9.41" y="876.86" width="8.91" height="9.14" fill="#412ebd"/>
<rect x="18.03" y="876.86" width="8.91" height="9.14" fill="#4536d3"/>
<rect x="26.64" y="876.86" width="8.91" height="9.14" fill="#4744e6"/>
<rect x="35.26" y="876.86" width="8.91" height="9.14" fill="#4656f4"/>
<rect x="43.87" y="876.86" width="8.91" height="9.14" fill="#3f68fa"/>
<rect x="52.48" y="876.86" width="8.91" height="9.14" fill="#3376fa"/>
<rect x="61.10" y="876.86" width="8.91" height="9.14" fill="#2d7ef9"/>
<rect x="69.71" y="876.86" width="8.91" height="9.14" fill="#2a83f6"/>
<rect x="78.32" y="876.86" width="8.91" height="9.14" fill="#2889f1"/>
<rect x="86.94" y="876.86" width="8.91" height="9.14" fill="#268eed"/>
<rect x="95.55" y="876.86" width="8.91" height="9.14" fill="#2492ea"/>
<rect x="104.17" y="876.86" width="8.91" height="9.14" fill="#2394e8"/>
<rect x="112.78" y="876.86" width="8.91" height="9.14" fill="#2395e8"/>
<rect x="121.39" y="876.86" width="8.91" height="9.14" fill="#2394e8"/>
<rect x="130.01" y="876.86" width="8.91" height="9.14" fill="#2492ea"/>
<rect x="138.62" y="876.86" width="8.91" height="9.14" fill="#258eec"/>
<rect x="147.23" y="876.86" width="8.91" height="9.14" fill="#2889f1"/>
<rect x="155.85" y="876.86" width="8.91" height="9.14" fill="#2a83f5"/>
<rect x="164.46" y="876.86" width="8.91" height="9.14" fill="#2d7dfa"/>
<rect x="173.08" y="876.86" width="8.91" height="9.14" fill="#3376fa"/>
<rect x="181.69" y="876.86" width="8.91" height="9.14" fill="#3b6cfa"/>
<rect x="190.30" y="876.86" width="8.91" height="9.14" fill="#465ffa"/>
<rect x="198.92" y="876.86" width="8.91" height="9.14" fill="#474ded"/>
<rect x="207.53" y="876.86" width="8.91" height="9.14" fill="#473ce1"/>
<rect x="216.14" y="876.86" width="8.91" height="9.14" fill="#4434cc"/>
<rect x="224.76" y="876.86" width="8.91" height="9.14" fill="#412ebd"/>
<rect x="233.37" y="876.86" width="8.91" height="9.14" fill="#402ab2"/>
<rect x="241.99" y="876.86" width="8.91" height="9.14" fill="#3e26a8"/>
</g>
<g shape-rendering="crispEdges">
<rect x="298.10" y="629.20" width="8.97" height="9.14" fill="#402cb6"/>
<rect x="306.77" y="629.20" width="8.97" height="9.14" fill="#402cb6"/>
<rect x="315.44" y="629.20" width="8.97" height="9.14" fill="#412ebd"/>
<rect x="324.11" y="629.20" width="8.97" height="9.14" fill="#4332c8"/>
<rect x="332.78" y="629.20" width="8.97" height="9.14" fill="#4537d3"/>
<rect x="341.44" y="629.20" width="8.97" height="9.14" fill="#463adb"/>
<rect x="350.11" y="629.20" width="8.97" height="9.14" fill="#473ce1"/>
<rect x="358.78" y="629.20" width="8.97" height="9.14" fill="#473ee3"/>
<rect x="367.45" y="629.20" width="8.97" height="9.14" fill="#4740e4"/>
<rect x="376.12" y="629.20" width="8.97" height="9.14" fill="#4744e7"/>
<rect x="384.79" y="629.20" width="8.97" height="9.14" fill="#4749ea"/>
<rect x="393.46" y="629.20" width="8.97" height="9.14" fill="#4650ef"/>
<rect x="402.13" y="629.20" width="8.97" height="9.14" fill="#4656f4"/>
<rect x="410.80" y="629.20" width="8.97" height="9.14" fill="#4658f5"/>
<rect x="419.47" y="629.20" width="8.97" height="9.14" fill="#4656f4"/>
<rect x="428.13" y="629.20" width="8.97" height="9.14" fill="#4652f1"/>
<rect x="436.80" y="629.20" width="8.97" height="9.14" fill="#464eee"/>
<rect x="445.47" y="629.20" width="8.97" height="9.14" fill="#474aeb"/>
<rect x="454.14" y="629.20" width="8.97" height="9.14" fill="#4745e7"/>
<rect x="462.81" y="629.20" width="8.97" height="9.14" fill="#473ee2"/>
<rect x="471.48" y="629.20" width="8.97" height="9.14" fill="#4639da"/>
<rect x="480.15" y="629.20" width="8.97" height="9.14" fill="#4537d5"/>
<rect x="488.82" y="629.20" width="8.97" height="9.14" fill="#4536d3"/>
<rect x="497.49" y="629.20" width="8.97" height="9.14" fill="#4435cf"/>
<rect x="506.16" y="629.20" width="8.97" height="9.14" fill="#4434cc"/>
<rect x="514.82" y="629.20" width="8.97" height="9.14" fill="#4332c8"/>
<rect x="523.49" y="629.20" width="8.97" height="9.14" fill="#4231c4"/>
<rect x="532.16" y="629.20" width="8.97" height="9.14" fill="#422fbf"/>
<rect x="540.83" y="629.20" width="8.97" height="9.14" fill="#402cb6"/>
<rect x="298.10" y="638.04" width="8.97" height="9.14" fill="#3f2ab1"/>
<rect x="306.77" y="638.04" width="8.97" height="9.14" fill="#4230c3"/>
<rect x="315.44" y="638.04" width="8.97" height="9.14" fill="#4639da"/>
<rect x="324.11" y="638.04" width="8.97" height="9.14" fill="#4747e9"/>
<rect x="332.78" y="638.04" width="8.97" height="9.14" fill="#4653f1"/>
<rect x="341.44" y="638.04" width="8.97" height="9.14" fill="#465af6"/>
<rect x="350.11" y="638.04" width="8.97" height="9.14" fill="#465bf7"/>
<rect x="358.78" y="638.04" width="8.97" height="9.14" fill="#4657f5"/>
<rect x="367.45" y="638.04" width="8.97" height="9.14" fill="#4652f0"/>
<rect x="376.12" y="638.04" width="8.97" height="9.14" fill="#474ded"/>
<rect x="384.79" y="638.04" width="8.97" height="9.14" fill="#474aeb"/>
<rect x="393.46" y="638.04" width="8.97" height="9.14" fill="#474cec"/>
<rect x="402.13" y="638.04" width="8.97" height="9.14" fill="#464fee"/>
<rect x="410.80" y="638.04" width="8.97" height="9.14" fill="#4651f0"/>
<rect x="419.47" y="638.04" width="8.97" height="9.14" fill="#4653f1"/>
<rect x="428.13" y="638.04" width="8.97" height="9.14" fill="#4655f3"/>
<rect x="436.80" y="638.04" width="8.97" height="9.14" fill="#4655f3"/>
<rect x="445.47" y="638.04" width="8.97" height="9.14" fill="#4653f1"/>
<rect x="454.14" y="638.04" width="8.97" height="9.14" fill="#474ded"/>
<rect x="462.81" y="638.04" width="8.97" height="9.14" fill="#4744e6"/>
<rect x="471.48" y="638.04" width="8.97" height="9.14" fill="#473bde"/>
<rect x="480.15" y="638.04" width="8.97" height="9.14" fill="#4538d5"/>
<rect x="488.82" y="638.04" width="8.97" height="9.14" fill="#4537d3"/>
<rect x="497.49" y="638.04" width="8.97" height="9.14" fill="#4538d6"/>
<rect x="506.16" y="638.04" width="8.97" height="9.14" fill="#463adb"/>
<rect x="514.82" y="638.04" width="8.97" height="9.14" fill="#473bde"/>
<rect x="523.49" y="638.04" width="8.97" height="9.14" fill="#463bde"/>
<rect x="532.16" y="638.04" width="8.97" height="9.14" fill="#4538d6"/>
<rect x="540.83" y="638.04" width="8.97" height="9.14" fill="#4331c6"/>
<rect x="298.10" y="646.89" width="8.97" height="9.14" fill="#412ebd"/>
<rect x="306.77" y="646.89" width="8.97" height="9.14" fill="#4538d6"/>
<rect x="315.44" y="646.89" width="8.97" height="9.14" fill="#4747e9"/>
<rect x="324.11" y="646.89" width="8.97" height="9.14" fill="#4658f5"/>
<rect x="332.78" y="646.89" width="8.97" height="9.14" fill="#4165fa"/>
<rect x="341.44" y="646.89" width="8.97" height="9.14" fill="#3c6bfa"/>
<rect x="350.11" y="646.89" width="8.97" height="9.14" fill="#3b6cfa"/>
<rect x="358.78" y="646.89" width="8.97" height="9.14" fill="#3e68fa"/>
<rect x="367.45" y="646.89" width="8.97" height="9.14" fill="#4461fa"/>
<rect x="376.12" y="646.89" width="8.97" height="9.14" fill="#4657f4"/>
<rect x="384.79" y="646.89" width="8.97" height="9.14" fill="#4650ef"/>
<rect x="393.46" y="646.89" width="8.97" height="9.14" fill="#464eee"/>
<rect x="402.13" y="646.89" width="8.97" height="9.14" fill="#4650ef"/>
<rect x="410.80" y="646.89" width="8.97" height="9.14" fill="#4654f2"/>
<rect x="419.47" y="646.89" width="8.97" height="9.14" fill="#4658f5"/>
<rect x="428.13" y="646.89" width="8.97" height="9.14" fill="#465cf8"/>
<rect x="436.80" y="646.89" width="8.97" height="9.14" fill="#465df8"/>
<rect x="445.47" y="646.89" width="8.97" height="9.14" fill="#465af7"/>
<rect x="454.14" y="646.89" width="8.97" height="9.14" fill="#4654f2"/>
<rect x="462.81" y="646.89" width="8.97" height="9.14" fill="#474bec"/>
<rect x="471.48" y="646.89" width="8.97" height="9.14" fill="#4743e6"/>
<rect x="480.15" y="646.89" width="8.97" height="9.14" fill="#473ee3"/>
<rect x="488.82" y="646.89" width="8.97" height="9.14" fill="#473ee3"/>
<rect x="497.49" y="646.89" width="8.97" height="9.14" fill="#4740e4"/>
<rect x="506.16" y="646.89" width="8.97" height="9.14" fill="#4743e6"/>
<rect x="514.82" y="646.89" width="8.97" height="9.14" fill="#4744e7"/>
<rect x="523.49" y="646.89" width="8.97" height="9.14" fill="#4743e6"/>
<rect x="532.16" y="646.89" width="8.97" height="9.14" fill="#473de2"/>
<rect x="540.83" y="646.89" width="8.97" height="9.14" fill="#4536d3"/>
<rect x="298.10" y="655.73" width="8.97" height="9.14" fill="#4436d1"/>
<rect x="306.77" y="655.73" width="8.97" height="9.14" fill="#4742e5"/>
<rect x="315.44" y="655.73" width="8.97" height="9.14" fill="#4652f1"/>
<rect x="324.11" y="655.73" width="8.97" height="9.14" fill="#4462fa"/>
<rect x="332.78" y="655.73" width="8.97" height="9.14" fill="#3b6dfa"/>
<rect x="341.44" y="655.73" width="8.97" height="9.14" fill="#3574fa"/>
<rect x="350.11" y="655.73" width="8.97" height="9.14" fill="#3277fa"/>
<rect x="358.78" y="655.73" width="8.97" height="9.14" fill="#3474fa"/>
<rect x="367.45" y="655.73" width="8.97" height="9.14" fill="#3a6dfa"/>
<rect x="376.12" y="655.73" width="8.97" height="9.14" fill="#4362fa"/>
<rect x="384.79" y="655.73" width="8.97" height="9.14" fill="#4658f5"/>
<rect x="393.46" y="655.73" width="8.97" height="9.14" fill="#4654f2"/>
<rect x="402.13" y="655.73" width="8.97" height="9.14" fill="#4657f4"/>
<rect x="410.80" y="655.73" width="8.97" height="9.14" fill="#465df9"/>
<rect x="419.47" y="655.73" width="8.97" height="9.14" fill="#4362fa"/>
<rect x="428.13" y="655.73" width="8.97" height="9.14" fill="#4165fa"/>
<rect x="436.80" y="655.73" width="8.97" height="9.14" fill="#4264fa"/>
<rect x="445.47" y="655.73" width="8.97" height="9.14" fill="#4461fa"/>
<rect x="454.14" y="655.73" width="8.97" height="9.14" fill="#465cf8"/>
<rect x="462.81" y="655.73" width="8.97" height="9.14" fill="#4654f2"/>
<rect x="471.48" y="655.73" width="8.97" height="9.14" fill="#464eee"/>
<rect x="480.15" y="655.73" width="8.97" height="9.14" fill="#474cec"/>
<rect x="488.82" y="655.73" width="8.97" height="9.14" fill="#474ded"/>
<rect x="497.49" y="655.73" width="8.97" height="9.14" fill="#474ced"/>
<rect x="506.16" y="655.73" width="8.97" height="9.14" fill="#474bec"/>
<rect x="514.82" y="655.73" width="8.97" height="9.14" fill="#4749eb"/>
<rect x="523.49" y="655.73" width="8.97" height="9.14" fill="#4746e8"/>
<rect x="532.16" y="655.73" width="8.97" height="9.14" fill="#4741e5"/>
<rect x="540.83" y="655.73" width="8.97" height="9.14" fill="#463adc"/>
<rect x="298.10" y="664.58" width="8.97" height="9.14" fill="#473ce1"/>
<rect x="306.77" y="664.58" width="8.97" height="9.14" fill="#474aeb"/>
<rect x="315.44" y="664.58" width="8.97" height="9.14" fill="#4658f5"/>
<rect x="324.11" y="664.58" width="8.97" height="9.14" fill="#4165fa"/>
<rect x="332.78" y="664.58" width="8.97" height="9.14" fill="#3870fa"/>
<rect x="341.44" y="664.58" width="8.97" height="9.14" fill="#3079fa"/>
<rect x="350.11" y="664.58" width="8.97" height="9.14" fill="#2c7ef9"/>
<rect x="358.78" y="664.58" width="8.97" height="9.14" fill="#2d7ef9"/>
<rect x="367.45" y="664.58" width="8.97" height="9.14" fill="#3277fa"/>
<rect x="376.12" y="664.58" width="8.97" height="9.14" fill="#3c6bfa"/>
<rect x="384.79" y="664.58" width="8.97" height="9.14" fill="#4461fa"/>
<rect x="393.46" y="664.58" width="8.97" height="9.14" fill="#465ef9"/>
<rect x="402.13" y="664.58" width="8.97" height="9.14" fill="#4461fa"/>
<rect x="410.80" y="664.58" width="8.97" height="9.14" fill="#3f67fa"/>
<rect x="419.47" y="664.58" width="8.97" height="9.14" fill="#3b6cfa"/>
<rect x="428.13" y="664.58" width="8.97" height="9.14" fill="#3a6efa"/>
<rect x="436.80" y="664.58" width="8.97" height="9.14" fill="#3b6cfa"/>
<rect x="445.47" y="664.58" width="8.97" height="9.14" fill="#3d69fa"/>
<rect x="454.14" y="664.58" width="8.97" height="9.14" fill="#4165fa"/>
<rect x="462.81" y="664.58" width="8.97" height="9.14" fill="#465ef9"/>
<rect x="471.48" y="664.58" width="8.97" height="9.14" fill="#4658f5"/>
<rect x="480.15" y="664.58" width="8.97" height="9.14" fill="#4658f5"/>
<rect x="488.82" y="664.58" width="8.97" height="9.14" fill="#4658f5"/>
<rect x="497.49" y="664.58" width="8.97" height="9.14" fill="#4655f3"/>
<rect x="506.16" y="664.58" width="8.97" height="9.14" fill="#4650ef"/>
<rect x="514.82" y="664.58" width="8.97" height="9.14" fill="#474bec"/>
<rect x="523.49" y="664.58" width="8.97" height="9.14" fill="#4747e9"/>
<rect x="532.16" y="664.58" width="8.97" height="9.14" fill="#4742e5"/>
<rect x="540.83" y="664.58" width="8.97" height="9.14" fill="#473ce1"/>
<rect x="298.10" y="673.42" width="8.97" height="9.14" fill="#4741e4"/>
<rect x="306.77" y="673.42" width="8.97" height="9.14" fill="#474ded"/>
<rect x="315.44" y="673.42" width="8.97" height="9.14" fill="#4659f6"/>
<rect x="324.11" y="673.42" width="8.97" height="9.14" fill="#4164fa"/>
<rect x="332.78" y="673.42" width="8.97" height="9.14" fill="#3770fa"/>
<rect x="341.44" y="673.42" width="8.97" height="9.14" fill="#2d7ef9"/>
<rect x="350.11" y="673.42" width="8.97" height="9.14" fill="#2985f4"/>
<rect x="358.78" y="673.42" width="8.97" height="9.14" fill="#2986f3"/>
<rect x="367.45" y="673.42" width="8.97" height="9.14" fill="#2c80f8"/>
<rect x="376.12" y="673.42" width="8.97" height="9.14" fill="#3574fa"/>
<rect x="384.79" y="673.42" width="8.97" height="9.14" fill="#3e69fa"/>
<rect x="393.46" y="673.42" width="8.97" height="9.14" fill="#3f67fa"/>
<rect x="402.13" y="673.42" width="8.97" height="9.14" fill="#3c6bfa"/>
<rect x="410.80" y="673.42" width="8.97" height="9.14" fill="#3770fa"/>
<rect x="419.47" y="673.42" width="8.97" height="9.14" fill="#3475fa"/>
<rect x="428.13" y="673.42" width="8.97" height="9.14" fill="#3376fa"/>
<rect x="436.80" y="673.42" width="8.97" height="9.14" fill="#3375fa"/>
<rect x="445.47" y="673.42" width="8.97" height="9.14" fill="#3574fa"/>
<rect x="454.14" y="673.42" width="8.97" height="9.14" fill="#3870fa"/>
<rect x="462.81" y="673.42" width="8.97" height="9.14" fill="#3f68fa"/>
<rect x="471.48" y="673.42" width="8.97" height="9.14" fill="#4561fa"/>
<rect x="480.15" y="673.42" width="8.97" height="9.14" fill="#465efa"/>
<rect x="488.82" y="673.42" width="8.97" height="9.14" fill="#465df8"/>
<rect x="497.49" y="673.42" width="8.97" height="9.14" fill="#4656f4"/>
<rect x="506.16" y="673.42" width="8.97" height="9.14" fill="#464eee"/>
<rect x="514.82" y="673.42" width="8.97" height="9.14" fill="#474aeb"/>
<rect x="523.49" y="673.42" width="8.97" height="9.14" fill="#4747e9"/>
<rect x="532.16" y="673.42" width="8.97" height="9.14" fill="#4743e6"/>
<rect x="540.83" y="673.42" width="8.97" height="9.14" fill="#473ce1"/>
<rect x="298.10" y="682.27" width="8.97" height="9.14" fill="#4745e7"/>
<rect x="306.77" y="682.27" width="8.97" height="9.14" fill="#464fef"/>
<rect x="315.44" y="682.27" width="8.97" height="9.14" fill="#4658f5"/>
<rect x="324.11" y="682.27" width="8.97" height="9.14" fill="#4363fa"/>
<rect x="332.78" y="682.27" width="8.97" height="9.14" fill="#3870fa"/>
<rect x="341.44" y="682.27" width="8.97" height="9.14" fill="#2c80f8"/>
<rect x="350.11" y="682.27" width="8.97" height="9.14" fill="#278af0"/>
<rect x="358.78" y="682.27" width="8.97" height="9.14" fill="#268cee"/>
<rect x="367.45" y="682.27" width="8.97" height="9.14" fill="#2987f2"/>
<rect x="376.12" y="682.27" width="8.97" height="9.14" fill="#2d7dfa"/>
<rect x="384.79" y="682.27" width="8.97" height="9.14" fill="#3574fa"/>
<rect x="393.46" y="682.27" width="8.97" height="9.14" fill="#3673fa"/>
<rect x="402.13" y="682.27" width="8.97" height="9.14" fill="#3277fa"/>
<rect x="410.80" y="682.27" width="8.97" height="9.14" fill="#2e7cfa"/>
<rect x="419.47" y="682.27" width="8.97" height="9.14" fill="#2c7ef9"/>
<rect x="428.13" y="682.27" width="8.97" height="9.14" fill="#2c7ff8"/>
<rect x="436.80" y="682.27" width="8.97" height="9.14" fill="#2c7ef9"/>
<rect x="445.47" y="682.27" width="8.97" height="9.14" fill="#2d7dfa"/>
<rect x="454.14" y="682.27" width="8.97" height="9.14" fill="#3277fa"/>
<rect x="462.81" y="682.27" width="8.97" height="9.14" fill="#3a6efa"/>
<rect x="471.48" y="682.27" width="8.97" height="9.14" fill="#4165fa"/>
<rect x="480.15" y="682.27" width="8.97" height="9.14" fill="#4561fa"/>
<rect x="488.82" y="682.27" width="8.97" height="9.14" fill="#465df8"/>
<rect x="497.49" y="682.27" width="8.97" height="9.14" fill="#4654f2"/>
<rect x="506.16" y="682.27" width="8.97" height="9.14" fill="#474bec"/>
<rect x="514.82" y="682.27" width="8.97" height="9.14" fill="#4748e9"/>
<rect x="523.49" y="682.27" width="8.97" height="9.14" fill="#4747e9"/>
<rect x="532.16" y="682.27" width="8.97" height="9.14" fill="#4744e7"/>
<rect x="540.83" y="682.27" width="8.97" height="9.14" fill="#473ce1"/>
<rect x="298.10" y="691.11" width="8.97" height="9.14" fill="#464eee"/>
<rect x="306.77" y="691.11" width="8.97" height="9.14" fill="#4654f2"/>
<rect x="315.44" y="691.11" width="8.97" height="9.14" fill="#465bf7"/>
<rect x="324.11" y="691.11" width="8.97" height="9.14" fill="#4263fa"/>
<rect x="332.78" y="691.11" width="8.97" height="9.14" fill="#396ffa"/>
<rect x="341.44" y="691.11" width="8.97" height="9.14" fill="#2c7ff9"/>
<rect x="350.11" y="691.11" width="8.97" height="9.14" fill="#278af0"/>
<rect x="358.78" y="691.11" width="8.97" height="9.14" fill="#2590eb"/>
<rect x="367.45" y="691.11" width="8.97" height="9.14" fill="#258fec"/>
<rect x="376.12" y="691.11" width="8.97" height="9.14" fill="#2888f2"/>
<rect x="384.79" y="691.11" width="8.97" height="9.14" fill="#2b82f6"/>
<rect x="393.46" y="691.11" width="8.97" height="9.14" fill="#2b82f6"/>
<rect x="402.13" y="691.11" width="8.97" height="9.14" fill="#2986f3"/>
<rect x="410.80" y="691.11" width="8.97" height="9.14" fill="#2888f1"/>
<rect x="419.47" y="691.11" width="8.97" height="9.14" fill="#2889f0"/>
<rect x="428.13" y="691.11" width="8.97" height="9.14" fill="#2888f1"/>
<rect x="436.80" y="691.11" width="8.97" height="9.14" fill="#2a85f4"/>
<rect x="445.47" y="691.11" width="8.97" height="9.14" fill="#2c7ff8"/>
<rect x="454.14" y="691.11" width="8.97" height="9.14" fill="#3277fa"/>
<rect x="462.81" y="691.11" width="8.97" height="9.14" fill="#3a6efa"/>
<rect x="471.48" y="691.11" width="8.97" height="9.14" fill="#4066fa"/>
<rect x="480.15" y="691.11" width="8.97" height="9.14" fill="#4462fa"/>
<rect x="488.82" y="691.11" width="8.97" height="9.14" fill="#465df8"/>
<rect x="497.49" y="691.11" width="8.97" height="9.14" fill="#4653f1"/>
<rect x="506.16" y="691.11" width="8.97" height="9.14" fill="#474aeb"/>
<rect x="514.82" y="691.11" width="8.97" height="9.14" fill="#4748e9"/>
<rect x="523.49" y="691.11" width="8.97" height="9.14" fill="#4749ea"/>
<rect x="532.16" y="691.11" width="8.97" height="9.14" fill="#4747e9"/>
<rect x="540.83" y="691.11" width="8.97" height="9.14" fill="#473fe3"/>
<rect x="298.10" y="699.96" width="8.97" height="9.14" fill="#465bf7"/>
<rect x="306.77" y="699.96" width="8.97" height="9.14" fill="#465ef9"/>
<rect x="315.44" y="699.96" width="8.97" height="9.14" fill="#4461fa"/>
<rect x="324.11" y="699.96" width="8.97" height="9.14" fill="#4066fa"/>
<rect x="332.78" y="699.96" width="8.97" height="9.14" fill="#3870fa"/>
<rect x="341.44" y="699.96" width="8.97" height="9.14" fill="#2c7ef9"/>
<rect x="350.11" y="699.96" width="8.97" height="9.14" fill="#278af0"/>
<rect x="358.78" y="699.96" width="8.97" height="9.14" fill="#2492e9"/>
<rect x="367.45" y="699.96" width="8.97" height="9.14" fill="#2295e7"/>
<rect x="376.12" y="699.96" width="8.97" height="9.14" fill="#2493e9"/>
<rect x="384.79" y="699.96" width="8.97" height="9.14" fill="#2590eb"/>
<rect x="393.46" y="699.96" width="8.97" height="9.14" fill="#2492ea"/>
<rect x="402.13" y="699.96" width="8.97" height="9.14" fill="#2295e7"/>
<rect x="410.80" y="699.96" width="8.97" height="9.14" fill="#2197e6"/>
<rect x="419.47" y="699.96" width="8.97" height="9.14" fill="#2295e7"/>
<rect x="428.13" y="699.96" width="8.97" height="9.14" fill="#2491ea"/>
<rect x="436.80" y="699.96" width="8.97" height="9.14" fill="#278af0"/>
<rect x="445.47" y="699.96" width="8.97" height="9.14" fill="#2b81f7"/>
<rect x="454.14" y="699.96" width="8.97" height="9.14" fill="#3277fa"/>
<rect x="462.81" y="699.96" width="8.97" height="9.14" fill="#396ffa"/>
<rect x="471.48" y="699.96" width="8.97" height="9.14" fill="#3e68fa"/>
<rect x="480.15" y="699.96" width="8.97" height="9.14" fill="#4263fa"/>
<rect x="488.82" y="699.96" width="8.97" height="9.14" fill="#465df8"/>
<rect x="497.49" y="699.96" width="8.97" height="9.14" fill="#4653f1"/>
<rect x="506.16" y="699.96" width="8.97" height="9.14" fill="#474bec"/>
<rect x="514.82" y="699.96" width="8.97" height="9.14" fill="#474aeb"/>
<rect x="523.49" y="699.96" width="8.97" height="9.14" fill="#474bec"/>
<rect x="532.16" y="699.96" width="8.97" height="9.14" fill="#474bec"/>
<rect x="540.83" y="699.96" width="8.97" height="9.14" fill="#4745e7"/>
<rect x="298.10" y="708.80" width="8.97" height="9.14" fill="#4066fa"/>
<rect x="306.77" y="708.80" width="8.97" height="9.14" fill="#3f68fa"/>
<rect x="315.44" y="708.80" width="8.97" height="9.14" fill="#3e69fa"/>
<rect x="324.11" y="708.80" width="8.97" height="9.14" fill="#3b6cfa"/>
<rect x="332.78" y="708.80" width="8.97" height="9.14" fill="#3573fa"/>
<rect x="341.44" y="708.80" width="8.97" height="9.14" fill="#2c80f7"/>
<rect x="350.11" y="708.80" width="8.97" height="9.14" fill="#268cee"/>
<rect x="358.78" y="708.80" width="8.97" height="9.14" fill="#2295e7"/>
<rect x="367.45" y="708.80" width="8.97" height="9.14" fill="#209ae4"/>
<rect x="376.12" y="708.80" width="8.97" height="9.14" fill="#1f9be2"/>
<rect x="384.79" y="708.80" width="8.97" height="9.14" fill="#1e9de1"/>
<rect x="393.46" y="708.80" width="8.97" height="9.14" fill="#1ba1de"/>
<rect x="402.13" y="708.80" width="8.97" height="9.14" fill="#19a4db"/>
<rect x="410.80" y="708.80" width="8.97" height="9.14" fill="#1aa4dc"/>
<rect x="419.47" y="708.80" width="8.97" height="9.14" fill="#1c9fdf"/>
<rect x="428.13" y="708.80" width="8.97" height="9.14" fill="#2198e5"/>
<rect x="436.80" y="708.80" width="8.97" height="9.14" fill="#258eec"/>
<rect x="445.47" y="708.80" width="8.97" height="9.14" fill="#2986f3"/>
<rect x="454.14" y="708.80" width="8.97" height="9.14" fill="#2c7ef9"/>
<rect x="462.81" y="708.80" width="8.97" height="9.14" fill="#3277fa"/>
<rect x="471.48" y="708.80" width="8.97" height="9.14" fill="#3870fa"/>
<rect x="480.15" y="708.80" width="8.97" height="9.14" fill="#3f67fa"/>
<rect x="488.82" y="708.80" width="8.97" height="9.14" fill="#465ef9"/>
<rect x="497.49" y="708.80" width="8.97" height="9.14" fill="#4655f3"/>
<rect x="506.16" y="708.80" width="8.97" height="9.14" fill="#464fee"/>
<rect x="514.82" y="708.80" width="8.97" height="9.14" fill="#464eee"/>
<rect x="523.49" y="708.80" width="8.97" height="9.14" fill="#4650ef"/>
<rect x="532.16" y="708.80" width="8.97" height="9.14" fill="#4651f0"/>
<rect x="540.83" y="708.80" width="8.97" height="9.14" fill="#464eee"/>
<rect x="298.10" y="717.65" width="8.97" height="9.14" fill="#396efa"/>
<rect x="306.77" y="717.65" width="8.97" height="9.14" fill="#3870fa"/>
<rect x="315.44" y="717.65" width="8.97" height="9.14" fill="#3870fa"/>
<rect x="324.11" y="717.65" width="8.97" height="9.14" fill="#3771fa"/>
<rect x="332.78" y="717.65" width="8.97" height="9.14" fill="#3277fa"/>
<rect x="341.44" y="717.65" width="8.97" height="9.14" fill="#2b82f6"/>
<rect x="350.11" y="717.65" width="8.97" height="9.14" fill="#268dee"/>
<rect x="358.78" y="717.65" width="8.97" height="9.14" fill="#2295e7"/>
<rect x="367.45" y="717.65" width="8.97" height="9.14" fill="#1f9be3"/>
<rect x="376.12" y="717.65" width="8.97" height="9.14" fill="#1d9fe0"/>
<rect x="384.79" y="717.65" width="8.97" height="9.14" fill="#1aa3dc"/>
<rect x="393.46" y="717.65" width="8.97" height="9.14" fill="#17a8d8"/>
<rect x="402.13" y="717.65" width="8.97" height="9.14" fill="#15abd6"/>
<rect x="410.80" y="717.65" width="8.97" height="9.14" fill="#16aad7"/>
<rect x="419.47" y="717.65" width="8.97" height="9.14" fill="#1aa3dc"/>
<rect x="428.13" y="717.65" width="8.97" height="9.14" fill="#2099e4"/>
<rect x="436.80" y="717.65" width="8.97" height="9.14" fill="#2590eb"/>
<rect x="445.47" y="717.65" width="8.97" height="9.14" fill="#2889f1"/>
<rect x="454.14" y="717.65" width="8.97" height="9.14" fill="#2a84f4"/>
<rect x="462.81" y="717.65" width="8.97" height="9.14" fill="#2c7ff8"/>
<rect x="471.48" y="717.65" width="8.97" height="9.14" fill="#3277fa"/>
<rect x="480.15" y="717.65" width="8.97" height="9.14" fill="#3a6efa"/>
<rect x="488.82" y="717.65" width="8.97" height="9.14" fill="#4165fa"/>
<rect x="497.49" y="717.65" width="8.97" height="9.14" fill="#465df9"/>
<rect x="506.16" y="717.65" width="8.97" height="9.14" fill="#4658f5"/>
<rect x="514.82" y="717.65" width="8.97" height="9.14" fill="#4657f5"/>
<rect x="523.49" y="717.65" width="8.97" height="9.14" fill="#4658f5"/>
<rect x="532.16" y="717.65" width="8.97" height="9.14" fill="#4659f6"/>
<rect x="540.83" y="717.65" width="8.97" height="9.14" fill="#4656f4"/>
<rect x="298.10" y="726.49" width="8.97" height="9.14" fill="#3672fa"/>
<rect x="306.77" y="726.49" width="8.97" height="9.14" fill="#3673fa"/>
<rect x="315.44" y="726.49" width="8.97" height="9.14" fill="#3573fa"/>
<rect x="324.11" y="726.49" width="8.97" height="9.14" fill="#3475fa"/>
<rect x="332.78" y="726.49" width="8.97" height="9.14" fill="#3079fa"/>
<rect x="341.44" y="726.49" width="8.97" height="9.14" fill="#2c80f7"/>
<rect x="350.11" y="726.49" width="8.97" height="9.14" fill="#2889f1"/>
<rect x="358.78" y="726.49" width="8.97" height="9.14" fill="#2492ea"/>
<rect x="367.45" y="726.49" width="8.97" height="9.14" fill="#2099e4"/>
<rect x="376.12" y="726.49" width="8.97" height="9.14" fill="#1e9ce2"/>
<rect x="384.79" y="726.49" width="8.97" height="9.14" fill="#1d9fe0"/>
<rect x="393.46" y="726.49" width="8.97" height="9.14" fill="#1ba2dd"/>
<rect x="402.13" y="726.49" width="8.97" height="9.14" fill="#19a4db"/>
<rect x="410.80" y="726.49" width="8.97" height="9.14" fill="#1ba2dd"/>
<rect x="419.47" y="726.49" width="8.97" height="9.14" fill="#1e9de1"/>
<rect x="428.13" y="726.49" width="8.97" height="9.14" fill="#2394e8"/>
<rect x="436.80" y="726.49" width="8.97" height="9.14" fill="#268dee"/>
<rect x="445.47" y="726.49" width="8.97" height="9.14" fill="#2888f1"/>
<rect x="454.14" y="726.49" width="8.97" height="9.14" fill="#2a85f4"/>
<rect x="462.81" y="726.49" width="8.97" height="9.14" fill="#2b80f7"/>
<rect x="471.48" y="726.49" width="8.97" height="9.14" fill="#2e7cfa"/>
<rect x="480.15" y="726.49" width="8.97" height="9.14" fill="#3277fa"/>
<rect x="488.82" y="726.49" width="8.97" height="9.14" fill="#3672fa"/>
<rect x="497.49" y="726.49" width="8.97" height="9.14" fill="#3a6efa"/>
<rect x="506.16" y="726.49" width="8.97" height="9.14" fill="#3d6afa"/>
<rect x="514.82" y="726.49" width="8.97" height="9.14" fill="#3f67fa"/>
<rect x="523.49" y="726.49" width="8.97" height="9.14" fill="#4066fa"/>
<rect x="532.16" y="726.49" width="8.97" height="9.14" fill="#4363fa"/>
<rect x="540.83" y="726.49" width="8.97" height="9.14" fill="#465cf8"/>
<rect x="298.10" y="735.34" width="8.97" height="9.14" fill="#396efa"/>
<rect x="306.77" y="735.34" width="8.97" height="9.14" fill="#396efa"/>
<rect x="315.44" y="735.34" width="8.97" height="9.14" fill="#3870fa"/>
<rect x="324.11" y="735.34" width="8.97" height="9.14" fill="#3573fa"/>
<rect x="332.78" y="735.34" width="8.97" height="9.14" fill="#3277fa"/>
<rect x="341.44" y="735.34" width="8.97" height="9.14" fill="#2d7dfa"/>
<rect x="350.11" y="735.34" width="8.97" height="9.14" fill="#2a84f4"/>
<rect x="358.78" y="735.34" width="8.97" height="9.14" fill="#268eed"/>
<rect x="367.45" y="735.34" width="8.97" height="9.14" fill="#2295e7"/>
<rect x="376.12" y="735.34" width="8.97" height="9.14" fill="#2197e6"/>
<rect x="384.79" y="735.34" width="8.97" height="9.14" fill="#2295e7"/>
<rect x="393.46" y="735.34" width="8.97" height="9.14" fill="#2295e7"/>
<rect x="402.13" y="735.34" width="8.97" height="9.14" fill="#2295e7"/>
<rect x="410.80" y="735.34" width="8.97" height="9.14" fill="#2394e8"/>
<rect x="419.47" y="735.34" width="8.97" height="9.14" fill="#2590eb"/>
<rect x="428.13" y="735.34" width="8.97" height="9.14" fill="#278bef"/>
<rect x="436.80" y="735.34" width="8.97" height="9.14" fill="#2987f2"/>
<rect x="445.47" y="735.34" width="8.97" height="9.14" fill="#2986f3"/>
<rect x="454.14" y="735.34" width="8.97" height="9.14" fill="#2a84f4"/>
<rect x="462.81" y="735.34" width="8.97" height="9.14" fill="#2b81f7"/>
<rect x="471.48" y="735.34" width="8.97" height="9.14" fill="#2c7ef9"/>
<rect x="480.15" y="735.34" width="8.97" height="9.14" fill="#2c7ef9"/>
<rect x="488.82" y="735.34" width="8.97" height="9.14" fill="#2c7ef9"/>
<rect x="497.49" y="735.34" width="8.97" height="9.14" fill="#2e7cfa"/>
<rect x="506.16" y="735.34" width="8.97" height="9.14" fill="#3277fa"/>
<rect x="514.82" y="735.34" width="8.97" height="9.14" fill="#3574fa"/>
<rect x="523.49" y="735.34" width="8.97" height="9.14" fill="#3870fa"/>
<rect x="532.16" y="735.34" width="8.97" height="9.14" fill="#3d6afa"/>
<rect x="540.83" y="735.34" width="8.97" height="9.14" fill="#465ffa"/>
<rect x="298.10" y="744.18" width="8.97" height="9.14" fill="#4560fa"/>
<rect x="306.77" y="744.18" width="8.97" height="9.14" fill="#4362fa"/>
<rect x="315.44" y="744.18" width="8.97" height="9.14" fill="#4166fa"/>
<rect x="324.11" y="744.18" width="8.97" height="9.14" fill="#3d6afa"/>
<rect x="332.78" y="744.18" width="8.97" height="9.14" fill="#3771fa"/>
<rect x="341.44" y="744.18" width="8.97" height="9.14" fill="#2f7afa"/>
<rect x="350.11" y="744.18" width="8.97" height="9.14" fill="#2a84f5"/>
<rect x="358.78" y="744.18" width="8.97" height="9.14" fill="#268dee"/>
<rect x="367.45" y="744.18" width="8.97" height="9.14" fill="#2492e9"/>
<rect x="376.12" y="744.18" width="8.97" height="9.14" fill="#2492ea"/>
<rect x="384.79" y="744.18" width="8.97" height="9.14" fill="#268eed"/>
<rect x="393.46" y="744.18" width="8.97" height="9.14" fill="#278af0"/>
<rect x="402.13" y="744.18" width="8.97" height="9.14" fill="#2987f2"/>
<rect x="410.80" y="744.18" width="8.97" height="9.14" fill="#2a84f5"/>
<rect x="419.47" y="744.18" width="8.97" height="9.14" fill="#2b82f6"/>
<rect x="428.13" y="744.18" width="8.97" height="9.14" fill="#2b81f7"/>
<rect x="436.80" y="744.18" width="8.97" height="9.14" fill="#2b82f6"/>
<rect x="445.47" y="744.18" width="8.97" height="9.14" fill="#2a85f4"/>
<rect x="454.14" y="744.18" width="8.97" height="9.14" fill="#2987f2"/>
<rect x="462.81" y="744.18" width="8.97" height="9.14" fill="#2a85f4"/>
<rect x="471.48" y="744.18" width="8.97" height="9.14" fill="#2b82f6"/>
<rect x="480.15" y="744.18" width="8.97" height="9.14" fill="#2b81f7"/>
<rect x="488.82" y="744.18" width="8.97" height="9.14" fill="#2b81f7"/>
<rect x="497.49" y="744.18" width="8.97" height="9.14" fill="#2d7ef9"/>
<rect x="506.16" y="744.18" width="8.97" height="9.14" fill="#307afa"/>
<rect x="514.82" y="744.18" width="8.97" height="9.14" fill="#3376fa"/>
<rect x="523.49" y="744.18" width="8.97" height="9.14" fill="#3771fa"/>
<rect x="532.16" y="744.18" width="8.97" height="9.14" fill="#3d6afa"/>
<rect x="540.83" y="744.18" width="8.97" height="9.14" fill="#465efa"/>
<rect x="298.10" y="753.03" width="8.97" height="9.14" fill="#464eee"/>
<rect x="306.77" y="753.03" width="8.97" height="9.14" fill="#4654f2"/>
<rect x="315.44" y="753.03" width="8.97" height="9.14" fill="#4658f5"/>
<rect x="324.11" y="753.03" width="8.97" height="9.14" fill="#465ffa"/>
<rect x="332.78" y="753.03" width="8.97" height="9.14" fill="#3e68fa"/>
<rect x="341.44" y="753.03" width="8.97" height="9.14" fill="#3277fa"/>
<rect x="350.11" y="753.03" width="8.97" height="9.14" fill="#2a84f4"/>
<rect x="358.78" y="753.03" width="8.97" height="9.14" fill="#268cee"/>
<rect x="367.45" y="753.03" width="8.97" height="9.14" fill="#2590eb"/>
<rect x="376.12" y="753.03" width="8.97" height="9.14" fill="#258eec"/>
<rect x="384.79" y="753.03" width="8.97" height="9.14" fill="#278af0"/>
<rect x="393.46" y="753.03" width="8.97" height="9.14" fill="#2a84f4"/>
<rect x="402.13" y="753.03" width="8.97" height="9.14" fill="#2c7ef9"/>
<rect x="410.80" y="753.03" width="8.97" height="9.14" fill="#3079fa"/>
<rect x="419.47" y="753.03" width="8.97" height="9.14" fill="#3277fa"/>
<rect x="428.13" y="753.03" width="8.97" height="9.14" fill="#307afa"/>
<rect x="436.80" y="753.03" width="8.97" height="9.14" fill="#2c7ef9"/>
<rect x="445.47" y="753.03" width="8.97" height="9.14" fill="#2a84f5"/>
<rect x="454.14" y="753.03" width="8.97" height="9.14" fill="#2987f2"/>
<rect x="462.81" y="753.03" width="8.97" height="9.14" fill="#2987f2"/>
<rect x="471.48" y="753.03" width="8.97" height="9.14" fill="#2a84f4"/>
<rect x="480.15" y="753.03" width="8.97" height="9.14" fill="#2b81f7"/>
<rect x="488.82" y="753.03" width="8.97" height="9.14" fill="#2c7ef9"/>
<rect x="497.49" y="753.03" width="8.97" height="9.14" fill="#2f7bfa"/>
<rect x="506.16" y="753.03" width="8.97" height="9.14" fill="#3277fa"/>
<rect x="514.82" y="753.03" width="8.97" height="9.14" fill="#3474fa"/>
<rect x="523.49" y="753.03" width="8.97" height="9.14" fill="#3870fa"/>
<rect x="532.16" y="753.03" width="8.97" height="9.14" fill="#3e68fa"/>
<rect x="540.83" y="753.03" width="8.97" height="9.14" fill="#465bf7"/>
<rect x="298.10" y="761.87" width="8.97" height="9.14" fill="#4742e5"/>
<rect x="306.77" y="761.87" width="8.97" height="9.14" fill="#474aeb"/>
<rect x="315.44" y="761.87" width="8.97" height="9.14" fill="#464eee"/>
<rect x="324.11" y="761.87" width="8.97" height="9.14" fill="#4654f2"/>
<rect x="332.78" y="761.87" width="8.97" height="9.14" fill="#4560fa"/>
<rect x="341.44" y="761.87" width="8.97" height="9.14" fill="#3672fa"/>
<rect x="350.11" y="761.87" width="8.97" height="9.14" fill="#2b82f6"/>
<rect x="358.78" y="761.87" width="8.97" height="9.14" fill="#278bef"/>
<rect x="367.45" y="761.87" width="8.97" height="9.14" fill="#268eed"/>
<rect x="376.12" y="761.87" width="8.97" height="9.14" fill="#268eed"/>
<rect x="384.79" y="761.87" width="8.97" height="9.14" fill="#278af0"/>
<rect x="393.46" y="761.87" width="8.97" height="9.14" fill="#2a85f4"/>
<rect x="402.13" y="761.87" width="8.97" height="9.14" fill="#2c7ef9"/>
<rect x="410.80" y="761.87" width="8.97" height="9.14" fill="#3079fa"/>
<rect x="419.47" y="761.87" width="8.97" height="9.14" fill="#3178fa"/>
<rect x="428.13" y="761.87" width="8.97" height="9.14" fill="#2f7afa"/>
<rect x="436.80" y="761.87" width="8.97" height="9.14" fill="#2d7ef9"/>
<rect x="445.47" y="761.87" width="8.97" height="9.14" fill="#2c80f8"/>
<rect x="454.14" y="761.87" width="8.97" height="9.14" fill="#2b81f7"/>
<rect x="462.81" y="761.87" width="8.97" height="9.14" fill="#2b81f7"/>
<rect x="471.48" y="761.87" width="8.97" height="9.14" fill="#2b81f7"/>
<rect x="480.15" y="761.87" width="8.97" height="9.14" fill="#2c7ff9"/>
<rect x="488.82" y="761.87" width="8.97" height="9.14" fill="#2e7cfa"/>
<rect x="497.49" y="761.87" width="8.97" height="9.14" fill="#2f7afa"/>
<rect x="506.16" y="761.87" width="8.97" height="9.14" fill="#3178fa"/>
<rect x="514.82" y="761.87" width="8.97" height="9.14" fill="#3376fa"/>
<rect x="523.49" y="761.87" width="8.97" height="9.14" fill="#3771fa"/>
<rect x="532.16" y="761.87" width="8.97" height="9.14" fill="#3f67fa"/>
<rect x="540.83" y="761.87" width="8.97" height="9.14" fill="#4654f2"/>
<rect x="298.10" y="770.72" width="8.97" height="9.14" fill="#473ce1"/>
<rect x="306.77" y="770.72" width="8.97" height="9.14" fill="#4743e6"/>
<rect x="315.44" y="770.72" width="8.97" height="9.14" fill="#4747e9"/>
<rect x="324.11" y="770.72" width="8.97" height="9.14" fill="#474ced"/>
<rect x="332.78" y="770.72" width="8.97" height="9.14" fill="#4658f5"/>
<rect x="341.44" y="770.72" width="8.97" height="9.14" fill="#3b6cfa"/>
<rect x="350.11" y="770.72" width="8.97" height="9.14" fill="#2c7ef9"/>
<rect x="358.78" y="770.72" width="8.97" height="9.14" fill="#2888f1"/>
<rect x="367.45" y="770.72" width="8.97" height="9.14" fill="#268dee"/>
<rect x="376.12" y="770.72" width="8.97" height="9.14" fill="#258eec"/>
<rect x="384.79" y="770.72" width="8.97" height="9.14" fill="#268dee"/>
<rect x="393.46" y="770.72" width="8.97" height="9.14" fill="#2889f1"/>
<rect x="402.13" y="770.72" width="8.97" height="9.14" fill="#2a84f4"/>
<rect x="410.80" y="770.72" width="8.97" height="9.14" fill="#2c80f7"/>
<rect x="419.47" y="770.72" width="8.97" height="9.14" fill="#2c7ef9"/>
<rect x="428.13" y="770.72" width="8.97" height="9.14" fill="#2c7ff9"/>
<rect x="436.80" y="770.72" width="8.97" height="9.14" fill="#2c7ef9"/>
<rect x="445.47" y="770.72" width="8.97" height="9.14" fill="#2f7bfa"/>
<rect x="454.14" y="770.72" width="8.97" height="9.14" fill="#3277fa"/>
<rect x="462.81" y="770.72" width="8.97" height="9.14" fill="#3178fa"/>
<rect x="471.48" y="770.72" width="8.97" height="9.14" fill="#2f7bfa"/>
<rect x="480.15" y="770.72" width="8.97" height="9.14" fill="#2e7cfa"/>
<rect x="488.82" y="770.72" width="8.97" height="9.14" fill="#2f7bfa"/>
<rect x="497.49" y="770.72" width="8.97" height="9.14" fill="#2f7bfa"/>
<rect x="506.16" y="770.72" width="8.97" height="9.14" fill="#2f7bfa"/>
<rect x="514.82" y="770.72" width="8.97" height="9.14" fill="#3079fa"/>
<rect x="523.49" y="770.72" width="8.97" height="9.14" fill="#3574fa"/>
<rect x="532.16" y="770.72" width="8.97" height="9.14" fill="#4067fa"/>
<rect x="540.83" y="770.72" width="8.97" height="9.14" fill="#464eee"/>
<rect x="298.10" y="779.56" width="8.97" height="9.14" fill="#4639d8"/>
<rect x="306.77" y="779.56" width="8.97" height="9.14" fill="#473ee2"/>
<rect x="315.44" y="779.56" width="8.97" height="9.14" fill="#4742e5"/>
<rect x="324.11" y="779.56" width="8.97" height="9.14" fill="#4747e9"/>
<rect x="332.78" y="779.56" width="8.97" height="9.14" fill="#4652f1"/>
<rect x="341.44" y="779.56" width="8.97" height="9.14" fill="#4166fa"/>
<rect x="350.11" y="779.56" width="8.97" height="9.14" fill="#3079fa"/>
<rect x="358.78" y="779.56" width="8.97" height="9.14" fill="#2986f3"/>
<rect x="367.45" y="779.56" width="8.97" height="9.14" fill="#268cee"/>
<rect x="376.12" y="779.56" width="8.97" height="9.14" fill="#258fec"/>
<rect x="384.79" y="779.56" width="8.97" height="9.14" fill="#258fec"/>
<rect x="393.46" y="779.56" width="8.97" height="9.14" fill="#268eed"/>
<rect x="402.13" y="779.56" width="8.97" height="9.14" fill="#278bef"/>
<rect x="410.80" y="779.56" width="8.97" height="9.14" fill="#2888f2"/>
<rect x="419.47" y="779.56" width="8.97" height="9.14" fill="#2a84f4"/>
<rect x="428.13" y="779.56" width="8.97" height="9.14" fill="#2b82f6"/>
<rect x="436.80" y="779.56" width="8.97" height="9.14" fill="#2c7ff9"/>
<rect x="445.47" y="779.56" width="8.97" height="9.14" fill="#3178fa"/>
<rect x="454.14" y="779.56" width="8.97" height="9.14" fill="#3672fa"/>
<rect x="462.81" y="779.56" width="8.97" height="9.14" fill="#3573fa"/>
<rect x="471.48" y="779.56" width="8.97" height="9.14" fill="#3178fa"/>
<rect x="480.15" y="779.56" width="8.97" height="9.14" fill="#2f7afa"/>
<rect x="488.82" y="779.56" width="8.97" height="9.14" fill="#2e7bfa"/>
<rect x="497.49" y="779.56" width="8.97" height="9.14" fill="#2e7cfa"/>
<rect x="506.16" y="779.56" width="8.97" height="9.14" fill="#2d7cfa"/>
<rect x="514.82" y="779.56" width="8.97" height="9.14" fill="#2f7afa"/>
<rect x="523.49" y="779.56" width="8.97" height="9.14" fill="#3573fa"/>
<rect x="532.16" y="779.56" width="8.97" height="9.14" fill="#4164fa"/>
<rect x="540.83" y="779.56" width="8.97" height="9.14" fill="#4749ea"/>
<rect x="298.10" y="788.41" width="8.97" height="9.14" fill="#4536d3"/>
<rect x="306.77" y="788.41" width="8.97" height="9.14" fill="#473bde"/>
<rect x="315.44" y="788.41" width="8.97" height="9.14" fill="#473ee3"/>
<rect x="324.11" y="788.41" width="8.97" height="9.14" fill="#4744e7"/>
<rect x="332.78" y="788.41" width="8.97" height="9.14" fill="#4650ef"/>
<rect x="341.44" y="788.41" width="8.97" height="9.14" fill="#4263fa"/>
<rect x="350.11" y="788.41" width="8.97" height="9.14" fill="#3277fa"/>
<rect x="358.78" y="788.41" width="8.97" height="9.14" fill="#2985f4"/>
<rect x="367.45" y="788.41" width="8.97" height="9.14" fill="#268dee"/>
<rect x="376.12" y="788.41" width="8.97" height="9.14" fill="#258fec"/>
<rect x="384.79" y="788.41" width="8.97" height="9.14" fill="#2590eb"/>
<rect x="393.46" y="788.41" width="8.97" height="9.14" fill="#2590eb"/>
<rect x="402.13" y="788.41" width="8.97" height="9.14" fill="#2590eb"/>
<rect x="410.80" y="788.41" width="8.97" height="9.14" fill="#278cee"/>
<rect x="419.47" y="788.41" width="8.97" height="9.14" fill="#2987f2"/>
<rect x="428.13" y="788.41" width="8.97" height="9.14" fill="#2a83f5"/>
<rect x="436.80" y="788.41" width="8.97" height="9.14" fill="#2c7ef9"/>
<rect x="445.47" y="788.41" width="8.97" height="9.14" fill="#3376fa"/>
<rect x="454.14" y="788.41" width="8.97" height="9.14" fill="#3870fa"/>
<rect x="462.81" y="788.41" width="8.97" height="9.14" fill="#3672fa"/>
<rect x="471.48" y="788.41" width="8.97" height="9.14" fill="#3277fa"/>
<rect x="480.15" y="788.41" width="8.97" height="9.14" fill="#2f7afa"/>
<rect x="488.82" y="788.41" width="8.97" height="9.14" fill="#2f7bfa"/>
<rect x="497.49" y="788.41" width="8.97" height="9.14" fill="#2e7cfa"/>
<rect x="506.16" y="788.41" width="8.97" height="9.14" fill="#2f7bfa"/>
<rect x="514.82" y="788.41" width="8.97" height="9.14" fill="#3178fa"/>
<rect x="523.49" y="788.41" width="8.97" height="9.14" fill="#3870fa"/>
<rect x="532.16" y="788.41" width="8.97" height="9.14" fill="#4461fa"/>
<rect x="540.83" y="788.41" width="8.97" height="9.14" fill="#4745e7"/>
<rect x="298.10" y="797.25" width="8.97" height="9.14" fill="#4536d2"/>
<rect x="306.77" y="797.25" width="8.97" height="9.14" fill="#463adb"/>
<rect x="315.44" y="797.25" width="8.97" height="9.14" fill="#473de2"/>
<rect x="324.11" y="797.25" width="8.97" height="9.14" fill="#4744e7"/>
<rect x="332.78" y="797.25" width="8.97" height="9.14" fill="#4653f1"/>
<rect x="341.44" y="797.25" width="8.97" height="9.14" fill="#3e68fa"/>
<rect x="350.11" y="797.25" width="8.97" height="9.14" fill="#2d7dfa"/>
<rect x="358.78" y="797.25" width="8.97" height="9.14" fill="#2888f1"/>
<rect x="367.45" y="797.25" width="8.97" height="9.14" fill="#268eed"/>
<rect x="376.12" y="797.25" width="8.97" height="9.14" fill="#258fec"/>
<rect x="384.79" y="797.25" width="8.97" height="9.14" fill="#258fec"/>
<rect x="393.46" y="797.25" width="8.97" height="9.14" fill="#258fec"/>
<rect x="402.13" y="797.25" width="8.97" height="9.14" fill="#268eed"/>
<rect x="410.80" y="797.25" width="8.97" height="9.14" fill="#278af0"/>
<rect x="419.47" y="797.25" width="8.97" height="9.14" fill="#2a85f4"/>
<rect x="428.13" y="797.25" width="8.97" height="9.14" fill="#2b81f7"/>
<rect x="436.80" y="797.25" width="8.97" height="9.14" fill="#2e7cfa"/>
<rect x="445.47" y="797.25" width="8.97" height="9.14" fill="#3573fa"/>
<rect x="454.14" y="797.25" width="8.97" height="9.14" fill="#3a6efa"/>
<rect x="462.81" y="797.25" width="8.97" height="9.14" fill="#3771fa"/>
<rect x="471.48" y="797.25" width="8.97" height="9.14" fill="#3277fa"/>
<rect x="480.15" y="797.25" width="8.97" height="9.14" fill="#3079fa"/>
<rect x="488.82" y="797.25" width="8.97" height="9.14" fill="#3079fa"/>
<rect x="497.49" y="797.25" width="8.97" height="9.14" fill="#3178fa"/>
<rect x="506.16" y="797.25" width="8.97" height="9.14" fill="#3277fa"/>
<rect x="514.82" y="797.25" width="8.97" height="9.14" fill="#3573fa"/>
<rect x="523.49" y="797.25" width="8.97" height="9.14" fill="#3c6bfa"/>
<rect x="532.16" y="797.25" width="8.97" height="9.14" fill="#465cf8"/>
<rect x="540.83" y="797.25" width="8.97" height="9.14" fill="#4741e4"/>
<rect x="298.10" y="806.10" width="8.97" height="9.14" fill="#4537d3"/>
<rect x="306.77" y="806.10" width="8.97" height="9.14" fill="#463adc"/>
<rect x="315.44" y="806.10" width="8.97" height="9.14" fill="#473ee3"/>
<rect x="324.11" y="806.10" width="8.97" height="9.14" fill="#4747e9"/>
<rect x="332.78" y="806.10" width="8.97" height="9.14" fill="#4658f5"/>
<rect x="341.44" y="806.10" width="8.97" height="9.14" fill="#3770fa"/>
<rect x="350.11" y="806.10" width="8.97" height="9.14" fill="#2a84f4"/>
<rect x="358.78" y="806.10" width="8.97" height="9.14" fill="#268ded"/>
<rect x="367.45" y="806.10" width="8.97" height="9.14" fill="#2590eb"/>
<rect x="376.12" y="806.10" width="8.97" height="9.14" fill="#258fec"/>
<rect x="384.79" y="806.10" width="8.97" height="9.14" fill="#268dee"/>
<rect x="393.46" y="806.10" width="8.97" height="9.14" fill="#278af0"/>
<rect x="402.13" y="806.10" width="8.97" height="9.14" fill="#2987f2"/>
<rect x="410.80" y="806.10" width="8.97" height="9.14" fill="#2b83f6"/>
<rect x="419.47" y="806.10" width="8.97" height="9.14" fill="#2c7ef9"/>
<rect x="428.13" y="806.10" width="8.97" height="9.14" fill="#2e7bfa"/>
<rect x="436.80" y="806.10" width="8.97" height="9.14" fill="#3277fa"/>
<rect x="445.47" y="806.10" width="8.97" height="9.14" fill="#3771fa"/>
<rect x="454.14" y="806.10" width="8.97" height="9.14" fill="#3b6cfa"/>
<rect x="462.81" y="806.10" width="8.97" height="9.14" fill="#396ffa"/>
<rect x="471.48" y="806.10" width="8.97" height="9.14" fill="#3574fa"/>
<rect x="480.15" y="806.10" width="8.97" height="9.14" fill="#3475fa"/>
<rect x="488.82" y="806.10" width="8.97" height="9.14" fill="#3574fa"/>
<rect x="497.49" y="806.10" width="8.97" height="9.14" fill="#3672fa"/>
<rect x="506.16" y="806.10" width="8.97" height="9.14" fill="#3870fa"/>
<rect x="514.82" y="806.10" width="8.97" height="9.14" fill="#3b6cfa"/>
<rect x="523.49" y="806.10" width="8.97" height="9.14" fill="#4165fa"/>
<rect x="532.16" y="806.10" width="8.97" height="9.14" fill="#4656f3"/>
<rect x="540.83" y="806.10" width="8.97" height="9.14" fill="#473ce1"/>
<rect x="298.10" y="814.94" width="8.97" height="9.14" fill="#4537d3"/>
<rect x="306.77" y="814.94" width="8.97" height="9.14" fill="#473ce1"/>
<rect x="315.44" y="814.94" width="8.97" height="9.14" fill="#4743e6"/>
<rect x="324.11" y="814.94" width="8.97" height="9.14" fill="#474ced"/>
<rect x="332.78" y="814.94" width="8.97" height="9.14" fill="#465efa"/>
<rect x="341.44" y="814.94" width="8.97" height="9.14" fill="#3277fa"/>
<rect x="350.11" y="814.94" width="8.97" height="9.14" fill="#2889f0"/>
<rect x="358.78" y="814.94" width="8.97" height="9.14" fill="#2491ea"/>
<rect x="367.45" y="814.94" width="8.97" height="9.14" fill="#2491ea"/>
<rect x="376.12" y="814.94" width="8.97" height="9.14" fill="#268eed"/>
<rect x="384.79" y="814.94" width="8.97" height="9.14" fill="#288af0"/>
<rect x="393.46" y="814.94" width="8.97" height="9.14" fill="#2a84f5"/>
<rect x="402.13" y="814.94" width="8.97" height="9.14" fill="#2d7dfa"/>
<rect x="410.80" y="814.94" width="8.97" height="9.14" fill="#3277fa"/>
<rect x="419.47" y="814.94" width="8.97" height="9.14" fill="#3672fa"/>
<rect x="428.13" y="814.94" width="8.97" height="9.14" fill="#3771fa"/>
<rect x="436.80" y="814.94" width="8.97" height="9.14" fill="#386ffa"/>
<rect x="445.47" y="814.94" width="8.97" height="9.14" fill="#3a6dfa"/>
<rect x="454.14" y="814.94" width="8.97" height="9.14" fill="#3c6bfa"/>
<rect x="462.81" y="814.94" width="8.97" height="9.14" fill="#3d6afa"/>
<rect x="471.48" y="814.94" width="8.97" height="9.14" fill="#3d6afa"/>
<rect x="480.15" y="814.94" width="8.97" height="9.14" fill="#3d6afa"/>
<rect x="488.82" y="814.94" width="8.97" height="9.14" fill="#3d6afa"/>
<rect x="497.49" y="814.94" width="8.97" height="9.14" fill="#3e69fa"/>
<rect x="506.16" y="814.94" width="8.97" height="9.14" fill="#3f67fa"/>
<rect x="514.82" y="814.94" width="8.97" height="9.14" fill="#4264fa"/>
<rect x="523.49" y="814.94" width="8.97" height="9.14" fill="#465df8"/>
<rect x="532.16" y="814.94" width="8.97" height="9.14" fill="#464eee"/>
<rect x="540.83" y="814.94" width="8.97" height="9.14" fill="#4639d9"/>
<rect x="298.10" y="823.79" width="8.97" height="9.14" fill="#4536d3"/>
<rect x="306.77" y="823.79" width="8.97" height="9.14" fill="#473fe3"/>
<rect x="315.44" y="823.79" width="8.97" height="9.14" fill="#4747e9"/>
<rect x="324.11" y="823.79" width="8.97" height="9.14" fill="#4650ef"/>
<rect x="332.78" y="823.79" width="8.97" height="9.14" fill="#4461fa"/>
<rect x="341.44" y="823.79" width="8.97" height="9.14" fill="#3178fa"/>
<rect x="350.11" y="823.79" width="8.97" height="9.14" fill="#278af0"/>
<rect x="358.78" y="823.79" width="8.97" height="9.14" fill="#2491eb"/>
<rect x="367.45" y="823.79" width="8.97" height="9.14" fill="#2590eb"/>
<rect x="376.12" y="823.79" width="8.97" height="9.14" fill="#278bef"/>
<rect x="384.79" y="823.79" width="8.97" height="9.14" fill="#2a84f4"/>
<rect x="393.46" y="823.79" width="8.97" height="9.14" fill="#2f7bfa"/>
<rect x="402.13" y="823.79" width="8.97" height="9.14" fill="#3870fa"/>
<rect x="410.80" y="823.79" width="8.97" height="9.14" fill="#3e68fa"/>
<rect x="419.47" y="823.79" width="8.97" height="9.14" fill="#4165fa"/>
<rect x="428.13" y="823.79" width="8.97" height="9.14" fill="#4264fa"/>
<rect x="436.80" y="823.79" width="8.97" height="9.14" fill="#4165fa"/>
<rect x="445.47" y="823.79" width="8.97" height="9.14" fill="#4166fa"/>
<rect x="454.14" y="823.79" width="8.97" height="9.14" fill="#4165fa"/>
<rect x="462.81" y="823.79" width="8.97" height="9.14" fill="#4461fa"/>
<rect x="471.48" y="823.79" width="8.97" height="9.14" fill="#465df8"/>
<rect x="480.15" y="823.79" width="8.97" height="9.14" fill="#465cf8"/>
<rect x="488.82" y="823.79" width="8.97" height="9.14" fill="#465df8"/>
<rect x="497.49" y="823.79" width="8.97" height="9.14" fill="#465df9"/>
<rect x="506.16" y="823.79" width="8.97" height="9.14" fill="#465df8"/>
<rect x="514.82" y="823.79" width="8.97" height="9.14" fill="#465af7"/>
<rect x="523.49" y="823.79" width="8.97" height="9.14" fill="#4654f2"/>
<rect x="532.16" y="823.79" width="8.97" height="9.14" fill="#4748e9"/>
<rect x="540.83" y="823.79" width="8.97" height="9.14" fill="#4536d3"/>
<rect x="298.10" y="832.63" width="8.97" height="9.14" fill="#4537d4"/>
<rect x="306.77" y="832.63" width="8.97" height="9.14" fill="#4741e4"/>
<rect x="315.44" y="832.63" width="8.97" height="9.14" fill="#4748ea"/>
<rect x="324.11" y="832.63" width="8.97" height="9.14" fill="#4650ef"/>
<rect x="332.78" y="832.63" width="8.97" height="9.14" fill="#465ffa"/>
<rect x="341.44" y="832.63" width="8.97" height="9.14" fill="#3573fa"/>
<rect x="350.11" y="832.63" width="8.97" height="9.14" fill="#2a84f5"/>
<rect x="358.78" y="832.63" width="8.97" height="9.14" fill="#278af0"/>
<rect x="367.45" y="832.63" width="8.97" height="9.14" fill="#2889f0"/>
<rect x="376.12" y="832.63" width="8.97" height="9.14" fill="#2a84f4"/>
<rect x="384.79" y="832.63" width="8.97" height="9.14" fill="#2e7cfa"/>
<rect x="393.46" y="832.63" width="8.97" height="9.14" fill="#396ffa"/>
<rect x="402.13" y="832.63" width="8.97" height="9.14" fill="#4363fa"/>
<rect x="410.80" y="832.63" width="8.97" height="9.14" fill="#465bf7"/>
<rect x="419.47" y="832.63" width="8.97" height="9.14" fill="#4657f4"/>
<rect x="428.13" y="832.63" width="8.97" height="9.14" fill="#4656f4"/>
<rect x="436.80" y="832.63" width="8.97" height="9.14" fill="#4657f4"/>
<rect x="445.47" y="832.63" width="8.97" height="9.14" fill="#4658f5"/>
<rect x="454.14" y="832.63" width="8.97" height="9.14" fill="#4657f4"/>
<rect x="462.81" y="832.63" width="8.97" height="9.14" fill="#4652f0"/>
<rect x="471.48" y="832.63" width="8.97" height="9.14" fill="#474ded"/>
<rect x="480.15" y="832.63" width="8.97" height="9.14" fill="#474cec"/>
<rect x="488.82" y="832.63" width="8.97" height="9.14" fill="#464eee"/>
<rect x="497.49" y="832.63" width="8.97" height="9.14" fill="#464fef"/>
<rect x="506.16" y="832.63" width="8.97" height="9.14" fill="#4651f0"/>
<rect x="514.82" y="832.63" width="8.97" height="9.14" fill="#4650f0"/>
<rect x="523.49" y="832.63" width="8.97" height="9.14" fill="#474ded"/>
<rect x="532.16" y="832.63" width="8.97" height="9.14" fill="#4744e6"/>
<rect x="540.83" y="832.63" width="8.97" height="9.14" fill="#4536d2"/>
<rect x="298.10" y="841.48" width="8.97" height="9.14" fill="#4536d3"/>
<rect x="306.77" y="841.48" width="8.97" height="9.14" fill="#4740e4"/>
<rect x="315.44" y="841.48" width="8.97" height="9.14" fill="#4747e9"/>
<rect x="324.11" y="841.48" width="8.97" height="9.14" fill="#474ded"/>
<rect x="332.78" y="841.48" width="8.97" height="9.14" fill="#4658f5"/>
<rect x="341.44" y="841.48" width="8.97" height="9.14" fill="#3e69fa"/>
<rect x="350.11" y="841.48" width="8.97" height="9.14" fill="#3277fa"/>
<rect x="358.78" y="841.48" width="8.97" height="9.14" fill="#2c7ef9"/>
<rect x="367.45" y="841.48" width="8.97" height="9.14" fill="#2c7ef9"/>
<rect x="376.12" y="841.48" width="8.97" height="9.14" fill="#3079fa"/>
<rect x="384.79" y="841.48" width="8.97" height="9.14" fill="#3870fa"/>
<rect x="393.46" y="841.48" width="8.97" height="9.14" fill="#4264fa"/>
<rect x="402.13" y="841.48" width="8.97" height="9.14" fill="#4658f5"/>
<rect x="410.80" y="841.48" width="8.97" height="9.14" fill="#4652f1"/>
<rect x="419.47" y="841.48" width="8.97" height="9.14" fill="#4650ef"/>
<rect x="428.13" y="841.48" width="8.97" height="9.14" fill="#4650ef"/>
<rect x="436.80" y="841.48" width="8.97" height="9.14" fill="#4650ef"/>
<rect x="445.47" y="841.48" width="8.97" height="9.14" fill="#464eee"/>
<rect x="454.14" y="841.48" width="8.97" height="9.14" fill="#474bec"/>
<rect x="462.81" y="841.48" width="8.97" height="9.14" fill="#4747e9"/>
<rect x="471.48" y="841.48" width="8.97" height="9.14" fill="#4743e6"/>
<rect x="480.15" y="841.48" width="8.97" height="9.14" fill="#4741e5"/>
<rect x="488.82" y="841.48" width="8.97" height="9.14" fill="#4743e6"/>
<rect x="497.49" y="841.48" width="8.97" height="9.14" fill="#4745e7"/>
<rect x="506.16" y="841.48" width="8.97" height="9.14" fill="#4747e9"/>
<rect x="514.82" y="841.48" width="8.97" height="9.14" fill="#4748ea"/>
<rect x="523.49" y="841.48" width="8.97" height="9.14" fill="#4747e9"/>
<rect x="532.16" y="841.48" width="8.97" height="9.14" fill="#4741e4"/>
<rect x="540.83" y="841.48" width="8.97" height="9.14" fill="#4536d3"/>
<rect x="298.10" y="850.32" width="8.97" height="9.14" fill="#4434cd"/>
<rect x="306.77" y="850.32" width="8.97" height="9.14" fill="#473ce1"/>
<rect x="315.44" y="850.32" width="8.97" height="9.14" fill="#4744e7"/>
<rect x="324.11" y="850.32" width="8.97" height="9.14" fill="#4749eb"/>
<rect x="332.78" y="850.32" width="8.97" height="9.14" fill="#4651f0"/>
<rect x="341.44" y="850.32" width="8.97" height="9.14" fill="#465bf7"/>
<rect x="350.11" y="850.32" width="8.97" height="9.14" fill="#4165fa"/>
<rect x="358.78" y="850.32" width="8.97" height="9.14" fill="#3c6bfa"/>
<rect x="367.45" y="850.32" width="8.97" height="9.14" fill="#3a6dfa"/>
<rect x="376.12" y="850.32" width="8.97" height="9.14" fill="#3c6bfa"/>
<rect x="384.79" y="850.32" width="8.97" height="9.14" fill="#4165fa"/>
<rect x="393.46" y="850.32" width="8.97" height="9.14" fill="#465bf7"/>
<rect x="402.13" y="850.32" width="8.97" height="9.14" fill="#4653f1"/>
<rect x="410.80" y="850.32" width="8.97" height="9.14" fill="#4650ef"/>
<rect x="419.47" y="850.32" width="8.97" height="9.14" fill="#4652f1"/>
<rect x="428.13" y="850.32" width="8.97" height="9.14" fill="#4654f2"/>
<rect x="436.80" y="850.32" width="8.97" height="9.14" fill="#4655f3"/>
<rect x="445.47" y="850.32" width="8.97" height="9.14" fill="#4653f2"/>
<rect x="454.14" y="850.32" width="8.97" height="9.14" fill="#464eee"/>
<rect x="462.81" y="850.32" width="8.97" height="9.14" fill="#4748ea"/>
<rect x="471.48" y="850.32" width="8.97" height="9.14" fill="#4743e6"/>
<rect x="480.15" y="850.32" width="8.97" height="9.14" fill="#473fe3"/>
<rect x="488.82" y="850.32" width="8.97" height="9.14" fill="#473fe3"/>
<rect x="497.49" y="850.32" width="8.97" height="9.14" fill="#4740e4"/>
<rect x="506.16" y="850.32" width="8.97" height="9.14" fill="#4742e5"/>
<rect x="514.82" y="850.32" width="8.97" height="9.14" fill="#4743e6"/>
<rect x="523.49" y="850.32" width="8.97" height="9.14" fill="#4743e6"/>
<rect x="532.16" y="850.32" width="8.97" height="9.14" fill="#473ee2"/>
<rect x="540.83" y="850.32" width="8.97" height="9.14" fill="#4436d1"/>
<rect x="298.10" y="859.17" width="8.97" height="9.14" fill="#4231c4"/>
<rect x="306.77" y="859.17" width="8.97" height="9.14" fill="#4639d8"/>
<rect x="315.44" y="859.17" width="8.97" height="9.14" fill="#473ee3"/>
<rect x="324.11" y="859.17" width="8.97" height="9.14" fill="#4743e6"/>
<rect x="332.78" y="859.17" width="8.97" height="9.14" fill="#4747e9"/>
<rect x="341.44" y="859.17" width="8.97" height="9.14" fill="#474bec"/>
<rect x="350.11" y="859.17" width="8.97" height="9.14" fill="#4650ef"/>
<rect x="358.78" y="859.17" width="8.97" height="9.14" fill="#4655f3"/>
<rect x="367.45" y="859.17" width="8.97" height="9.14" fill="#4658f5"/>
<rect x="376.12" y="859.17" width="8.97" height="9.14" fill="#465af7"/>
<rect x="384.79" y="859.17" width="8.97" height="9.14" fill="#4658f5"/>
<rect x="393.46" y="859.17" width="8.97" height="9.14" fill="#4653f2"/>
<rect x="402.13" y="859.17" width="8.97" height="9.14" fill="#4650ef"/>
<rect x="410.80" y="859.17" width="8.97" height="9.14" fill="#4652f1"/>
<rect x="419.47" y="859.17" width="8.97" height="9.14" fill="#4658f5"/>
<rect x="428.13" y="859.17" width="8.97" height="9.14" fill="#465efa"/>
<rect x="436.80" y="859.17" width="8.97" height="9.14" fill="#4461fa"/>
<rect x="445.47" y="859.17" width="8.97" height="9.14" fill="#465ffa"/>
<rect x="454.14" y="859.17" width="8.97" height="9.14" fill="#4658f5"/>
<rect x="462.81" y="859.17" width="8.97" height="9.14" fill="#4650ef"/>
<rect x="471.48" y="859.17" width="8.97" height="9.14" fill="#4747e9"/>
<rect x="480.15" y="859.17" width="8.97" height="9.14" fill="#4741e5"/>
<rect x="488.82" y="859.17" width="8.97" height="9.14" fill="#473ee3"/>
<rect x="497.49" y="859.17" width="8.97" height="9.14" fill="#473ee2"/>
<rect x="506.16" y="859.17" width="8.97" height="9.14" fill="#473ee3"/>
<rect x="514.82" y="859.17" width="8.97" height="9.14" fill="#473fe3"/>
<rect x="523.49" y="859.17" width="8.97" height="9.14" fill="#473ee3"/>
<rect x="532.16" y="859.17" width="8.97" height="9.14" fill="#463add"/>
<rect x="540.83" y="859.17" width="8.97" height="9.14" fill="#4434cc"/>
<rect x="298.10" y="868.01" width="8.97" height="9.14" fill="#412ebc"/>
<rect x="306.77" y="868.01" width="8.97" height="9.14" fill="#4333cb"/>
<rect x="315.44" y="868.01" width="8.97" height="9.14" fill="#4537d5"/>
<rect x="324.11" y="868.01" width="8.97" height="9.14" fill="#463adb"/>
<rect x="332.78" y="868.01" width="8.97" height="9.14" fill="#473bdf"/>
<rect x="341.44" y="868.01" width="8.97" height="9.14" fill="#473bdf"/>
<rect x="350.11" y="868.01" width="8.97" height="9.14" fill="#473ce1"/>
<rect x="358.78" y="868.01" width="8.97" height="9.14" fill="#473fe3"/>
<rect x="367.45" y="868.01" width="8.97" height="9.14" fill="#4743e6"/>
<rect x="376.12" y="868.01" width="8.97" height="9.14" fill="#4747e9"/>
<rect x="384.79" y="868.01" width="8.97" height="9.14" fill="#474aeb"/>
<rect x="393.46" y="868.01" width="8.97" height="9.14" fill="#474aeb"/>
<rect x="402.13" y="868.01" width="8.97" height="9.14" fill="#474ced"/>
<rect x="410.80" y="868.01" width="8.97" height="9.14" fill="#4653f2"/>
<rect x="419.47" y="868.01" width="8.97" height="9.14" fill="#465cf8"/>
<rect x="428.13" y="868.01" width="8.97" height="9.14" fill="#4263fa"/>
<rect x="436.80" y="868.01" width="8.97" height="9.14" fill="#4067fa"/>
<rect x="445.47" y="868.01" width="8.97" height="9.14" fill="#4165fa"/>
<rect x="454.14" y="868.01" width="8.97" height="9.14" fill="#465ffa"/>
<rect x="462.81" y="868.01" width="8.97" height="9.14" fill="#4653f2"/>
<rect x="471.48" y="868.01" width="8.97" height="9.14" fill="#4748e9"/>
<rect x="480.15" y="868.01" width="8.97" height="9.14" fill="#473fe3"/>
<rect x="488.82" y="868.01" width="8.97" height="9.14" fill="#473bdf"/>
<rect x="497.49" y="868.01" width="8.97" height="9.14" fill="#463adb"/>
<rect x="506.16" y="868.01" width="8.97" height="9.14" fill="#4639da"/>
<rect x="514.82" y="868.01" width="8.97" height="9.14" fill="#4639da"/>
<rect x="523.49" y="868.01" width="8.97" height="9.14" fill="#4639d9"/>
<rect x="532.16" y="868.01" width="8.97" height="9.14" fill="#4536d3"/>
<rect x="540.83" y="868.01" width="8.97" height="9.14" fill="#4331c5"/>
<rect x="298.10" y="876.86" width="8.97" height="9.14" fill="#402cb6"/>
<rect x="306.77" y="876.86" width="8.97" height="9.14" fill="#412dba"/>
<rect x="315.44" y="876.86" width="8.97" height="9.14" fill="#412ebd"/>
<rect x="324.11" y="876.86" width="8.97" height="9.14" fill="#4230c1"/>
<rect x="332.78" y="876.86" width="8.97" height="9.14" fill="#4231c4"/>
<rect x="341.44" y="876.86" width="8.97" height="9.14" fill="#4332c8"/>
<rect x="350.11" y="876.86" width="8.97" height="9.14" fill="#4434cc"/>
<rect x="358.78" y="876.86" width="8.97" height="9.14" fill="#4435cf"/>
<rect x="367.45" y="876.86" width="8.97" height="9.14" fill="#4536d3"/>
<rect x="376.12" y="876.86" width="8.97" height="9.14" fill="#4538d5"/>
<rect x="384.79" y="876.86" width="8.97" height="9.14" fill="#4639da"/>
<rect x="393.46" y="876.86" width="8.97" height="9.14" fill="#473de2"/>
<rect x="402.13" y="876.86" width="8.97" height="9.14" fill="#4745e7"/>
<rect x="410.80" y="876.86" width="8.97" height="9.14" fill="#464eee"/>
<rect x="419.47" y="876.86" width="8.97" height="9.14" fill="#4656f4"/>
<rect x="428.13" y="876.86" width="8.97" height="9.14" fill="#465cf8"/>
<rect x="436.80" y="876.86" width="8.97" height="9.14" fill="#465ffa"/>
<rect x="445.47" y="876.86" width="8.97" height="9.14" fill="#465df9"/>
<rect x="454.14" y="876.86" width="8.97" height="9.14" fill="#4656f4"/>
<rect x="462.81" y="876.86" width="8.97" height="9.14" fill="#4749eb"/>
<rect x="471.48" y="876.86" width="8.97" height="9.14" fill="#473ce1"/>
<rect x="480.15" y="876.86" width="8.97" height="9.14" fill="#4537d3"/>
<rect x="488.82" y="876.86" width="8.97" height="9.14" fill="#4434cc"/>
<rect x="497.49" y="876.86" width="8.97" height="9.14" fill="#4332c7"/>
<rect x="506.16" y="876.86" width="8.97" height="9.14" fill="#4231c4"/>
<rect x="514.82" y="876.86" width="8.97" height="9.14" fill="#4231c4"/>
<rect x="523.49" y="876.86" width="8.97" height="9.14" fill="#4231c4"/>
<rect x="532.16" y="876.86" width="8.97" height="9.14" fill="#4230c3"/>
<rect x="540.83" y="876.86" width="8.97" height="9.14" fill="#412ebd"/>
</g>
<g shape-rendering="crispEdges">
<rect x="642.60" y="629.60" width="8.94" height="9.14" fill="#3f29af"/>
<rect x="651.24" y="629.60" width="8.94" height="9.14" fill="#3f29b0"/>
<rect x="659.89" y="629.60" width="8.94" height="9.14" fill="#412ebd"/>
<rect x="668.53" y="629.60" width="8.94" height="9.14" fill="#4537d3"/>
<rect x="677.18" y="629.60" width="8.94" height="9.14" fill="#4745e7"/>
<rect x="685.82" y="629.60" width="8.94" height="9.14" fill="#4658f5"/>
<rect x="694.47" y="629.60" width="8.94" height="9.14" fill="#4067fa"/>
<rect x="703.11" y="629.60" width="8.94" height="9.14" fill="#386ffa"/>
<rect x="711.76" y="629.60" width="8.94" height="9.14" fill="#3376fa"/>
<rect x="720.40" y="629.60" width="8.94" height="9.14" fill="#2d7dfa"/>
<rect x="729.05" y="629.60" width="8.94" height="9.14" fill="#2b83f6"/>
<rect x="737.69" y="629.60" width="8.94" height="9.14" fill="#2889f1"/>
<rect x="746.34" y="629.60" width="8.94" height="9.14" fill="#268eec"/>
<rect x="754.98" y="629.60" width="8.94" height="9.14" fill="#2492ea"/>
<rect x="763.63" y="629.60" width="8.94" height="9.14" fill="#2394e8"/>
<rect x="772.27" y="629.60" width="8.94" height="9.14" fill="#2395e8"/>
<rect x="780.92" y="629.60" width="8.94" height="9.14" fill="#2394e8"/>
<rect x="789.56" y="629.60" width="8.94" height="9.14" fill="#2492e9"/>
<rect x="798.21" y="629.60" width="8.94" height="9.14" fill="#258eec"/>
<rect x="806.85" y="629.60" width="8.94" height="9.14" fill="#2987f2"/>
<rect x="815.50" y="629.60" width="8.94" height="9.14" fill="#2d7dfa"/>
<rect x="824.14" y="629.60" width="8.94" height="9.14" fill="#396efa"/>
<rect x="832.79" y="629.60" width="8.94" height="9.14" fill="#465ffa"/>
<rect x="841.43" y="629.60" width="8.94" height="9.14" fill="#474ded"/>
<rect x="850.08" y="629.60" width="8.94" height="9.14" fill="#473ce1"/>
<rect x="858.72" y="629.60" width="8.94" height="9.14" fill="#4434cc"/>
<rect x="867.37" y="629.60" width="8.94" height="9.14" fill="#412ebd"/>
<rect x="876.01" y="629.60" width="8.94" height="9.14" fill="#402bb4"/>
<rect x="884.66" y="629.60" width="8.94" height="9.14" fill="#3f29af"/>
<rect x="642.60" y="638.44" width="8.94" height="9.14" fill="#3f2ab1"/>
<rect x="651.24" y="638.44" width="8.94" height="9.14" fill="#412cb8"/>
<rect x="659.89" y="638.44" width="8.94" height="9.14" fill="#4536d1"/>
<rect x="668.53" y="638.44" width="8.94" height="9.14" fill="#4748e9"/>
<rect x="677.18" y="638.44" width="8.94" height="9.14" fill="#465ef9"/>
<rect x="685.82" y="638.44" width="8.94" height="9.14" fill="#3a6dfa"/>
<rect x="694.47" y="638.44" width="8.94" height="9.14" fill="#3178fa"/>
<rect x="703.11" y="638.44" width="8.94" height="9.14" fill="#2c7ff8"/>
<rect x="711.76" y="638.44" width="8.94" height="9.14" fill="#2985f3"/>
<rect x="720.40" y="638.44" width="8.94" height="9.14" fill="#268dee"/>
<rect x="729.05" y="638.44" width="8.94" height="9.14" fill="#2393e9"/>
<rect x="737.69" y="638.44" width="8.94" height="9.14" fill="#2296e7"/>
<rect x="746.34" y="638.44" width="8.94" height="9.14" fill="#2197e5"/>
<rect x="754.98" y="638.44" width="8.94" height="9.14" fill="#209ae3"/>
<rect x="763.63" y="638.44" width="8.94" height="9.14" fill="#1e9ce2"/>
<rect x="772.27" y="638.44" width="8.94" height="9.14" fill="#1e9ce2"/>
<rect x="780.92" y="638.44" width="8.94" height="9.14" fill="#1f9ae3"/>
<rect x="789.56" y="638.44" width="8.94" height="9.14" fill="#2098e5"/>
<rect x="798.21" y="638.44" width="8.94" height="9.14" fill="#2395e8"/>
<rect x="806.85" y="638.44" width="8.94" height="9.14" fill="#268ded"/>
<rect x="815.50" y="638.44" width="8.94" height="9.14" fill="#2a84f5"/>
<rect x="824.14" y="638.44" width="8.94" height="9.14" fill="#3178fa"/>
<rect x="832.79" y="638.44" width="8.94" height="9.14" fill="#3d6afa"/>
<rect x="841.43" y="638.44" width="8.94" height="9.14" fill="#465af6"/>
<rect x="850.08" y="638.44" width="8.94" height="9.14" fill="#4748ea"/>
<rect x="858.72" y="638.44" width="8.94" height="9.14" fill="#463add"/>
<rect x="867.37" y="638.44" width="8.94" height="9.14" fill="#4333ca"/>
<rect x="876.01" y="638.44" width="8.94" height="9.14" fill="#412ebc"/>
<rect x="884.66" y="638.44" width="8.94" height="9.14" fill="#402bb5"/>
<rect x="642.60" y="647.28" width="8.94" height="9.14" fill="#4231c5"/>
<rect x="651.24" y="647.28" width="8.94" height="9.14" fill="#4536d2"/>
<rect x="659.89" y="647.28" width="8.94" height="9.14" fill="#4745e7"/>
<rect x="668.53" y="647.28" width="8.94" height="9.14" fill="#465bf7"/>
<rect x="677.18" y="647.28" width="8.94" height="9.14" fill="#396efa"/>
<rect x="685.82" y="647.28" width="8.94" height="9.14" fill="#2f7bfa"/>
<rect x="694.47" y="647.28" width="8.94" height="9.14" fill="#2a83f5"/>
<rect x="703.11" y="647.28" width="8.94" height="9.14" fill="#2889f1"/>
<rect x="711.76" y="647.28" width="8.94" height="9.14" fill="#268eed"/>
<rect x="720.40" y="647.28" width="8.94" height="9.14" fill="#2394e8"/>
<rect x="729.05" y="647.28" width="8.94" height="9.14" fill="#209ae4"/>
<rect x="737.69" y="647.28" width="8.94" height="9.14" fill="#1e9de1"/>
<rect x="746.34" y="647.28" width="8.94" height="9.14" fill="#1c9fe0"/>
<rect x="754.98" y="647.28" width="8.94" height="9.14" fill="#1ba2dd"/>
<rect x="763.63" y="647.28" width="8.94" height="9.14" fill="#19a4db"/>
<rect x="772.27" y="647.28" width="8.94" height="9.14" fill="#19a5db"/>
<rect x="780.92" y="647.28" width="8.94" height="9.14" fill="#19a5db"/>
<rect x="789.56" y="647.28" width="8.94" height="9.14" fill="#1aa3dd"/>
<rect x="798.21" y="647.28" width="8.94" height="9.14" fill="#1c9fe0"/>
<rect x="806.85" y="647.28" width="8.94" height="9.14" fill="#2198e5"/>
<rect x="815.50" y="647.28" width="8.94" height="9.14" fill="#258eec"/>
<rect x="824.14" y="647.28" width="8.94" height="9.14" fill="#2a83f5"/>
<rect x="832.79" y="647.28" width="8.94" height="9.14" fill="#3376fa"/>
<rect x="841.43" y="647.28" width="8.94" height="9.14" fill="#4066fa"/>
<rect x="850.08" y="647.28" width="8.94" height="9.14" fill="#4656f4"/>
<rect x="858.72" y="647.28" width="8.94" height="9.14" fill="#4746e8"/>
<rect x="867.37" y="647.28" width="8.94" height="9.14" fill="#4639da"/>
<rect x="876.01" y="647.28" width="8.94" height="9.14" fill="#4333ca"/>
<rect x="884.66" y="647.28" width="8.94" height="9.14" fill="#4231c4"/>
<rect x="642.60" y="656.11" width="8.94" height="9.14" fill="#473ce0"/>
<rect x="651.24" y="656.11" width="8.94" height="9.14" fill="#4747e9"/>
<rect x="659.89" y="656.11" width="8.94" height="9.14" fill="#4658f5"/>
<rect x="668.53" y="656.11" width="8.94" height="9.14" fill="#3d6afa"/>
<rect x="677.18" y="656.11" width="8.94" height="9.14" fill="#307afa"/>
<rect x="685.82" y="656.11" width="8.94" height="9.14" fill="#2a83f5"/>
<rect x="694.47" y="656.11" width="8.94" height="9.14" fill="#2889f0"/>
<rect x="703.11" y="656.11" width="8.94" height="9.14" fill="#258fec"/>
<rect x="711.76" y="656.11" width="8.94" height="9.14" fill="#2393e8"/>
<rect x="720.40" y="656.11" width="8.94" height="9.14" fill="#2197e5"/>
<rect x="729.05" y="656.11" width="8.94" height="9.14" fill="#1e9ce2"/>
<rect x="737.69" y="656.11" width="8.94" height="9.14" fill="#1ba1de"/>
<rect x="746.34" y="656.11" width="8.94" height="9.14" fill="#18a7da"/>
<rect x="754.98" y="656.11" width="8.94" height="9.14" fill="#15abd6"/>
<rect x="763.63" y="656.11" width="8.94" height="9.14" fill="#11aed3"/>
<rect x="772.27" y="656.11" width="8.94" height="9.14" fill="#0fb0d1"/>
<rect x="780.92" y="656.11" width="8.94" height="9.14" fill="#0fb0d1"/>
<rect x="789.56" y="656.11" width="8.94" height="9.14" fill="#11afd2"/>
<rect x="798.21" y="656.11" width="8.94" height="9.14" fill="#15abd6"/>
<rect x="806.85" y="656.11" width="8.94" height="9.14" fill="#1aa4dc"/>
<rect x="815.50" y="656.11" width="8.94" height="9.14" fill="#209ae3"/>
<rect x="824.14" y="656.11" width="8.94" height="9.14" fill="#268eed"/>
<rect x="832.79" y="656.11" width="8.94" height="9.14" fill="#2b82f6"/>
<rect x="841.43" y="656.11" width="8.94" height="9.14" fill="#3474fa"/>
<rect x="850.08" y="656.11" width="8.94" height="9.14" fill="#4165fa"/>
<rect x="858.72" y="656.11" width="8.94" height="9.14" fill="#4655f3"/>
<rect x="867.37" y="656.11" width="8.94" height="9.14" fill="#4745e7"/>
<rect x="876.01" y="656.11" width="8.94" height="9.14" fill="#463bde"/>
<rect x="884.66" y="656.11" width="8.94" height="9.14" fill="#4639d9"/>
<rect x="642.60" y="664.95" width="8.94" height="9.14" fill="#464eee"/>
<rect x="651.24" y="664.95" width="8.94" height="9.14" fill="#4659f6"/>
<rect x="659.89" y="664.95" width="8.94" height="9.14" fill="#4067fa"/>
<rect x="668.53" y="664.95" width="8.94" height="9.14" fill="#3474fa"/>
<rect x="677.18" y="664.95" width="8.94" height="9.14" fill="#2c80f8"/>
<rect x="685.82" y="664.95" width="8.94" height="9.14" fill="#2888f1"/>
<rect x="694.47" y="664.95" width="8.94" height="9.14" fill="#268eed"/>
<rect x="703.11" y="664.95" width="8.94" height="9.14" fill="#2393e9"/>
<rect x="711.76" y="664.95" width="8.94" height="9.14" fill="#2197e6"/>
<rect x="720.40" y="664.95" width="8.94" height="9.14" fill="#1f9ae3"/>
<rect x="729.05" y="664.95" width="8.94" height="9.14" fill="#1c9fe0"/>
<rect x="737.69" y="664.95" width="8.94" height="9.14" fill="#18a7d9"/>
<rect x="746.34" y="664.95" width="8.94" height="9.14" fill="#10afd2"/>
<rect x="754.98" y="664.95" width="8.94" height="9.14" fill="#0ab5cc"/>
<rect x="763.63" y="664.95" width="8.94" height="9.14" fill="#05b9c8"/>
<rect x="772.27" y="664.95" width="8.94" height="9.14" fill="#0abac4"/>
<rect x="780.92" y="664.95" width="8.94" height="9.14" fill="#0abac4"/>
<rect x="789.56" y="664.95" width="8.94" height="9.14" fill="#05b9c8"/>
<rect x="798.21" y="664.95" width="8.94" height="9.14" fill="#0bb4cd"/>
<rect x="806.85" y="664.95" width="8.94" height="9.14" fill="#12add4"/>
<rect x="815.50" y="664.95" width="8.94" height="9.14" fill="#19a4db"/>
<rect x="824.14" y="664.95" width="8.94" height="9.14" fill="#209ae4"/>
<rect x="832.79" y="664.95" width="8.94" height="9.14" fill="#268eec"/>
<rect x="841.43" y="664.95" width="8.94" height="9.14" fill="#2a83f5"/>
<rect x="850.08" y="664.95" width="8.94" height="9.14" fill="#3376fa"/>
<rect x="858.72" y="664.95" width="8.94" height="9.14" fill="#4066fa"/>
<rect x="867.37" y="664.95" width="8.94" height="9.14" fill="#4656f4"/>
<rect x="876.01" y="664.95" width="8.94" height="9.14" fill="#474aeb"/>
<rect x="884.66" y="664.95" width="8.94" height="9.14" fill="#4745e7"/>
<rect x="642.60" y="673.79" width="8.94" height="9.14" fill="#465cf8"/>
<rect x="651.24" y="673.79" width="8.94" height="9.14" fill="#4264fa"/>
<rect x="659.89" y="673.79" width="8.94" height="9.14" fill="#396efa"/>
<rect x="668.53" y="673.79" width="8.94" height="9.14" fill="#3079fa"/>
<rect x="677.18" y="673.79" width="8.94" height="9.14" fill="#2a83f5"/>
<rect x="685.82" y="673.79" width="8.94" height="9.14" fill="#278cef"/>
<rect x="694.47" y="673.79" width="8.94" height="9.14" fill="#2492e9"/>
<rect x="703.11" y="673.79" width="8.94" height="9.14" fill="#2296e6"/>
<rect x="711.76" y="673.79" width="8.94" height="9.14" fill="#1f9ae3"/>
<rect x="720.40" y="673.79" width="8.94" height="9.14" fill="#1c9fdf"/>
<rect x="729.05" y="673.79" width="8.94" height="9.14" fill="#18a6da"/>
<rect x="737.69" y="673.79" width="8.94" height="9.14" fill="#10b0d1"/>
<rect x="746.34" y="673.79" width="8.94" height="9.14" fill="#05b9c8"/>
<rect x="754.98" y="673.79" width="8.94" height="9.14" fill="#14bdbb"/>
<rect x="763.63" y="673.79" width="8.94" height="9.14" fill="#1ec0b2"/>
<rect x="772.27" y="673.79" width="8.94" height="9.14" fill="#22c1af"/>
<rect x="780.92" y="673.79" width="8.94" height="9.14" fill="#1ec0b2"/>
<rect x="789.56" y="673.79" width="8.94" height="9.14" fill="#14bdbb"/>
<rect x="798.21" y="673.79" width="8.94" height="9.14" fill="#07b9c7"/>
<rect x="806.85" y="673.79" width="8.94" height="9.14" fill="#0cb3ce"/>
<rect x="815.50" y="673.79" width="8.94" height="9.14" fill="#13add4"/>
<rect x="824.14" y="673.79" width="8.94" height="9.14" fill="#19a6da"/>
<rect x="832.79" y="673.79" width="8.94" height="9.14" fill="#1e9de1"/>
<rect x="841.43" y="673.79" width="8.94" height="9.14" fill="#2492ea"/>
<rect x="850.08" y="673.79" width="8.94" height="9.14" fill="#2985f3"/>
<rect x="858.72" y="673.79" width="8.94" height="9.14" fill="#3178fa"/>
<rect x="867.37" y="673.79" width="8.94" height="9.14" fill="#3d6afa"/>
<rect x="876.01" y="673.79" width="8.94" height="9.14" fill="#465df9"/>
<rect x="884.66" y="673.79" width="8.94" height="9.14" fill="#4651f0"/>
<rect x="642.60" y="682.63" width="8.94" height="9.14" fill="#4066fa"/>
<rect x="651.24" y="682.63" width="8.94" height="9.14" fill="#3b6cfa"/>
<rect x="659.89" y="682.63" width="8.94" height="9.14" fill="#3376fa"/>
<rect x="668.53" y="682.63" width="8.94" height="9.14" fill="#2c80f8"/>
<rect x="677.18" y="682.63" width="8.94" height="9.14" fill="#2888f1"/>
<rect x="685.82" y="682.63" width="8.94" height="9.14" fill="#2491eb"/>
<rect x="694.47" y="682.63" width="8.94" height="9.14" fill="#2197e6"/>
<rect x="703.11" y="682.63" width="8.94" height="9.14" fill="#1f9be3"/>
<rect x="711.76" y="682.63" width="8.94" height="9.14" fill="#1c9fe0"/>
<rect x="720.40" y="682.63" width="8.94" height="9.14" fill="#18a6da"/>
<rect x="729.05" y="682.63" width="8.94" height="9.14" fill="#10afd2"/>
<rect x="737.69" y="682.63" width="8.94" height="9.14" fill="#05b9c8"/>
<rect x="746.34" y="682.63" width="8.94" height="9.14" fill="#19bfb7"/>
<rect x="754.98" y="682.63" width="8.94" height="9.14" fill="#2bc3a7"/>
<rect x="763.63" y="682.63" width="8.94" height="9.14" fill="#35c59b"/>
<rect x="772.27" y="682.63" width="8.94" height="9.14" fill="#37c698"/>
<rect x="780.92" y="682.63" width="8.94" height="9.14" fill="#31c4a0"/>
<rect x="789.56" y="682.63" width="8.94" height="9.14" fill="#21c1b0"/>
<rect x="798.21" y="682.63" width="8.94" height="9.14" fill="#0fbcbf"/>
<rect x="806.85" y="682.63" width="8.94" height="9.14" fill="#06b8c9"/>
<rect x="815.50" y="682.63" width="8.94" height="9.14" fill="#0bb4cd"/>
<rect x="824.14" y="682.63" width="8.94" height="9.14" fill="#0fb0d1"/>
<rect x="832.79" y="682.63" width="8.94" height="9.14" fill="#16aad7"/>
<rect x="841.43" y="682.63" width="8.94" height="9.14" fill="#1ca0df"/>
<rect x="850.08" y="682.63" width="8.94" height="9.14" fill="#2394e8"/>
<rect x="858.72" y="682.63" width="8.94" height="9.14" fill="#2888f1"/>
<rect x="867.37" y="682.63" width="8.94" height="9.14" fill="#2d7dfa"/>
<rect x="876.01" y="682.63" width="8.94" height="9.14" fill="#396efa"/>
<rect x="884.66" y="682.63" width="8.94" height="9.14" fill="#465ffa"/>
<rect x="642.60" y="691.47" width="8.94" height="9.14" fill="#396ffa"/>
<rect x="651.24" y="691.47" width="8.94" height="9.14" fill="#3376fa"/>
<rect x="659.89" y="691.47" width="8.94" height="9.14" fill="#2c80f8"/>
<rect x="668.53" y="691.47" width="8.94" height="9.14" fill="#278af0"/>
<rect x="677.18" y="691.47" width="8.94" height="9.14" fill="#2393e9"/>
<rect x="685.82" y="691.47" width="8.94" height="9.14" fill="#2099e4"/>
<rect x="694.47" y="691.47" width="8.94" height="9.14" fill="#1d9ee0"/>
<rect x="703.11" y="691.47" width="8.94" height="9.14" fill="#1ba2dd"/>
<rect x="711.76" y="691.47" width="8.94" height="9.14" fill="#18a7d9"/>
<rect x="720.40" y="691.47" width="8.94" height="9.14" fill="#11aed3"/>
<rect x="729.05" y="691.47" width="8.94" height="9.14" fill="#07b7ca"/>
<rect x="737.69" y="691.47" width="8.94" height="9.14" fill="#16beba"/>
<rect x="746.34" y="691.47" width="8.94" height="9.14" fill="#2bc3a7"/>
<rect x="754.98" y="691.47" width="8.94" height="9.14" fill="#3bc694"/>
<rect x="763.63" y="691.47" width="8.94" height="9.14" fill="#47c886"/>
<rect x="772.27" y="691.47" width="8.94" height="9.14" fill="#4dc881"/>
<rect x="780.92" y="691.47" width="8.94" height="9.14" fill="#41c78c"/>
<rect x="789.56" y="691.47" width="8.94" height="9.14" fill="#2ec4a3"/>
<rect x="798.21" y="691.47" width="8.94" height="9.14" fill="#19bfb7"/>
<rect x="806.85" y="691.47" width="8.94" height="9.14" fill="#0fbcc0"/>
<rect x="815.50" y="691.47" width="8.94" height="9.14" fill="#0bbbc3"/>
<rect x="824.14" y="691.47" width="8.94" height="9.14" fill="#05b9c8"/>
<rect x="832.79" y="691.47" width="8.94" height="9.14" fill="#0bb4cd"/>
<rect x="841.43" y="691.47" width="8.94" height="9.14" fill="#14acd5"/>
<rect x="850.08" y="691.47" width="8.94" height="9.14" fill="#1ba2dd"/>
<rect x="858.72" y="691.47" width="8.94" height="9.14" fill="#2296e6"/>
<rect x="867.37" y="691.47" width="8.94" height="9.14" fill="#2889f0"/>
<rect x="876.01" y="691.47" width="8.94" height="9.14" fill="#2d7dfa"/>
<rect x="884.66" y="691.47" width="8.94" height="9.14" fill="#396efa"/>
<rect x="642.60" y="700.30" width="8.94" height="9.14" fill="#3376fa"/>
<rect x="651.24" y="700.30" width="8.94" height="9.14" fill="#2d7efa"/>
<rect x="659.89" y="700.30" width="8.94" height="9.14" fill="#2888f1"/>
<rect x="668.53" y="700.30" width="8.94" height="9.14" fill="#2395e7"/>
<rect x="677.18" y="700.30" width="8.94" height="9.14" fill="#1d9fe0"/>
<rect x="685.82" y="700.30" width="8.94" height="9.14" fill="#19a5db"/>
<rect x="694.47" y="700.30" width="8.94" height="9.14" fill="#16aad7"/>
<rect x="703.11" y="700.30" width="8.94" height="9.14" fill="#11afd2"/>
<rect x="711.76" y="700.30" width="8.94" height="9.14" fill="#0bb4cd"/>
<rect x="720.40" y="700.30" width="8.94" height="9.14" fill="#08bac5"/>
<rect x="729.05" y="700.30" width="8.94" height="9.14" fill="#19bfb7"/>
<rect x="737.69" y="700.30" width="8.94" height="9.14" fill="#2cc4a5"/>
<rect x="746.34" y="700.30" width="8.94" height="9.14" fill="#3dc791"/>
<rect x="754.98" y="700.30" width="8.94" height="9.14" fill="#54c87b"/>
<rect x="763.63" y="700.30" width="8.94" height="9.14" fill="#68c86a"/>
<rect x="772.27" y="700.30" width="8.94" height="9.14" fill="#6cc868"/>
<rect x="780.92" y="700.30" width="8.94" height="9.14" fill="#57c879"/>
<rect x="789.56" y="700.30" width="8.94" height="9.14" fill="#39c697"/>
<rect x="798.21" y="700.30" width="8.94" height="9.14" fill="#23c2ae"/>
<rect x="806.85" y="700.30" width="8.94" height="9.14" fill="#1abfb6"/>
<rect x="815.50" y="700.30" width="8.94" height="9.14" fill="#19bfb7"/>
<rect x="824.14" y="700.30" width="8.94" height="9.14" fill="#16beb9"/>
<rect x="832.79" y="700.30" width="8.94" height="9.14" fill="#0fbcbf"/>
<rect x="841.43" y="700.30" width="8.94" height="9.14" fill="#06b8c9"/>
<rect x="850.08" y="700.30" width="8.94" height="9.14" fill="#10afd2"/>
<rect x="858.72" y="700.30" width="8.94" height="9.14" fill="#1ba2dd"/>
<rect x="867.37" y="700.30" width="8.94" height="9.14" fill="#2394e8"/>
<rect x="876.01" y="700.30" width="8.94" height="9.14" fill="#2986f3"/>
<rect x="884.66" y="700.30" width="8.94" height="9.14" fill="#2d7dfa"/>
<rect x="642.60" y="709.14" width="8.94" height="9.14" fill="#2e7cfa"/>
<rect x="651.24" y="709.14" width="8.94" height="9.14" fill="#2b81f7"/>
<rect x="659.89" y="709.14" width="8.94" height="9.14" fill="#268cee"/>
<rect x="668.53" y="709.14" width="8.94" height="9.14" fill="#1f9be3"/>
<rect x="677.18" y="709.14" width="8.94" height="9.14" fill="#17a9d8"/>
<rect x="685.82" y="709.14" width="8.94" height="9.14" fill="#0cb3ce"/>
<rect x="694.47" y="709.14" width="8.94" height="9.14" fill="#07bac6"/>
<rect x="703.11" y="709.14" width="8.94" height="9.14" fill="#12bdbc"/>
<rect x="711.76" y="709.14" width="8.94" height="9.14" fill="#1ec0b2"/>
<rect x="720.40" y="709.14" width="8.94" height="9.14" fill="#2cc4a5"/>
<rect x="729.05" y="709.14" width="8.94" height="9.14" fill="#3bc694"/>
<rect x="737.69" y="709.14" width="8.94" height="9.14" fill="#4ec880"/>
<rect x="746.34" y="709.14" width="8.94" height="9.14" fill="#6ac869"/>
<rect x="754.98" y="709.14" width="8.94" height="9.14" fill="#81c856"/>
<rect x="763.63" y="709.14" width="8.94" height="9.14" fill="#8bc64f"/>
<rect x="772.27" y="709.14" width="8.94" height="9.14" fill="#84c854"/>
<rect x="780.92" y="709.14" width="8.94" height="9.14" fill="#69c86a"/>
<rect x="789.56" y="709.14" width="8.94" height="9.14" fill="#42c78c"/>
<rect x="798.21" y="709.14" width="8.94" height="9.14" fill="#2ec4a3"/>
<rect x="806.85" y="709.14" width="8.94" height="9.14" fill="#24c2ad"/>
<rect x="815.50" y="709.14" width="8.94" height="9.14" fill="#23c2ae"/>
<rect x="824.14" y="709.14" width="8.94" height="9.14" fill="#28c3aa"/>
<rect x="832.79" y="709.14" width="8.94" height="9.14" fill="#29c3a8"/>
<rect x="841.43" y="709.14" width="8.94" height="9.14" fill="#1fc1b1"/>
<rect x="850.08" y="709.14" width="8.94" height="9.14" fill="#0abbc3"/>
<rect x="858.72" y="709.14" width="8.94" height="9.14" fill="#12aed3"/>
<rect x="867.37" y="709.14" width="8.94" height="9.14" fill="#1e9de1"/>
<rect x="876.01" y="709.14" width="8.94" height="9.14" fill="#258eec"/>
<rect x="884.66" y="709.14" width="8.94" height="9.14" fill="#2a84f4"/>
<rect x="642.60" y="717.98" width="8.94" height="9.14" fill="#2c80f8"/>
<rect x="651.24" y="717.98" width="8.94" height="9.14" fill="#2a83f5"/>
<rect x="659.89" y="717.98" width="8.94" height="9.14" fill="#268eed"/>
<rect x="668.53" y="717.98" width="8.94" height="9.14" fill="#1d9ee0"/>
<rect x="677.18" y="717.98" width="8.94" height="9.14" fill="#10afd2"/>
<rect x="685.82" y="717.98" width="8.94" height="9.14" fill="#0dbbc1"/>
<rect x="694.47" y="717.98" width="8.94" height="9.14" fill="#23c2ae"/>
<rect x="703.11" y="717.98" width="8.94" height="9.14" fill="#2fc4a2"/>
<rect x="711.76" y="717.98" width="8.94" height="9.14" fill="#39c696"/>
<rect x="720.40" y="717.98" width="8.94" height="9.14" fill="#48c885"/>
<rect x="729.05" y="717.98" width="8.94" height="9.14" fill="#68c86a"/>
<rect x="737.69" y="717.98" width="8.94" height="9.14" fill="#85c753"/>
<rect x="746.34" y="717.98" width="8.94" height="9.14" fill="#9ac446"/>
<rect x="754.98" y="717.98" width="8.94" height="9.14" fill="#a7c13e"/>
<rect x="763.63" y="717.98" width="8.94" height="9.14" fill="#a9c13c"/>
<rect x="772.27" y="717.98" width="8.94" height="9.14" fill="#9fc342"/>
<rect x="780.92" y="717.98" width="8.94" height="9.14" fill="#8ac750"/>
<rect x="789.56" y="717.98" width="8.94" height="9.14" fill="#6ac869"/>
<rect x="798.21" y="717.98" width="8.94" height="9.14" fill="#46c887"/>
<rect x="806.85" y="717.98" width="8.94" height="9.14" fill="#37c599"/>
<rect x="815.50" y="717.98" width="8.94" height="9.14" fill="#31c4a0"/>
<rect x="824.14" y="717.98" width="8.94" height="9.14" fill="#37c698"/>
<rect x="832.79" y="717.98" width="8.94" height="9.14" fill="#3dc791"/>
<rect x="841.43" y="717.98" width="8.94" height="9.14" fill="#35c59b"/>
<rect x="850.08" y="717.98" width="8.94" height="9.14" fill="#1ec0b3"/>
<rect x="858.72" y="717.98" width="8.94" height="9.14" fill="#09b6cb"/>
<rect x="867.37" y="717.98" width="8.94" height="9.14" fill="#19a4db"/>
<rect x="876.01" y="717.98" width="8.94" height="9.14" fill="#2394e8"/>
<rect x="884.66" y="717.98" width="8.94" height="9.14" fill="#2888f1"/>
<rect x="642.60" y="726.82" width="8.94" height="9.14" fill="#2b82f6"/>
<rect x="651.24" y="726.82" width="8.94" height="9.14" fill="#2985f4"/>
<rect x="659.89" y="726.82" width="8.94" height="9.14" fill="#2491ea"/>
<rect x="668.53" y="726.82" width="8.94" height="9.14" fill="#1ba1de"/>
<rect x="677.18" y="726.82" width="8.94" height="9.14" fill="#0cb2cf"/>
<rect x="685.82" y="726.82" width="8.94" height="9.14" fill="#17beb9"/>
<rect x="694.47" y="726.82" width="8.94" height="9.14" fill="#2dc4a4"/>
<rect x="703.11" y="726.82" width="8.94" height="9.14" fill="#39c697"/>
<rect x="711.76" y="726.82" width="8.94" height="9.14" fill="#42c78c"/>
<rect x="720.40" y="726.82" width="8.94" height="9.14" fill="#59c877"/>
<rect x="729.05" y="726.82" width="8.94" height="9.14" fill="#7bc85b"/>
<rect x="737.69" y="726.82" width="8.94" height="9.14" fill="#9bc345"/>
<rect x="746.34" y="726.82" width="8.94" height="9.14" fill="#b3bf36"/>
<rect x="754.98" y="726.82" width="8.94" height="9.14" fill="#bcbe32"/>
<rect x="763.63" y="726.82" width="8.94" height="9.14" fill="#bfbd31"/>
<rect x="772.27" y="726.82" width="8.94" height="9.14" fill="#c5bd31"/>
<rect x="780.92" y="726.82" width="8.94" height="9.14" fill="#c7bc30"/>
<rect x="789.56" y="726.82" width="8.94" height="9.14" fill="#bcbe32"/>
<rect x="798.21" y="726.82" width="8.94" height="9.14" fill="#9ec343"/>
<rect x="806.85" y="726.82" width="8.94" height="9.14" fill="#6dc866"/>
<rect x="815.50" y="726.82" width="8.94" height="9.14" fill="#47c886"/>
<rect x="824.14" y="726.82" width="8.94" height="9.14" fill="#45c888"/>
<rect x="832.79" y="726.82" width="8.94" height="9.14" fill="#48c886"/>
<rect x="841.43" y="726.82" width="8.94" height="9.14" fill="#3cc692"/>
<rect x="850.08" y="726.82" width="8.94" height="9.14" fill="#27c3ab"/>
<rect x="858.72" y="726.82" width="8.94" height="9.14" fill="#06b9c7"/>
<rect x="867.37" y="726.82" width="8.94" height="9.14" fill="#17a9d8"/>
<rect x="876.01" y="726.82" width="8.94" height="9.14" fill="#2198e5"/>
<rect x="884.66" y="726.82" width="8.94" height="9.14" fill="#278bef"/>
<rect x="642.60" y="735.66" width="8.94" height="9.14" fill="#2a83f5"/>
<rect x="651.24" y="735.66" width="8.94" height="9.14" fill="#2888f2"/>
<rect x="659.89" y="735.66" width="8.94" height="9.14" fill="#2394e8"/>
<rect x="668.53" y="735.66" width="8.94" height="9.14" fill="#1aa4dc"/>
<rect x="677.18" y="735.66" width="8.94" height="9.14" fill="#0bb4cd"/>
<rect x="685.82" y="735.66" width="8.94" height="9.14" fill="#17beb8"/>
<rect x="694.47" y="735.66" width="8.94" height="9.14" fill="#2cc4a5"/>
<rect x="703.11" y="735.66" width="8.94" height="9.14" fill="#38c697"/>
<rect x="711.76" y="735.66" width="8.94" height="9.14" fill="#42c78c"/>
<rect x="720.40" y="735.66" width="8.94" height="9.14" fill="#57c878"/>
<rect x="729.05" y="735.66" width="8.94" height="9.14" fill="#79c85c"/>
<rect x="737.69" y="735.66" width="8.94" height="9.14" fill="#9dc344"/>
<rect x="746.34" y="735.66" width="8.94" height="9.14" fill="#b9be32"/>
<rect x="754.98" y="735.66" width="8.94" height="9.14" fill="#c3bd31"/>
<rect x="763.63" y="735.66" width="8.94" height="9.14" fill="#cdbb2f"/>
<rect x="772.27" y="735.66" width="8.94" height="9.14" fill="#e3b92e"/>
<rect x="780.92" y="735.66" width="8.94" height="9.14" fill="#f4b937"/>
<rect x="789.56" y="735.66" width="8.94" height="9.14" fill="#f9b93a"/>
<rect x="798.21" y="735.66" width="8.94" height="9.14" fill="#eab932"/>
<rect x="806.85" y="735.66" width="8.94" height="9.14" fill="#b9be32"/>
<rect x="815.50" y="735.66" width="8.94" height="9.14" fill="#79c85c"/>
<rect x="824.14" y="735.66" width="8.94" height="9.14" fill="#5cc875"/>
<rect x="832.79" y="735.66" width="8.94" height="9.14" fill="#4fc880"/>
<rect x="841.43" y="735.66" width="8.94" height="9.14" fill="#3dc791"/>
<rect x="850.08" y="735.66" width="8.94" height="9.14" fill="#28c3aa"/>
<rect x="858.72" y="735.66" width="8.94" height="9.14" fill="#08bac5"/>
<rect x="867.37" y="735.66" width="8.94" height="9.14" fill="#16aad7"/>
<rect x="876.01" y="735.66" width="8.94" height="9.14" fill="#209ae4"/>
<rect x="884.66" y="735.66" width="8.94" height="9.14" fill="#268eec"/>
<rect x="642.60" y="744.49" width="8.94" height="9.14" fill="#2a84f5"/>
<rect x="651.24" y="744.49" width="8.94" height="9.14" fill="#2889f0"/>
<rect x="659.89" y="744.49" width="8.94" height="9.14" fill="#2296e7"/>
<rect x="668.53" y="744.49" width="8.94" height="9.14" fill="#19a6da"/>
<rect x="677.18" y="744.49" width="8.94" height="9.14" fill="#0ab5cc"/>
<rect x="685.82" y="744.49" width="8.94" height="9.14" fill="#15beba"/>
<rect x="694.47" y="744.49" width="8.94" height="9.14" fill="#28c3a9"/>
<rect x="703.11" y="744.49" width="8.94" height="9.14" fill="#36c59a"/>
<rect x="711.76" y="744.49" width="8.94" height="9.14" fill="#42c78b"/>
<rect x="720.40" y="744.49" width="8.94" height="9.14" fill="#5ac876"/>
<rect x="729.05" y="744.49" width="8.94" height="9.14" fill="#79c85c"/>
<rect x="737.69" y="744.49" width="8.94" height="9.14" fill="#98c447"/>
<rect x="746.34" y="744.49" width="8.94" height="9.14" fill="#b2bf36"/>
<rect x="754.98" y="744.49" width="8.94" height="9.14" fill="#c3bd31"/>
<rect x="763.63" y="744.49" width="8.94" height="9.14" fill="#d5bb2f"/>
<rect x="772.27" y="744.49" width="8.94" height="9.14" fill="#edb933"/>
<rect x="780.92" y="744.49" width="8.94" height="9.14" fill="#fbc039"/>
<rect x="789.56" y="744.49" width="8.94" height="9.14" fill="#f7cf31"/>
<rect x="798.21" y="744.49" width="8.94" height="9.14" fill="#f9c934"/>
<rect x="806.85" y="744.49" width="8.94" height="9.14" fill="#e6b930"/>
<rect x="815.50" y="744.49" width="8.94" height="9.14" fill="#a1c241"/>
<rect x="824.14" y="744.49" width="8.94" height="9.14" fill="#73c862"/>
<rect x="832.79" y="744.49" width="8.94" height="9.14" fill="#57c879"/>
<rect x="841.43" y="744.49" width="8.94" height="9.14" fill="#3ec791"/>
<rect x="850.08" y="744.49" width="8.94" height="9.14" fill="#28c3aa"/>
<rect x="858.72" y="744.49" width="8.94" height="9.14" fill="#08bac5"/>
<rect x="867.37" y="744.49" width="8.94" height="9.14" fill="#16aad7"/>
<rect x="876.01" y="744.49" width="8.94" height="9.14" fill="#1f9be3"/>
<rect x="884.66" y="744.49" width="8.94" height="9.14" fill="#2491ea"/>
<rect x="642.60" y="753.33" width="8.94" height="9.14" fill="#2986f3"/>
<rect x="651.24" y="753.33" width="8.94" height="9.14" fill="#278bef"/>
<rect x="659.89" y="753.33" width="8.94" height="9.14" fill="#2197e6"/>
<rect x="668.53" y="753.33" width="8.94" height="9.14" fill="#18a6da"/>
<rect x="677.18" y="753.33" width="8.94" height="9.14" fill="#0bb4cd"/>
<rect x="685.82" y="753.33" width="8.94" height="9.14" fill="#11bcbe"/>
<rect x="694.47" y="753.33" width="8.94" height="9.14" fill="#23c2ae"/>
<rect x="703.11" y="753.33" width="8.94" height="9.14" fill="#33c59e"/>
<rect x="711.76" y="753.33" width="8.94" height="9.14" fill="#42c78c"/>
<rect x="720.40" y="753.33" width="8.94" height="9.14" fill="#5cc875"/>
<rect x="729.05" y="753.33" width="8.94" height="9.14" fill="#79c85c"/>
<rect x="737.69" y="753.33" width="8.94" height="9.14" fill="#93c54a"/>
<rect x="746.34" y="753.33" width="8.94" height="9.14" fill="#a9c13c"/>
<rect x="754.98" y="753.33" width="8.94" height="9.14" fill="#bdbd31"/>
<rect x="763.63" y="753.33" width="8.94" height="9.14" fill="#d4bb2f"/>
<rect x="772.27" y="753.33" width="8.94" height="9.14" fill="#edb934"/>
<rect x="780.92" y="753.33" width="8.94" height="9.14" fill="#fbc238"/>
<rect x="789.56" y="753.33" width="8.94" height="9.14" fill="#f6d52e"/>
<rect x="798.21" y="753.33" width="8.94" height="9.14" fill="#f6d32f"/>
<rect x="806.85" y="753.33" width="8.94" height="9.14" fill="#f4b937"/>
<rect x="815.50" y="753.33" width="8.94" height="9.14" fill="#b9be32"/>
<rect x="824.14" y="753.33" width="8.94" height="9.14" fill="#85c753"/>
<rect x="832.79" y="753.33" width="8.94" height="9.14" fill="#60c872"/>
<rect x="841.43" y="753.33" width="8.94" height="9.14" fill="#3fc78f"/>
<rect x="850.08" y="753.33" width="8.94" height="9.14" fill="#28c3aa"/>
<rect x="858.72" y="753.33" width="8.94" height="9.14" fill="#08bac6"/>
<rect x="867.37" y="753.33" width="8.94" height="9.14" fill="#16aad7"/>
<rect x="876.01" y="753.33" width="8.94" height="9.14" fill="#1f9ce2"/>
<rect x="884.66" y="753.33" width="8.94" height="9.14" fill="#2394e8"/>
<rect x="642.60" y="762.17" width="8.94" height="9.14" fill="#2888f2"/>
<rect x="651.24" y="762.17" width="8.94" height="9.14" fill="#268cee"/>
<rect x="659.89" y="762.17" width="8.94" height="9.14" fill="#2197e6"/>
<rect x="668.53" y="762.17" width="8.94" height="9.14" fill="#19a5db"/>
<rect x="677.18" y="762.17" width="8.94" height="9.14" fill="#0db2cf"/>
<rect x="685.82" y="762.17" width="8.94" height="9.14" fill="#0cbbc2"/>
<rect x="694.47" y="762.17" width="8.94" height="9.14" fill="#1dc0b3"/>
<rect x="703.11" y="762.17" width="8.94" height="9.14" fill="#2dc4a4"/>
<rect x="711.76" y="762.17" width="8.94" height="9.14" fill="#3cc693"/>
<rect x="720.40" y="762.17" width="8.94" height="9.14" fill="#53c87c"/>
<rect x="729.05" y="762.17" width="8.94" height="9.14" fill="#74c860"/>
<rect x="737.69" y="762.17" width="8.94" height="9.14" fill="#91c54c"/>
<rect x="746.34" y="762.17" width="8.94" height="9.14" fill="#a6c23e"/>
<rect x="754.98" y="762.17" width="8.94" height="9.14" fill="#b5bf35"/>
<rect x="763.63" y="762.17" width="8.94" height="9.14" fill="#c9bc30"/>
<rect x="772.27" y="762.17" width="8.94" height="9.14" fill="#eab932"/>
<rect x="780.92" y="762.17" width="8.94" height="9.14" fill="#fbbf39"/>
<rect x="789.56" y="762.17" width="8.94" height="9.14" fill="#f8cd32"/>
<rect x="798.21" y="762.17" width="8.94" height="9.14" fill="#f9c635"/>
<rect x="806.85" y="762.17" width="8.94" height="9.14" fill="#edb933"/>
<rect x="815.50" y="762.17" width="8.94" height="9.14" fill="#bcbe32"/>
<rect x="824.14" y="762.17" width="8.94" height="9.14" fill="#8dc64e"/>
<rect x="832.79" y="762.17" width="8.94" height="9.14" fill="#66c86c"/>
<rect x="841.43" y="762.17" width="8.94" height="9.14" fill="#41c78d"/>
<rect x="850.08" y="762.17" width="8.94" height="9.14" fill="#29c3a9"/>
<rect x="858.72" y="762.17" width="8.94" height="9.14" fill="#08bac5"/>
<rect x="867.37" y="762.17" width="8.94" height="9.14" fill="#16aad7"/>
<rect x="876.01" y="762.17" width="8.94" height="9.14" fill="#1e9ce2"/>
<rect x="884.66" y="762.17" width="8.94" height="9.14" fill="#2295e7"/>
<rect x="642.60" y="771.01" width="8.94" height="9.14" fill="#2889f1"/>
<rect x="651.24" y="771.01" width="8.94" height="9.14" fill="#268ded"/>
<rect x="659.89" y="771.01" width="8.94" height="9.14" fill="#2197e6"/>
<rect x="668.53" y="771.01" width="8.94" height="9.14" fill="#1aa3dd"/>
<rect x="677.18" y="771.01" width="8.94" height="9.14" fill="#10afd2"/>
<rect x="685.82" y="771.01" width="8.94" height="9.14" fill="#07b9c7"/>
<rect x="694.47" y="771.01" width="8.94" height="9.14" fill="#19bfb7"/>
<rect x="703.11" y="771.01" width="8.94" height="9.14" fill="#28c3aa"/>
<rect x="711.76" y="771.01" width="8.94" height="9.14" fill="#35c59b"/>
<rect x="720.40" y="771.01" width="8.94" height="9.14" fill="#45c888"/>
<rect x="729.05" y="771.01" width="8.94" height="9.14" fill="#68c86a"/>
<rect x="737.69" y="771.01" width="8.94" height="9.14" fill="#8ac650"/>
<rect x="746.34" y="771.01" width="8.94" height="9.14" fill="#a1c241"/>
<rect x="754.98" y="771.01" width="8.94" height="9.14" fill="#adc03a"/>
<rect x="763.63" y="771.01" width="8.94" height="9.14" fill="#c0bd31"/>
<rect x="772.27" y="771.01" width="8.94" height="9.14" fill="#e4b92f"/>
<rect x="780.92" y="771.01" width="8.94" height="9.14" fill="#fdb93c"/>
<rect x="789.56" y="771.01" width="8.94" height="9.14" fill="#fcbd3a"/>
<rect x="798.21" y="771.01" width="8.94" height="9.14" fill="#f4b937"/>
<rect x="806.85" y="771.01" width="8.94" height="9.14" fill="#d5ba2e"/>
<rect x="815.50" y="771.01" width="8.94" height="9.14" fill="#a9c13c"/>
<rect x="824.14" y="771.01" width="8.94" height="9.14" fill="#83c854"/>
<rect x="832.79" y="771.01" width="8.94" height="9.14" fill="#60c872"/>
<rect x="841.43" y="771.01" width="8.94" height="9.14" fill="#3fc78f"/>
<rect x="850.08" y="771.01" width="8.94" height="9.14" fill="#28c3aa"/>
<rect x="858.72" y="771.01" width="8.94" height="9.14" fill="#08bac6"/>
<rect x="867.37" y="771.01" width="8.94" height="9.14" fill="#16aad7"/>
<rect x="876.01" y="771.01" width="8.94" height="9.14" fill="#1f9ce2"/>
<rect x="884.66" y="771.01" width="8.94" height="9.14" fill="#2394e8"/>
<rect x="642.60" y="779.84" width="8.94" height="9.14" fill="#2987f2"/>
<rect x="651.24" y="779.84" width="8.94" height="9.14" fill="#268dee"/>
<rect x="659.89" y="779.84" width="8.94" height="9.14" fill="#2296e7"/>
<rect x="668.53" y="779.84" width="8.94" height="9.14" fill="#1ca0de"/>
<rect x="677.18" y="779.84" width="8.94" height="9.14" fill="#13acd5"/>
<rect x="685.82" y="779.84" width="8.94" height="9.14" fill="#06b8c9"/>
<rect x="694.47" y="779.84" width="8.94" height="9.14" fill="#16beb9"/>
<rect x="703.11" y="779.84" width="8.94" height="9.14" fill="#24c2ad"/>
<rect x="711.76" y="779.84" width="8.94" height="9.14" fill="#30c4a1"/>
<rect x="720.40" y="779.84" width="8.94" height="9.14" fill="#3ec791"/>
<rect x="729.05" y="779.84" width="8.94" height="9.14" fill="#56c87a"/>
<rect x="737.69" y="779.84" width="8.94" height="9.14" fill="#7ac85c"/>
<rect x="746.34" y="779.84" width="8.94" height="9.14" fill="#97c448"/>
<rect x="754.98" y="779.84" width="8.94" height="9.14" fill="#aac13c"/>
<rect x="763.63" y="779.84" width="8.94" height="9.14" fill="#bfbd31"/>
<rect x="772.27" y="779.84" width="8.94" height="9.14" fill="#ddba2e"/>
<rect x="780.92" y="779.84" width="8.94" height="9.14" fill="#efb934"/>
<rect x="789.56" y="779.84" width="8.94" height="9.14" fill="#efb934"/>
<rect x="798.21" y="779.84" width="8.94" height="9.14" fill="#ddba2e"/>
<rect x="806.85" y="779.84" width="8.94" height="9.14" fill="#b3bf36"/>
<rect x="815.50" y="779.84" width="8.94" height="9.14" fill="#83c854"/>
<rect x="824.14" y="779.84" width="8.94" height="9.14" fill="#61c870"/>
<rect x="832.79" y="779.84" width="8.94" height="9.14" fill="#48c885"/>
<rect x="841.43" y="779.84" width="8.94" height="9.14" fill="#38c697"/>
<rect x="850.08" y="779.84" width="8.94" height="9.14" fill="#22c1af"/>
<rect x="858.72" y="779.84" width="8.94" height="9.14" fill="#06b8c9"/>
<rect x="867.37" y="779.84" width="8.94" height="9.14" fill="#17a8d9"/>
<rect x="876.01" y="779.84" width="8.94" height="9.14" fill="#2099e4"/>
<rect x="884.66" y="779.84" width="8.94" height="9.14" fill="#2491ea"/>
<rect x="642.60" y="788.68" width="8.94" height="9.14" fill="#2986f3"/>
<rect x="651.24" y="788.68" width="8.94" height="9.14" fill="#278cef"/>
<rect x="659.89" y="788.68" width="8.94" height="9.14" fill="#2394e8"/>
<rect x="668.53" y="788.68" width="8.94" height="9.14" fill="#1d9ee0"/>
<rect x="677.18" y="788.68" width="8.94" height="9.14" fill="#16aad7"/>
<rect x="685.82" y="788.68" width="8.94" height="9.14" fill="#08b6cb"/>
<rect x="694.47" y="788.68" width="8.94" height="9.14" fill="#14bdbb"/>
<rect x="703.11" y="788.68" width="8.94" height="9.14" fill="#22c1af"/>
<rect x="711.76" y="788.68" width="8.94" height="9.14" fill="#2cc4a5"/>
<rect x="720.40" y="788.68" width="8.94" height="9.14" fill="#38c698"/>
<rect x="729.05" y="788.68" width="8.94" height="9.14" fill="#46c887"/>
<rect x="737.69" y="788.68" width="8.94" height="9.14" fill="#69c86a"/>
<rect x="746.34" y="788.68" width="8.94" height="9.14" fill="#8ac750"/>
<rect x="754.98" y="788.68" width="8.94" height="9.14" fill="#a3c240"/>
<rect x="763.63" y="788.68" width="8.94" height="9.14" fill="#b9be32"/>
<rect x="772.27" y="788.68" width="8.94" height="9.14" fill="#cabc30"/>
<rect x="780.92" y="788.68" width="8.94" height="9.14" fill="#d4bb2f"/>
<rect x="789.56" y="788.68" width="8.94" height="9.14" fill="#d0bb2f"/>
<rect x="798.21" y="788.68" width="8.94" height="9.14" fill="#b9be32"/>
<rect x="806.85" y="788.68" width="8.94" height="9.14" fill="#88c751"/>
<rect x="815.50" y="788.68" width="8.94" height="9.14" fill="#57c879"/>
<rect x="824.14" y="788.68" width="8.94" height="9.14" fill="#43c88a"/>
<rect x="832.79" y="788.68" width="8.94" height="9.14" fill="#3dc791"/>
<rect x="841.43" y="788.68" width="8.94" height="9.14" fill="#33c59e"/>
<rect x="850.08" y="788.68" width="8.94" height="9.14" fill="#1ec0b3"/>
<rect x="858.72" y="788.68" width="8.94" height="9.14" fill="#09b6cb"/>
<rect x="867.37" y="788.68" width="8.94" height="9.14" fill="#19a4db"/>
<rect x="876.01" y="788.68" width="8.94" height="9.14" fill="#2295e7"/>
<rect x="884.66" y="788.68" width="8.94" height="9.14" fill="#258eec"/>
<rect x="642.60" y="797.52" width="8.94" height="9.14" fill="#2985f4"/>
<rect x="651.24" y="797.52" width="8.94" height="9.14" fill="#278af0"/>
<rect x="659.89" y="797.52" width="8.94" height="9.14" fill="#2492ea"/>
<rect x="668.53" y="797.52" width="8.94" height="9.14" fill="#1f9ce2"/>
<rect x="677.18" y="797.52" width="8.94" height="9.14" fill="#17a8d9"/>
<rect x="685.82" y="797.52" width="8.94" height="9.14" fill="#0bb4cd"/>
<rect x="694.47" y="797.52" width="8.94" height="9.14" fill="#10bcbf"/>
<rect x="703.11" y="797.52" width="8.94" height="9.14" fill="#1dc0b3"/>
<rect x="711.76" y="797.52" width="8.94" height="9.14" fill="#28c3aa"/>
<rect x="720.40" y="797.52" width="8.94" height="9.14" fill="#33c59d"/>
<rect x="729.05" y="797.52" width="8.94" height="9.14" fill="#41c78c"/>
<rect x="737.69" y="797.52" width="8.94" height="9.14" fill="#5fc872"/>
<rect x="746.34" y="797.52" width="8.94" height="9.14" fill="#7ec858"/>
<rect x="754.98" y="797.52" width="8.94" height="9.14" fill="#90c54c"/>
<rect x="763.63" y="797.52" width="8.94" height="9.14" fill="#9cc345"/>
<rect x="772.27" y="797.52" width="8.94" height="9.14" fill="#a5c23f"/>
<rect x="780.92" y="797.52" width="8.94" height="9.14" fill="#a6c13e"/>
<rect x="789.56" y="797.52" width="8.94" height="9.14" fill="#9ac446"/>
<rect x="798.21" y="797.52" width="8.94" height="9.14" fill="#7fc857"/>
<rect x="806.85" y="797.52" width="8.94" height="9.14" fill="#56c87a"/>
<rect x="815.50" y="797.52" width="8.94" height="9.14" fill="#3fc790"/>
<rect x="824.14" y="797.52" width="8.94" height="9.14" fill="#3dc692"/>
<rect x="832.79" y="797.52" width="8.94" height="9.14" fill="#3ec791"/>
<rect x="841.43" y="797.52" width="8.94" height="9.14" fill="#34c59b"/>
<rect x="850.08" y="797.52" width="8.94" height="9.14" fill="#1fc0b2"/>
<rect x="858.72" y="797.52" width="8.94" height="9.14" fill="#0ab5cc"/>
<rect x="867.37" y="797.52" width="8.94" height="9.14" fill="#1ba2dd"/>
<rect x="876.01" y="797.52" width="8.94" height="9.14" fill="#2492e9"/>
<rect x="884.66" y="797.52" width="8.94" height="9.14" fill="#278cef"/>
<rect x="642.60" y="806.36" width="8.94" height="9.14" fill="#2a83f6"/>
<rect x="651.24" y="806.36" width="8.94" height="9.14" fill="#2986f3"/>
<rect x="659.89" y="806.36" width="8.94" height="9.14" fill="#258eec"/>
<rect x="668.53" y="806.36" width="8.94" height="9.14" fill="#2099e4"/>
<rect x="677.18" y="806.36" width="8.94" height="9.14" fill="#19a4db"/>
<rect x="685.82" y="806.36" width="8.94" height="9.14" fill="#0fb0d1"/>
<rect x="694.47" y="806.36" width="8.94" height="9.14" fill="#05b9c8"/>
<rect x="703.11" y="806.36" width="8.94" height="9.14" fill="#12bdbc"/>
<rect x="711.76" y="806.36" width="8.94" height="9.14" fill="#1ec0b3"/>
<rect x="720.40" y="806.36" width="8.94" height="9.14" fill="#2bc3a7"/>
<rect x="729.05" y="806.36" width="8.94" height="9.14" fill="#39c696"/>
<rect x="737.69" y="806.36" width="8.94" height="9.14" fill="#4dc881"/>
<rect x="746.34" y="806.36" width="8.94" height="9.14" fill="#68c86a"/>
<rect x="754.98" y="806.36" width="8.94" height="9.14" fill="#75c860"/>
<rect x="763.63" y="806.36" width="8.94" height="9.14" fill="#79c85c"/>
<rect x="772.27" y="806.36" width="8.94" height="9.14" fill="#7ec859"/>
<rect x="780.92" y="806.36" width="8.94" height="9.14" fill="#79c85c"/>
<rect x="789.56" y="806.36" width="8.94" height="9.14" fill="#65c86d"/>
<rect x="798.21" y="806.36" width="8.94" height="9.14" fill="#46c887"/>
<rect x="806.85" y="806.36" width="8.94" height="9.14" fill="#37c698"/>
<rect x="815.50" y="806.36" width="8.94" height="9.14" fill="#31c4a0"/>
<rect x="824.14" y="806.36" width="8.94" height="9.14" fill="#35c59b"/>
<rect x="832.79" y="806.36" width="8.94" height="9.14" fill="#39c696"/>
<rect x="841.43" y="806.36" width="8.94" height="9.14" fill="#30c4a0"/>
<rect x="850.08" y="806.36" width="8.94" height="9.14" fill="#19bfb7"/>
<rect x="858.72" y="806.36" width="8.94" height="9.14" fill="#0db2cf"/>
<rect x="867.37" y="806.36" width="8.94" height="9.14" fill="#1d9fe0"/>
<rect x="876.01" y="806.36" width="8.94" height="9.14" fill="#258fec"/>
<rect x="884.66" y="806.36" width="8.94" height="9.14" fill="#2889f1"/>
<rect x="642.60" y="815.20" width="8.94" height="9.14" fill="#2e7bfa"/>
<rect x="651.24" y="815.20" width="8.94" height="9.14" fill="#2c80f8"/>
<rect x="659.89" y="815.20" width="8.94" height="9.14" fill="#288af0"/>
<rect x="668.53" y="815.20" width="8.94" height="9.14" fill="#2295e7"/>
<rect x="677.18" y="815.20" width="8.94" height="9.14" fill="#1ca0df"/>
<rect x="685.82" y="815.20" width="8.94" height="9.14" fill="#17a8d8"/>
<rect x="694.47" y="815.20" width="8.94" height="9.14" fill="#10afd2"/>
<rect x="703.11" y="815.20" width="8.94" height="9.14" fill="#08b6cb"/>
<rect x="711.76" y="815.20" width="8.94" height="9.14" fill="#0ebcc0"/>
<rect x="720.40" y="815.20" width="8.94" height="9.14" fill="#1abfb6"/>
<rect x="729.05" y="815.20" width="8.94" height="9.14" fill="#27c3ab"/>
<rect x="737.69" y="815.20" width="8.94" height="9.14" fill="#35c59b"/>
<rect x="746.34" y="815.20" width="8.94" height="9.14" fill="#43c88a"/>
<rect x="754.98" y="815.20" width="8.94" height="9.14" fill="#58c878"/>
<rect x="763.63" y="815.20" width="8.94" height="9.14" fill="#66c86d"/>
<rect x="772.27" y="815.20" width="8.94" height="9.14" fill="#68c86a"/>
<rect x="780.92" y="815.20" width="8.94" height="9.14" fill="#5ec873"/>
<rect x="789.56" y="815.20" width="8.94" height="9.14" fill="#47c886"/>
<rect x="798.21" y="815.20" width="8.94" height="9.14" fill="#37c599"/>
<rect x="806.85" y="815.20" width="8.94" height="9.14" fill="#28c3aa"/>
<rect x="815.50" y="815.20" width="8.94" height="9.14" fill="#1ec0b3"/>
<rect x="824.14" y="815.20" width="8.94" height="9.14" fill="#1fc0b2"/>
<rect x="832.79" y="815.20" width="8.94" height="9.14" fill="#21c1b0"/>
<rect x="841.43" y="815.20" width="8.94" height="9.14" fill="#18beb8"/>
<rect x="850.08" y="815.20" width="8.94" height="9.14" fill="#06b8c9"/>
<rect x="858.72" y="815.20" width="8.94" height="9.14" fill="#15aad7"/>
<rect x="867.37" y="815.20" width="8.94" height="9.14" fill="#1f9be3"/>
<rect x="876.01" y="815.20" width="8.94" height="9.14" fill="#268dee"/>
<rect x="884.66" y="815.20" width="8.94" height="9.14" fill="#2a84f5"/>
<rect x="642.60" y="824.03" width="8.94" height="9.14" fill="#396efa"/>
<rect x="651.24" y="824.03" width="8.94" height="9.14" fill="#3376fa"/>
<rect x="659.89" y="824.03" width="8.94" height="9.14" fill="#2a83f6"/>
<rect x="668.53" y="824.03" width="8.94" height="9.14" fill="#258fec"/>
<rect x="677.18" y="824.03" width="8.94" height="9.14" fill="#209ae4"/>
<rect x="685.82" y="824.03" width="8.94" height="9.14" fill="#1c9fdf"/>
<rect x="694.47" y="824.03" width="8.94" height="9.14" fill="#19a4db"/>
<rect x="703.11" y="824.03" width="8.94" height="9.14" fill="#13acd5"/>
<rect x="711.76" y="824.03" width="8.94" height="9.14" fill="#0bb4cd"/>
<rect x="720.40" y="824.03" width="8.94" height="9.14" fill="#06b9c7"/>
<rect x="729.05" y="824.03" width="8.94" height="9.14" fill="#0fbcbf"/>
<rect x="737.69" y="824.03" width="8.94" height="9.14" fill="#1bbfb5"/>
<rect x="746.34" y="824.03" width="8.94" height="9.14" fill="#2cc4a5"/>
<rect x="754.98" y="824.03" width="8.94" height="9.14" fill="#40c78e"/>
<rect x="763.63" y="824.03" width="8.94" height="9.14" fill="#57c879"/>
<rect x="772.27" y="824.03" width="8.94" height="9.14" fill="#58c878"/>
<rect x="780.92" y="824.03" width="8.94" height="9.14" fill="#46c887"/>
<rect x="789.56" y="824.03" width="8.94" height="9.14" fill="#3ac695"/>
<rect x="798.21" y="824.03" width="8.94" height="9.14" fill="#2cc4a5"/>
<rect x="806.85" y="824.03" width="8.94" height="9.14" fill="#1abfb6"/>
<rect x="815.50" y="824.03" width="8.94" height="9.14" fill="#0abac4"/>
<rect x="824.14" y="824.03" width="8.94" height="9.14" fill="#06b8c9"/>
<rect x="832.79" y="824.03" width="8.94" height="9.14" fill="#08b6cb"/>
<rect x="841.43" y="824.03" width="8.94" height="9.14" fill="#0db2cf"/>
<rect x="850.08" y="824.03" width="8.94" height="9.14" fill="#16aad7"/>
<rect x="858.72" y="824.03" width="8.94" height="9.14" fill="#1ca0df"/>
<rect x="867.37" y="824.03" width="8.94" height="9.14" fill="#2394e8"/>
<rect x="876.01" y="824.03" width="8.94" height="9.14" fill="#2888f1"/>
<rect x="884.66" y="824.03" width="8.94" height="9.14" fill="#2d7dfa"/>
<rect x="642.60" y="832.87" width="8.94" height="9.14" fill="#4560fa"/>
<rect x="651.24" y="832.87" width="8.94" height="9.14" fill="#3e69fa"/>
<rect x="659.89" y="832.87" width="8.94" height="9.14" fill="#3178fa"/>
<rect x="668.53" y="832.87" width="8.94" height="9.14" fill="#2985f3"/>
<rect x="677.18" y="832.87" width="8.94" height="9.14" fill="#2590eb"/>
<rect x="685.82" y="832.87" width="8.94" height="9.14" fill="#2197e5"/>
<rect x="694.47" y="832.87" width="8.94" height="9.14" fill="#1e9de1"/>
<rect x="703.11" y="832.87" width="8.94" height="9.14" fill="#1aa4dc"/>
<rect x="711.76" y="832.87" width="8.94" height="9.14" fill="#15abd6"/>
<rect x="720.40" y="832.87" width="8.94" height="9.14" fill="#0eb1d0"/>
<rect x="729.05" y="832.87" width="8.94" height="9.14" fill="#08b6cb"/>
<rect x="737.69" y="832.87" width="8.94" height="9.14" fill="#07bac6"/>
<rect x="746.34" y="832.87" width="8.94" height="9.14" fill="#17beb9"/>
<rect x="754.98" y="832.87" width="8.94" height="9.14" fill="#31c4a0"/>
<rect x="763.63" y="832.87" width="8.94" height="9.14" fill="#42c78b"/>
<rect x="772.27" y="832.87" width="8.94" height="9.14" fill="#3fc78f"/>
<rect x="780.92" y="832.87" width="8.94" height="9.14" fill="#32c59f"/>
<rect x="789.56" y="832.87" width="8.94" height="9.14" fill="#26c2ac"/>
<rect x="798.21" y="832.87" width="8.94" height="9.14" fill="#1abfb6"/>
<rect x="806.85" y="832.87" width="8.94" height="9.14" fill="#0abbc3"/>
<rect x="815.50" y="832.87" width="8.94" height="9.14" fill="#0ab5cc"/>
<rect x="824.14" y="832.87" width="8.94" height="9.14" fill="#0fb0d1"/>
<rect x="832.79" y="832.87" width="8.94" height="9.14" fill="#14acd5"/>
<rect x="841.43" y="832.87" width="8.94" height="9.14" fill="#19a5da"/>
<rect x="850.08" y="832.87" width="8.94" height="9.14" fill="#1d9de1"/>
<rect x="858.72" y="832.87" width="8.94" height="9.14" fill="#2394e8"/>
<rect x="867.37" y="832.87" width="8.94" height="9.14" fill="#278af0"/>
<rect x="876.01" y="832.87" width="8.94" height="9.14" fill="#2c80f8"/>
<rect x="884.66" y="832.87" width="8.94" height="9.14" fill="#3672fa"/>
<rect x="642.60" y="841.71" width="8.94" height="9.14" fill="#464eee"/>
<rect x="651.24" y="841.71" width="8.94" height="9.14" fill="#4658f5"/>
<rect x="659.89" y="841.71" width="8.94" height="9.14" fill="#4066fa"/>
<rect x="668.53" y="841.71" width="8.94" height="9.14" fill="#3376fa"/>
<rect x="677.18" y="841.71" width="8.94" height="9.14" fill="#2a83f6"/>
<rect x="685.82" y="841.71" width="8.94" height="9.14" fill="#268dee"/>
<rect x="694.47" y="841.71" width="8.94" height="9.14" fill="#2394e8"/>
<rect x="703.11" y="841.71" width="8.94" height="9.14" fill="#2099e4"/>
<rect x="711.76" y="841.71" width="8.94" height="9.14" fill="#1d9fe0"/>
<rect x="720.40" y="841.71" width="8.94" height="9.14" fill="#17a8d9"/>
<rect x="729.05" y="841.71" width="8.94" height="9.14" fill="#10afd2"/>
<rect x="737.69" y="841.71" width="8.94" height="9.14" fill="#0cb3ce"/>
<rect x="746.34" y="841.71" width="8.94" height="9.14" fill="#05b9c8"/>
<rect x="754.98" y="841.71" width="8.94" height="9.14" fill="#1fc0b2"/>
<rect x="763.63" y="841.71" width="8.94" height="9.14" fill="#31c4a0"/>
<rect x="772.27" y="841.71" width="8.94" height="9.14" fill="#2bc3a7"/>
<rect x="780.92" y="841.71" width="8.94" height="9.14" fill="#19bfb7"/>
<rect x="789.56" y="841.71" width="8.94" height="9.14" fill="#0dbbc1"/>
<rect x="798.21" y="841.71" width="8.94" height="9.14" fill="#05b9c8"/>
<rect x="806.85" y="841.71" width="8.94" height="9.14" fill="#0ab4cd"/>
<rect x="815.50" y="841.71" width="8.94" height="9.14" fill="#10afd2"/>
<rect x="824.14" y="841.71" width="8.94" height="9.14" fill="#16aad7"/>
<rect x="832.79" y="841.71" width="8.94" height="9.14" fill="#19a4db"/>
<rect x="841.43" y="841.71" width="8.94" height="9.14" fill="#1e9de1"/>
<rect x="850.08" y="841.71" width="8.94" height="9.14" fill="#2394e8"/>
<rect x="858.72" y="841.71" width="8.94" height="9.14" fill="#278af0"/>
<rect x="867.37" y="841.71" width="8.94" height="9.14" fill="#2c80f8"/>
<rect x="876.01" y="841.71" width="8.94" height="9.14" fill="#3573fa"/>
<rect x="884.66" y="841.71" width="8.94" height="9.14" fill="#4066fa"/>
<rect x="642.60" y="850.55" width="8.94" height="9.14" fill="#463adc"/>
<rect x="651.24" y="850.55" width="8.94" height="9.14" fill="#4742e5"/>
<rect x="659.89" y="850.55" width="8.94" height="9.14" fill="#464fef"/>
<rect x="668.53" y="850.55" width="8.94" height="9.14" fill="#465ffa"/>
<rect x="677.18" y="850.55" width="8.94" height="9.14" fill="#3a6dfa"/>
<rect x="685.82" y="850.55" width="8.94" height="9.14" fill="#2f7afa"/>
<rect x="694.47" y="850.55" width="8.94" height="9.14" fill="#2a83f5"/>
<rect x="703.11" y="850.55" width="8.94" height="9.14" fill="#2889f1"/>
<rect x="711.76" y="850.55" width="8.94" height="9.14" fill="#2590eb"/>
<rect x="720.40" y="850.55" width="8.94" height="9.14" fill="#1f9ae3"/>
<rect x="729.05" y="850.55" width="8.94" height="9.14" fill="#19a4db"/>
<rect x="737.69" y="850.55" width="8.94" height="9.14" fill="#16aad7"/>
<rect x="746.34" y="850.55" width="8.94" height="9.14" fill="#0fb1d0"/>
<rect x="754.98" y="850.55" width="8.94" height="9.14" fill="#0abac4"/>
<rect x="763.63" y="850.55" width="8.94" height="9.14" fill="#19bfb7"/>
<rect x="772.27" y="850.55" width="8.94" height="9.14" fill="#12bdbc"/>
<rect x="780.92" y="850.55" width="8.94" height="9.14" fill="#06b8c9"/>
<rect x="789.56" y="850.55" width="8.94" height="9.14" fill="#0bb4cd"/>
<rect x="798.21" y="850.55" width="8.94" height="9.14" fill="#0eb1d0"/>
<rect x="806.85" y="850.55" width="8.94" height="9.14" fill="#12add4"/>
<rect x="815.50" y="850.55" width="8.94" height="9.14" fill="#17a8d8"/>
<rect x="824.14" y="850.55" width="8.94" height="9.14" fill="#1aa3dc"/>
<rect x="832.79" y="850.55" width="8.94" height="9.14" fill="#1e9de1"/>
<rect x="841.43" y="850.55" width="8.94" height="9.14" fill="#2295e7"/>
<rect x="850.08" y="850.55" width="8.94" height="9.14" fill="#278cee"/>
<rect x="858.72" y="850.55" width="8.94" height="9.14" fill="#2b81f7"/>
<rect x="867.37" y="850.55" width="8.94" height="9.14" fill="#3574fa"/>
<rect x="876.01" y="850.55" width="8.94" height="9.14" fill="#4066fa"/>
<rect x="884.66" y="850.55" width="8.94" height="9.14" fill="#465bf7"/>
<rect x="642.60" y="859.39" width="8.94" height="9.14" fill="#412ebd"/>
<rect x="651.24" y="859.39" width="8.94" height="9.14" fill="#4333c9"/>
<rect x="659.89" y="859.39" width="8.94" height="9.14" fill="#4639da"/>
<rect x="668.53" y="859.39" width="8.94" height="9.14" fill="#4744e7"/>
<rect x="677.18" y="859.39" width="8.94" height="9.14" fill="#4652f1"/>
<rect x="685.82" y="859.39" width="8.94" height="9.14" fill="#4560fa"/>
<rect x="694.47" y="859.39" width="8.94" height="9.14" fill="#3d6afa"/>
<rect x="703.11" y="859.39" width="8.94" height="9.14" fill="#3673fa"/>
<rect x="711.76" y="859.39" width="8.94" height="9.14" fill="#2d7dfa"/>
<rect x="720.40" y="859.39" width="8.94" height="9.14" fill="#2888f1"/>
<rect x="729.05" y="859.39" width="8.94" height="9.14" fill="#2394e8"/>
<rect x="737.69" y="859.39" width="8.94" height="9.14" fill="#1e9ce2"/>
<rect x="746.34" y="859.39" width="8.94" height="9.14" fill="#19a4db"/>
<rect x="754.98" y="859.39" width="8.94" height="9.14" fill="#12aed3"/>
<rect x="763.63" y="859.39" width="8.94" height="9.14" fill="#0bb4cd"/>
<rect x="772.27" y="859.39" width="8.94" height="9.14" fill="#0cb3ce"/>
<rect x="780.92" y="859.39" width="8.94" height="9.14" fill="#10afd2"/>
<rect x="789.56" y="859.39" width="8.94" height="9.14" fill="#13acd5"/>
<rect x="798.21" y="859.39" width="8.94" height="9.14" fill="#16aad7"/>
<rect x="806.85" y="859.39" width="8.94" height="9.14" fill="#19a5db"/>
<rect x="815.50" y="859.39" width="8.94" height="9.14" fill="#1d9fe0"/>
<rect x="824.14" y="859.39" width="8.94" height="9.14" fill="#209ae4"/>
<rect x="832.79" y="859.39" width="8.94" height="9.14" fill="#2394e8"/>
<rect x="841.43" y="859.39" width="8.94" height="9.14" fill="#268cee"/>
<rect x="850.08" y="859.39" width="8.94" height="9.14" fill="#2b83f6"/>
<rect x="858.72" y="859.39" width="8.94" height="9.14" fill="#3376fa"/>
<rect x="867.37" y="859.39" width="8.94" height="9.14" fill="#4066fa"/>
<rect x="876.01" y="859.39" width="8.94" height="9.14" fill="#4658f5"/>
<rect x="884.66" y="859.39" width="8.94" height="9.14" fill="#464eee"/>
<rect x="642.60" y="868.22" width="8.94" height="9.14" fill="#3f27ab"/>
<rect x="651.24" y="868.22" width="8.94" height="9.14" fill="#402bb4"/>
<rect x="659.89" y="868.22" width="8.94" height="9.14" fill="#422fc0"/>
<rect x="668.53" y="868.22" width="8.94" height="9.14" fill="#4435ce"/>
<rect x="677.18" y="868.22" width="8.94" height="9.14" fill="#473bde"/>
<rect x="685.82" y="868.22" width="8.94" height="9.14" fill="#4744e7"/>
<rect x="694.47" y="868.22" width="8.94" height="9.14" fill="#464eee"/>
<rect x="703.11" y="868.22" width="8.94" height="9.14" fill="#4657f4"/>
<rect x="711.76" y="868.22" width="8.94" height="9.14" fill="#4462fa"/>
<rect x="720.40" y="868.22" width="8.94" height="9.14" fill="#3a6efa"/>
<rect x="729.05" y="868.22" width="8.94" height="9.14" fill="#2f7bfa"/>
<rect x="737.69" y="868.22" width="8.94" height="9.14" fill="#2985f4"/>
<rect x="746.34" y="868.22" width="8.94" height="9.14" fill="#258fec"/>
<rect x="754.98" y="868.22" width="8.94" height="9.14" fill="#1f9ae3"/>
<rect x="763.63" y="868.22" width="8.94" height="9.14" fill="#1aa3dd"/>
<rect x="772.27" y="868.22" width="8.94" height="9.14" fill="#19a5db"/>
<rect x="780.92" y="868.22" width="8.94" height="9.14" fill="#1aa4dc"/>
<rect x="789.56" y="868.22" width="8.94" height="9.14" fill="#1ba2dd"/>
<rect x="798.21" y="868.22" width="8.94" height="9.14" fill="#1c9fdf"/>
<rect x="806.85" y="868.22" width="8.94" height="9.14" fill="#209ae4"/>
<rect x="815.50" y="868.22" width="8.94" height="9.14" fill="#2393e9"/>
<rect x="824.14" y="868.22" width="8.94" height="9.14" fill="#268ded"/>
<rect x="832.79" y="868.22" width="8.94" height="9.14" fill="#2888f2"/>
<rect x="841.43" y="868.22" width="8.94" height="9.14" fill="#2c7ff8"/>
<rect x="850.08" y="868.22" width="8.94" height="9.14" fill="#3573fa"/>
<rect x="858.72" y="868.22" width="8.94" height="9.14" fill="#4264fa"/>
<rect x="867.37" y="868.22" width="8.94" height="9.14" fill="#4655f3"/>
<rect x="876.01" y="868.22" width="8.94" height="9.14" fill="#4747e9"/>
<rect x="884.66" y="868.22" width="8.94" height="9.14" fill="#473ee2"/>
<rect x="642.60" y="877.06" width="8.94" height="9.14" fill="#3f29af"/>
<rect x="651.24" y="877.06" width="8.94" height="9.14" fill="#402cb6"/>
<rect x="659.89" y="877.06" width="8.94" height="9.14" fill="#412ebd"/>
<rect x="668.53" y="877.06" width="8.94" height="9.14" fill="#4231c4"/>
<rect x="677.18" y="877.06" width="8.94" height="9.14" fill="#4434cc"/>
<rect x="685.82" y="877.06" width="8.94" height="9.14" fill="#4537d3"/>
<rect x="694.47" y="877.06" width="8.94" height="9.14" fill="#4639da"/>
<rect x="703.11" y="877.06" width="8.94" height="9.14" fill="#473ce1"/>
<rect x="711.76" y="877.06" width="8.94" height="9.14" fill="#4740e4"/>
<rect x="720.40" y="877.06" width="8.94" height="9.14" fill="#4746e8"/>
<rect x="729.05" y="877.06" width="8.94" height="9.14" fill="#464eee"/>
<rect x="737.69" y="877.06" width="8.94" height="9.14" fill="#4657f4"/>
<rect x="746.34" y="877.06" width="8.94" height="9.14" fill="#4067fa"/>
<rect x="754.98" y="877.06" width="8.94" height="9.14" fill="#2d7ef9"/>
<rect x="763.63" y="877.06" width="8.94" height="9.14" fill="#268eec"/>
<rect x="772.27" y="877.06" width="8.94" height="9.14" fill="#2394e8"/>
<rect x="780.92" y="877.06" width="8.94" height="9.14" fill="#2394e8"/>
<rect x="789.56" y="877.06" width="8.94" height="9.14" fill="#2492ea"/>
<rect x="798.21" y="877.06" width="8.94" height="9.14" fill="#268eed"/>
<rect x="806.85" y="877.06" width="8.94" height="9.14" fill="#2889f1"/>
<rect x="815.50" y="877.06" width="8.94" height="9.14" fill="#2a83f6"/>
<rect x="824.14" y="877.06" width="8.94" height="9.14" fill="#2d7ef9"/>
<rect x="832.79" y="877.06" width="8.94" height="9.14" fill="#3376fa"/>
<rect x="841.43" y="877.06" width="8.94" height="9.14" fill="#3f67fa"/>
<rect x="850.08" y="877.06" width="8.94" height="9.14" fill="#4656f4"/>
<rect x="858.72" y="877.06" width="8.94" height="9.14" fill="#4747e9"/>
<rect x="867.37" y="877.06" width="8.94" height="9.14" fill="#473ce1"/>
<rect x="876.01" y="877.06" width="8.94" height="9.14" fill="#4536d2"/>
<rect x="884.66" y="877.06" width="8.94" height="9.14" fill="#4231c4"/>
</g>
<g shape-rendering="crispEdges">
<rect x="948.80" y="629.60" width="8.98" height="9.14" fill="#3f29af"/>
<rect x="957.48" y="629.60" width="8.98" height="9.14" fill="#3f29b1"/>
<rect x="966.17" y="629.60" width="8.98" height="9.14" fill="#402cb6"/>
<rect x="974.85" y="629.60" width="8.98" height="9.14" fill="#412ebd"/>
<rect x="983.53" y="629.60" width="8.98" height="9.14" fill="#4231c4"/>
<rect x="992.21" y="629.60" width="8.98" height="9.14" fill="#4333cb"/>
<rect x="1000.90" y="629.60" width="8.98" height="9.14" fill="#4536d3"/>
<rect x="1009.58" y="629.60" width="8.98" height="9.14" fill="#473bdf"/>
<rect x="1018.26" y="629.60" width="8.98" height="9.14" fill="#4745e7"/>
<rect x="1026.94" y="629.60" width="8.98" height="9.14" fill="#4650ef"/>
<rect x="1035.63" y="629.60" width="8.98" height="9.14" fill="#465ffa"/>
<rect x="1044.31" y="629.60" width="8.98" height="9.14" fill="#386ffa"/>
<rect x="1052.99" y="629.60" width="8.98" height="9.14" fill="#2d7dfa"/>
<rect x="1061.68" y="629.60" width="8.98" height="9.14" fill="#2b82f6"/>
<rect x="1070.36" y="629.60" width="8.98" height="9.14" fill="#2a83f6"/>
<rect x="1079.04" y="629.60" width="8.98" height="9.14" fill="#2a83f5"/>
<rect x="1087.72" y="629.60" width="8.98" height="9.14" fill="#2a83f5"/>
<rect x="1096.41" y="629.60" width="8.98" height="9.14" fill="#2c7ff9"/>
<rect x="1105.09" y="629.60" width="8.98" height="9.14" fill="#3376fa"/>
<rect x="1113.77" y="629.60" width="8.98" height="9.14" fill="#3f68fa"/>
<rect x="1122.46" y="629.60" width="8.98" height="9.14" fill="#4656f4"/>
<rect x="1131.14" y="629.60" width="8.98" height="9.14" fill="#4743e6"/>
<rect x="1139.82" y="629.60" width="8.98" height="9.14" fill="#4536d3"/>
<rect x="1148.50" y="629.60" width="8.98" height="9.14" fill="#422fc0"/>
<rect x="1157.19" y="629.60" width="8.98" height="9.14" fill="#402cb6"/>
<rect x="1165.87" y="629.60" width="8.98" height="9.14" fill="#402bb4"/>
<rect x="1174.55" y="629.60" width="8.98" height="9.14" fill="#402cb6"/>
<rect x="1183.23" y="629.60" width="8.98" height="9.14" fill="#412cb8"/>
<rect x="1191.92" y="629.60" width="8.98" height="9.14" fill="#402cb6"/>
<rect x="948.80" y="638.44" width="8.98" height="9.14" fill="#4230c1"/>
<rect x="957.48" y="638.44" width="8.98" height="9.14" fill="#4332c7"/>
<rect x="966.17" y="638.44" width="8.98" height="9.14" fill="#4434cc"/>
<rect x="974.85" y="638.44" width="8.98" height="9.14" fill="#4435cf"/>
<rect x="983.53" y="638.44" width="8.98" height="9.14" fill="#4435d0"/>
<rect x="992.21" y="638.44" width="8.98" height="9.14" fill="#4436d1"/>
<rect x="1000.90" y="638.44" width="8.98" height="9.14" fill="#4537d3"/>
<rect x="1009.58" y="638.44" width="8.98" height="9.14" fill="#463adb"/>
<rect x="1018.26" y="638.44" width="8.98" height="9.14" fill="#4741e5"/>
<rect x="1026.94" y="638.44" width="8.98" height="9.14" fill="#464fee"/>
<rect x="1035.63" y="638.44" width="8.98" height="9.14" fill="#4560fa"/>
<rect x="1044.31" y="638.44" width="8.98" height="9.14" fill="#3672fa"/>
<rect x="1052.99" y="638.44" width="8.98" height="9.14" fill="#2b80f7"/>
<rect x="1061.68" y="638.44" width="8.98" height="9.14" fill="#2987f2"/>
<rect x="1070.36" y="638.44" width="8.98" height="9.14" fill="#278af0"/>
<rect x="1079.04" y="638.44" width="8.98" height="9.14" fill="#278bef"/>
<rect x="1087.72" y="638.44" width="8.98" height="9.14" fill="#278af0"/>
<rect x="1096.41" y="638.44" width="8.98" height="9.14" fill="#2888f1"/>
<rect x="1105.09" y="638.44" width="8.98" height="9.14" fill="#2b83f6"/>
<rect x="1113.77" y="638.44" width="8.98" height="9.14" fill="#3277fa"/>
<rect x="1122.46" y="638.44" width="8.98" height="9.14" fill="#4264fa"/>
<rect x="1131.14" y="638.44" width="8.98" height="9.14" fill="#4749ea"/>
<rect x="1139.82" y="638.44" width="8.98" height="9.14" fill="#4536d2"/>
<rect x="1148.50" y="638.44" width="8.98" height="9.14" fill="#4331c5"/>
<rect x="1157.19" y="638.44" width="8.98" height="9.14" fill="#4331c6"/>
<rect x="1165.87" y="638.44" width="8.98" height="9.14" fill="#4332c8"/>
<rect x="1174.55" y="638.44" width="8.98" height="9.14" fill="#4333c9"/>
<rect x="1183.23" y="638.44" width="8.98" height="9.14" fill="#4332c6"/>
<rect x="1191.92" y="638.44" width="8.98" height="9.14" fill="#422fc0"/>
<rect x="948.80" y="647.28" width="8.98" height="9.14" fill="#4434cc"/>
<rect x="957.48" y="647.28" width="8.98" height="9.14" fill="#4538d6"/>
<rect x="966.17" y="647.28" width="8.98" height="9.14" fill="#473ce1"/>
<rect x="974.85" y="647.28" width="8.98" height="9.14" fill="#4742e5"/>
<rect x="983.53" y="647.28" width="8.98" height="9.14" fill="#4745e7"/>
<rect x="992.21" y="647.28" width="8.98" height="9.14" fill="#4745e7"/>
<rect x="1000.90" y="647.28" width="8.98" height="9.14" fill="#4745e7"/>
<rect x="1009.58" y="647.28" width="8.98" height="9.14" fill="#4747e9"/>
<rect x="1018.26" y="647.28" width="8.98" height="9.14" fill="#464eee"/>
<rect x="1026.94" y="647.28" width="8.98" height="9.14" fill="#4658f5"/>
<rect x="1035.63" y="647.28" width="8.98" height="9.14" fill="#4066fa"/>
<rect x="1044.31" y="647.28" width="8.98" height="9.14" fill="#3376fa"/>
<rect x="1052.99" y="647.28" width="8.98" height="9.14" fill="#2a83f5"/>
<rect x="1061.68" y="647.28" width="8.98" height="9.14" fill="#278af0"/>
<rect x="1070.36" y="647.28" width="8.98" height="9.14" fill="#258eec"/>
<rect x="1079.04" y="647.28" width="8.98" height="9.14" fill="#258fec"/>
<rect x="1087.72" y="647.28" width="8.98" height="9.14" fill="#258eec"/>
<rect x="1096.41" y="647.28" width="8.98" height="9.14" fill="#268dee"/>
<rect x="1105.09" y="647.28" width="8.98" height="9.14" fill="#2889f1"/>
<rect x="1113.77" y="647.28" width="8.98" height="9.14" fill="#2c7ff8"/>
<rect x="1122.46" y="647.28" width="8.98" height="9.14" fill="#396efa"/>
<rect x="1131.14" y="647.28" width="8.98" height="9.14" fill="#4659f5"/>
<rect x="1139.82" y="647.28" width="8.98" height="9.14" fill="#4745e7"/>
<rect x="1148.50" y="647.28" width="8.98" height="9.14" fill="#473bdf"/>
<rect x="1157.19" y="647.28" width="8.98" height="9.14" fill="#4639da"/>
<rect x="1165.87" y="647.28" width="8.98" height="9.14" fill="#4639d9"/>
<rect x="1174.55" y="647.28" width="8.98" height="9.14" fill="#4639da"/>
<rect x="1183.23" y="647.28" width="8.98" height="9.14" fill="#4639d9"/>
<rect x="1191.92" y="647.28" width="8.98" height="9.14" fill="#4536d3"/>
<rect x="948.80" y="656.11" width="8.98" height="9.14" fill="#4537d5"/>
<rect x="957.48" y="656.11" width="8.98" height="9.14" fill="#473de2"/>
<rect x="966.17" y="656.11" width="8.98" height="9.14" fill="#4749ea"/>
<rect x="974.85" y="656.11" width="8.98" height="9.14" fill="#4655f3"/>
<rect x="983.53" y="656.11" width="8.98" height="9.14" fill="#465cf8"/>
<rect x="992.21" y="656.11" width="8.98" height="9.14" fill="#465ef9"/>
<rect x="1000.90" y="656.11" width="8.98" height="9.14" fill="#465cf8"/>
<rect x="1009.58" y="656.11" width="8.98" height="9.14" fill="#465df8"/>
<rect x="1018.26" y="656.11" width="8.98" height="9.14" fill="#4560fa"/>
<rect x="1026.94" y="656.11" width="8.98" height="9.14" fill="#4066fa"/>
<rect x="1035.63" y="656.11" width="8.98" height="9.14" fill="#396ffa"/>
<rect x="1044.31" y="656.11" width="8.98" height="9.14" fill="#2f7afa"/>
<rect x="1052.99" y="656.11" width="8.98" height="9.14" fill="#2a84f5"/>
<rect x="1061.68" y="656.11" width="8.98" height="9.14" fill="#278bef"/>
<rect x="1070.36" y="656.11" width="8.98" height="9.14" fill="#258fec"/>
<rect x="1079.04" y="656.11" width="8.98" height="9.14" fill="#2590eb"/>
<rect x="1087.72" y="656.11" width="8.98" height="9.14" fill="#258fec"/>
<rect x="1096.41" y="656.11" width="8.98" height="9.14" fill="#268eed"/>
<rect x="1105.09" y="656.11" width="8.98" height="9.14" fill="#278af0"/>
<rect x="1113.77" y="656.11" width="8.98" height="9.14" fill="#2b82f6"/>
<rect x="1122.46" y="656.11" width="8.98" height="9.14" fill="#3277fa"/>
<rect x="1131.14" y="656.11" width="8.98" height="9.14" fill="#3d6afa"/>
<rect x="1139.82" y="656.11" width="8.98" height="9.14" fill="#465df9"/>
<rect x="1148.50" y="656.11" width="8.98" height="9.14" fill="#4650ef"/>
<rect x="1157.19" y="656.11" width="8.98" height="9.14" fill="#4746e8"/>
<rect x="1165.87" y="656.11" width="8.98" height="9.14" fill="#4742e6"/>
<rect x="1174.55" y="656.11" width="8.98" height="9.14" fill="#4742e5"/>
<rect x="1183.23" y="656.11" width="8.98" height="9.14" fill="#4743e6"/>
<rect x="1191.92" y="656.11" width="8.98" height="9.14" fill="#4741e5"/>
<rect x="948.80" y="664.95" width="8.98" height="9.14" fill="#473ce1"/>
<rect x="957.48" y="664.95" width="8.98" height="9.14" fill="#4747e9"/>
<rect x="966.17" y="664.95" width="8.98" height="9.14" fill="#4656f4"/>
<rect x="974.85" y="664.95" width="8.98" height="9.14" fill="#4165fa"/>
<rect x="983.53" y="664.95" width="8.98" height="9.14" fill="#3a6efa"/>
<rect x="992.21" y="664.95" width="8.98" height="9.14" fill="#3870fa"/>
<rect x="1000.90" y="664.95" width="8.98" height="9.14" fill="#3a6efa"/>
<rect x="1009.58" y="664.95" width="8.98" height="9.14" fill="#3a6dfa"/>
<rect x="1018.26" y="664.95" width="8.98" height="9.14" fill="#396efa"/>
<rect x="1026.94" y="664.95" width="8.98" height="9.14" fill="#3771fa"/>
<rect x="1035.63" y="664.95" width="8.98" height="9.14" fill="#3375fa"/>
<rect x="1044.31" y="664.95" width="8.98" height="9.14" fill="#2e7cfa"/>
<rect x="1052.99" y="664.95" width="8.98" height="9.14" fill="#2a83f5"/>
<rect x="1061.68" y="664.95" width="8.98" height="9.14" fill="#2889f0"/>
<rect x="1070.36" y="664.95" width="8.98" height="9.14" fill="#268eec"/>
<rect x="1079.04" y="664.95" width="8.98" height="9.14" fill="#258fec"/>
<rect x="1087.72" y="664.95" width="8.98" height="9.14" fill="#258eec"/>
<rect x="1096.41" y="664.95" width="8.98" height="9.14" fill="#268cee"/>
<rect x="1105.09" y="664.95" width="8.98" height="9.14" fill="#2889f1"/>
<rect x="1113.77" y="664.95" width="8.98" height="9.14" fill="#2a83f5"/>
<rect x="1122.46" y="664.95" width="8.98" height="9.14" fill="#2d7dfa"/>
<rect x="1131.14" y="664.95" width="8.98" height="9.14" fill="#3376fa"/>
<rect x="1139.82" y="664.95" width="8.98" height="9.14" fill="#396efa"/>
<rect x="1148.50" y="664.95" width="8.98" height="9.14" fill="#4362fa"/>
<rect x="1157.19" y="664.95" width="8.98" height="9.14" fill="#4656f4"/>
<rect x="1165.87" y="664.95" width="8.98" height="9.14" fill="#464fef"/>
<rect x="1174.55" y="664.95" width="8.98" height="9.14" fill="#464dee"/>
<rect x="1183.23" y="664.95" width="8.98" height="9.14" fill="#464eee"/>
<rect x="1191.92" y="664.95" width="8.98" height="9.14" fill="#464eee"/>
<rect x="948.80" y="673.79" width="8.98" height="9.14" fill="#4748e9"/>
<rect x="957.48" y="673.79" width="8.98" height="9.14" fill="#4654f2"/>
<rect x="966.17" y="673.79" width="8.98" height="9.14" fill="#4363fa"/>
<rect x="974.85" y="673.79" width="8.98" height="9.14" fill="#3870fa"/>
<rect x="983.53" y="673.79" width="8.98" height="9.14" fill="#3178fa"/>
<rect x="992.21" y="673.79" width="8.98" height="9.14" fill="#3179fa"/>
<rect x="1000.90" y="673.79" width="8.98" height="9.14" fill="#3376fa"/>
<rect x="1009.58" y="673.79" width="8.98" height="9.14" fill="#3475fa"/>
<rect x="1018.26" y="673.79" width="8.98" height="9.14" fill="#3375fa"/>
<rect x="1026.94" y="673.79" width="8.98" height="9.14" fill="#3277fa"/>
<rect x="1035.63" y="673.79" width="8.98" height="9.14" fill="#3179fa"/>
<rect x="1044.31" y="673.79" width="8.98" height="9.14" fill="#2e7cfa"/>
<rect x="1052.99" y="673.79" width="8.98" height="9.14" fill="#2b81f7"/>
<rect x="1061.68" y="673.79" width="8.98" height="9.14" fill="#2986f3"/>
<rect x="1070.36" y="673.79" width="8.98" height="9.14" fill="#278bef"/>
<rect x="1079.04" y="673.79" width="8.98" height="9.14" fill="#268dee"/>
<rect x="1087.72" y="673.79" width="8.98" height="9.14" fill="#278bef"/>
<rect x="1096.41" y="673.79" width="8.98" height="9.14" fill="#2888f1"/>
<rect x="1105.09" y="673.79" width="8.98" height="9.14" fill="#2985f4"/>
<rect x="1113.77" y="673.79" width="8.98" height="9.14" fill="#2a83f5"/>
<rect x="1122.46" y="673.79" width="8.98" height="9.14" fill="#2c80f8"/>
<rect x="1131.14" y="673.79" width="8.98" height="9.14" fill="#2f7bfa"/>
<rect x="1139.82" y="673.79" width="8.98" height="9.14" fill="#3573fa"/>
<rect x="1148.50" y="673.79" width="8.98" height="9.14" fill="#3b6cfa"/>
<rect x="1157.19" y="673.79" width="8.98" height="9.14" fill="#4165fa"/>
<rect x="1165.87" y="673.79" width="8.98" height="9.14" fill="#465ffa"/>
<rect x="1174.55" y="673.79" width="8.98" height="9.14" fill="#4659f6"/>
<rect x="1183.23" y="673.79" width="8.98" height="9.14" fill="#4656f3"/>
<rect x="1191.92" y="673.79" width="8.98" height="9.14" fill="#4656f3"/>
<rect x="948.80" y="682.63" width="8.98" height="9.14" fill="#4656f4"/>
<rect x="957.48" y="682.63" width="8.98" height="9.14" fill="#4363fa"/>
<rect x="966.17" y="682.63" width="8.98" height="9.14" fill="#396efa"/>
<rect x="974.85" y="682.63" width="8.98" height="9.14" fill="#3277fa"/>
<rect x="983.53" y="682.63" width="8.98" height="9.14" fill="#2d7dfa"/>
<rect x="992.21" y="682.63" width="8.98" height="9.14" fill="#2d7ef9"/>
<rect x="1000.90" y="682.63" width="8.98" height="9.14" fill="#2d7dfa"/>
<rect x="1009.58" y="682.63" width="8.98" height="9.14" fill="#2d7dfa"/>
<rect x="1018.26" y="682.63" width="8.98" height="9.14" fill="#2d7dfa"/>
<rect x="1026.94" y="682.63" width="8.98" height="9.14" fill="#2d7dfa"/>
<rect x="1035.63" y="682.63" width="8.98" height="9.14" fill="#2d7dfa"/>
<rect x="1044.31" y="682.63" width="8.98" height="9.14" fill="#2d7efa"/>
<rect x="1052.99" y="682.63" width="8.98" height="9.14" fill="#2c80f8"/>
<rect x="1061.68" y="682.63" width="8.98" height="9.14" fill="#2a84f4"/>
<rect x="1070.36" y="682.63" width="8.98" height="9.14" fill="#2888f1"/>
<rect x="1079.04" y="682.63" width="8.98" height="9.14" fill="#278af0"/>
<rect x="1087.72" y="682.63" width="8.98" height="9.14" fill="#2889f1"/>
<rect x="1096.41" y="682.63" width="8.98" height="9.14" fill="#2985f4"/>
<rect x="1105.09" y="682.63" width="8.98" height="9.14" fill="#2a83f5"/>
<rect x="1113.77" y="682.63" width="8.98" height="9.14" fill="#2a83f5"/>
<rect x="1122.46" y="682.63" width="8.98" height="9.14" fill="#2b83f6"/>
<rect x="1131.14" y="682.63" width="8.98" height="9.14" fill="#2d7dfa"/>
<rect x="1139.82" y="682.63" width="8.98" height="9.14" fill="#3376fa"/>
<rect x="1148.50" y="682.63" width="8.98" height="9.14" fill="#3771fa"/>
<rect x="1157.19" y="682.63" width="8.98" height="9.14" fill="#396efa"/>
<rect x="1165.87" y="682.63" width="8.98" height="9.14" fill="#3f67fa"/>
<rect x="1174.55" y="682.63" width="8.98" height="9.14" fill="#465ffa"/>
<rect x="1183.23" y="682.63" width="8.98" height="9.14" fill="#4658f5"/>
<rect x="1191.92" y="682.63" width="8.98" height="9.14" fill="#4656f4"/>
<rect x="948.80" y="691.47" width="8.98" height="9.14" fill="#4264fa"/>
<rect x="957.48" y="691.47" width="8.98" height="9.14" fill="#386ffa"/>
<rect x="966.17" y="691.47" width="8.98" height="9.14" fill="#3277fa"/>
<rect x="974.85" y="691.47" width="8.98" height="9.14" fill="#2d7dfa"/>
<rect x="983.53" y="691.47" width="8.98" height="9.14" fill="#2c80f7"/>
<rect x="992.21" y="691.47" width="8.98" height="9.14" fill="#2a83f5"/>
<rect x="1000.90" y="691.47" width="8.98" height="9.14" fill="#2986f3"/>
<rect x="1009.58" y="691.47" width="8.98" height="9.14" fill="#2888f1"/>
<rect x="1018.26" y="691.47" width="8.98" height="9.14" fill="#2888f1"/>
<rect x="1026.94" y="691.47" width="8.98" height="9.14" fill="#2987f2"/>
<rect x="1035.63" y="691.47" width="8.98" height="9.14" fill="#2a84f4"/>
<rect x="1044.31" y="691.47" width="8.98" height="9.14" fill="#2a83f5"/>
<rect x="1052.99" y="691.47" width="8.98" height="9.14" fill="#2a83f5"/>
<rect x="1061.68" y="691.47" width="8.98" height="9.14" fill="#2985f3"/>
<rect x="1070.36" y="691.47" width="8.98" height="9.14" fill="#2888f1"/>
<rect x="1079.04" y="691.47" width="8.98" height="9.14" fill="#2889f1"/>
<rect x="1087.72" y="691.47" width="8.98" height="9.14" fill="#2888f2"/>
<rect x="1096.41" y="691.47" width="8.98" height="9.14" fill="#2985f3"/>
<rect x="1105.09" y="691.47" width="8.98" height="9.14" fill="#2a84f5"/>
<rect x="1113.77" y="691.47" width="8.98" height="9.14" fill="#2985f4"/>
<rect x="1122.46" y="691.47" width="8.98" height="9.14" fill="#2986f3"/>
<rect x="1131.14" y="691.47" width="8.98" height="9.14" fill="#2b82f6"/>
<rect x="1139.82" y="691.47" width="8.98" height="9.14" fill="#2d7dfa"/>
<rect x="1148.50" y="691.47" width="8.98" height="9.14" fill="#3277fa"/>
<rect x="1157.19" y="691.47" width="8.98" height="9.14" fill="#3870fa"/>
<rect x="1165.87" y="691.47" width="8.98" height="9.14" fill="#4066fa"/>
<rect x="1174.55" y="691.47" width="8.98" height="9.14" fill="#465cf8"/>
<rect x="1183.23" y="691.47" width="8.98" height="9.14" fill="#4653f1"/>
<rect x="1191.92" y="691.47" width="8.98" height="9.14" fill="#464eee"/>
<rect x="948.80" y="700.30" width="8.98" height="9.14" fill="#3a6efa"/>
<rect x="957.48" y="700.30" width="8.98" height="9.14" fill="#3178fa"/>
<rect x="966.17" y="700.30" width="8.98" height="9.14" fill="#2d7dfa"/>
<rect x="974.85" y="700.30" width="8.98" height="9.14" fill="#2c7ff8"/>
<rect x="983.53" y="700.30" width="8.98" height="9.14" fill="#2a83f6"/>
<rect x="992.21" y="700.30" width="8.98" height="9.14" fill="#2888f1"/>
<rect x="1000.90" y="700.30" width="8.98" height="9.14" fill="#268eed"/>
<rect x="1009.58" y="700.30" width="8.98" height="9.14" fill="#2493e9"/>
<rect x="1018.26" y="700.30" width="8.98" height="9.14" fill="#2394e8"/>
<rect x="1026.94" y="700.30" width="8.98" height="9.14" fill="#2492ea"/>
<rect x="1035.63" y="700.30" width="8.98" height="9.14" fill="#268eed"/>
<rect x="1044.31" y="700.30" width="8.98" height="9.14" fill="#278aef"/>
<rect x="1052.99" y="700.30" width="8.98" height="9.14" fill="#2889f1"/>
<rect x="1061.68" y="700.30" width="8.98" height="9.14" fill="#2889f0"/>
<rect x="1070.36" y="700.30" width="8.98" height="9.14" fill="#278bef"/>
<rect x="1079.04" y="700.30" width="8.98" height="9.14" fill="#268cee"/>
<rect x="1087.72" y="700.30" width="8.98" height="9.14" fill="#278bef"/>
<rect x="1096.41" y="700.30" width="8.98" height="9.14" fill="#278af0"/>
<rect x="1105.09" y="700.30" width="8.98" height="9.14" fill="#2888f1"/>
<rect x="1113.77" y="700.30" width="8.98" height="9.14" fill="#2888f1"/>
<rect x="1122.46" y="700.30" width="8.98" height="9.14" fill="#2888f1"/>
<rect x="1131.14" y="700.30" width="8.98" height="9.14" fill="#2987f2"/>
<rect x="1139.82" y="700.30" width="8.98" height="9.14" fill="#2a83f6"/>
<rect x="1148.50" y="700.30" width="8.98" height="9.14" fill="#2f7afa"/>
<rect x="1157.19" y="700.30" width="8.98" height="9.14" fill="#3a6efa"/>
<rect x="1165.87" y="700.30" width="8.98" height="9.14" fill="#4362fa"/>
<rect x="1174.55" y="700.30" width="8.98" height="9.14" fill="#4656f4"/>
<rect x="1183.23" y="700.30" width="8.98" height="9.14" fill="#474ced"/>
<rect x="1191.92" y="700.30" width="8.98" height="9.14" fill="#4745e7"/>
<rect x="948.80" y="709.14" width="8.98" height="9.14" fill="#3573fa"/>
<rect x="957.48" y="709.14" width="8.98" height="9.14" fill="#2f7afa"/>
<rect x="966.17" y="709.14" width="8.98" height="9.14" fill="#2d7efa"/>
<rect x="974.85" y="709.14" width="8.98" height="9.14" fill="#2c80f8"/>
<rect x="983.53" y="709.14" width="8.98" height="9.14" fill="#2a83f5"/>
<rect x="992.21" y="709.14" width="8.98" height="9.14" fill="#2889f1"/>
<rect x="1000.90" y="709.14" width="8.98" height="9.14" fill="#2590eb"/>
<rect x="1009.58" y="709.14" width="8.98" height="9.14" fill="#2197e6"/>
<rect x="1018.26" y="709.14" width="8.98" height="9.14" fill="#1f9ae3"/>
<rect x="1026.94" y="709.14" width="8.98" height="9.14" fill="#1f9be3"/>
<rect x="1035.63" y="709.14" width="8.98" height="9.14" fill="#2197e6"/>
<rect x="1044.31" y="709.14" width="8.98" height="9.14" fill="#2492ea"/>
<rect x="1052.99" y="709.14" width="8.98" height="9.14" fill="#268eed"/>
<rect x="1061.68" y="709.14" width="8.98" height="9.14" fill="#2590eb"/>
<rect x="1070.36" y="709.14" width="8.98" height="9.14" fill="#2393e9"/>
<rect x="1079.04" y="709.14" width="8.98" height="9.14" fill="#2395e8"/>
<rect x="1087.72" y="709.14" width="8.98" height="9.14" fill="#2394e8"/>
<rect x="1096.41" y="709.14" width="8.98" height="9.14" fill="#2492ea"/>
<rect x="1105.09" y="709.14" width="8.98" height="9.14" fill="#258fec"/>
<rect x="1113.77" y="709.14" width="8.98" height="9.14" fill="#268dee"/>
<rect x="1122.46" y="709.14" width="8.98" height="9.14" fill="#278bef"/>
<rect x="1131.14" y="709.14" width="8.98" height="9.14" fill="#2888f1"/>
<rect x="1139.82" y="709.14" width="8.98" height="9.14" fill="#2a84f5"/>
<rect x="1148.50" y="709.14" width="8.98" height="9.14" fill="#2f7bfa"/>
<rect x="1157.19" y="709.14" width="8.98" height="9.14" fill="#3a6efa"/>
<rect x="1165.87" y="709.14" width="8.98" height="9.14" fill="#4461fa"/>
<rect x="1174.55" y="709.14" width="8.98" height="9.14" fill="#4655f3"/>
<rect x="1183.23" y="709.14" width="8.98" height="9.14" fill="#474aeb"/>
<rect x="1191.92" y="709.14" width="8.98" height="9.14" fill="#4742e5"/>
<rect x="948.80" y="717.98" width="8.98" height="9.14" fill="#3376fa"/>
<rect x="957.48" y="717.98" width="8.98" height="9.14" fill="#307afa"/>
<rect x="966.17" y="717.98" width="8.98" height="9.14" fill="#2d7dfa"/>
<rect x="974.85" y="717.98" width="8.98" height="9.14" fill="#2c7ff8"/>
<rect x="983.53" y="717.98" width="8.98" height="9.14" fill="#2b83f6"/>
<rect x="992.21" y="717.98" width="8.98" height="9.14" fill="#2888f2"/>
<rect x="1000.90" y="717.98" width="8.98" height="9.14" fill="#268eed"/>
<rect x="1009.58" y="717.98" width="8.98" height="9.14" fill="#2296e6"/>
<rect x="1018.26" y="717.98" width="8.98" height="9.14" fill="#1e9ce2"/>
<rect x="1026.94" y="717.98" width="8.98" height="9.14" fill="#1d9ee0"/>
<rect x="1035.63" y="717.98" width="8.98" height="9.14" fill="#1e9ce2"/>
<rect x="1044.31" y="717.98" width="8.98" height="9.14" fill="#2197e6"/>
<rect x="1052.99" y="717.98" width="8.98" height="9.14" fill="#2394e8"/>
<rect x="1061.68" y="717.98" width="8.98" height="9.14" fill="#2197e6"/>
<rect x="1070.36" y="717.98" width="8.98" height="9.14" fill="#1e9ce2"/>
<rect x="1079.04" y="717.98" width="8.98" height="9.14" fill="#1d9ee0"/>
<rect x="1087.72" y="717.98" width="8.98" height="9.14" fill="#1e9ce2"/>
<rect x="1096.41" y="717.98" width="8.98" height="9.14" fill="#2099e4"/>
<rect x="1105.09" y="717.98" width="8.98" height="9.14" fill="#2394e8"/>
<rect x="1113.77" y="717.98" width="8.98" height="9.14" fill="#258fec"/>
<rect x="1122.46" y="717.98" width="8.98" height="9.14" fill="#278bef"/>
<rect x="1131.14" y="717.98" width="8.98" height="9.14" fill="#2888f2"/>
<rect x="1139.82" y="717.98" width="8.98" height="9.14" fill="#2b83f6"/>
<rect x="1148.50" y="717.98" width="8.98" height="9.14" fill="#2f7afa"/>
<rect x="1157.19" y="717.98" width="8.98" height="9.14" fill="#3a6efa"/>
<rect x="1165.87" y="717.98" width="8.98" height="9.14" fill="#4362fa"/>
<rect x="1174.55" y="717.98" width="8.98" height="9.14" fill="#4656f4"/>
<rect x="1183.23" y="717.98" width="8.98" height="9.14" fill="#474cec"/>
<rect x="1191.92" y="717.98" width="8.98" height="9.14" fill="#4745e7"/>
<rect x="948.80" y="726.82" width="8.98" height="9.14" fill="#3277fa"/>
<rect x="957.48" y="726.82" width="8.98" height="9.14" fill="#2f7bfa"/>
<rect x="966.17" y="726.82" width="8.98" height="9.14" fill="#2d7ef9"/>
<rect x="974.85" y="726.82" width="8.98" height="9.14" fill="#2c80f8"/>
<rect x="983.53" y="726.82" width="8.98" height="9.14" fill="#2b83f6"/>
<rect x="992.21" y="726.82" width="8.98" height="9.14" fill="#2987f2"/>
<rect x="1000.90" y="726.82" width="8.98" height="9.14" fill="#268dee"/>
<rect x="1009.58" y="726.82" width="8.98" height="9.14" fill="#2395e8"/>
<rect x="1018.26" y="726.82" width="8.98" height="9.14" fill="#1f9be3"/>
<rect x="1026.94" y="726.82" width="8.98" height="9.14" fill="#1d9ee1"/>
<rect x="1035.63" y="726.82" width="8.98" height="9.14" fill="#1e9de1"/>
<rect x="1044.31" y="726.82" width="8.98" height="9.14" fill="#209ae4"/>
<rect x="1052.99" y="726.82" width="8.98" height="9.14" fill="#2099e4"/>
<rect x="1061.68" y="726.82" width="8.98" height="9.14" fill="#1d9ee0"/>
<rect x="1070.36" y="726.82" width="8.98" height="9.14" fill="#1aa4dc"/>
<rect x="1079.04" y="726.82" width="8.98" height="9.14" fill="#1aa4dc"/>
<rect x="1087.72" y="726.82" width="8.98" height="9.14" fill="#1ca0df"/>
<rect x="1096.41" y="726.82" width="8.98" height="9.14" fill="#1f9ae3"/>
<rect x="1105.09" y="726.82" width="8.98" height="9.14" fill="#2394e8"/>
<rect x="1113.77" y="726.82" width="8.98" height="9.14" fill="#258fec"/>
<rect x="1122.46" y="726.82" width="8.98" height="9.14" fill="#278bef"/>
<rect x="1131.14" y="726.82" width="8.98" height="9.14" fill="#2889f1"/>
<rect x="1139.82" y="726.82" width="8.98" height="9.14" fill="#2a85f4"/>
<rect x="1148.50" y="726.82" width="8.98" height="9.14" fill="#2f7bfa"/>
<rect x="1157.19" y="726.82" width="8.98" height="9.14" fill="#3a6dfa"/>
<rect x="1165.87" y="726.82" width="8.98" height="9.14" fill="#4462fa"/>
<rect x="1174.55" y="726.82" width="8.98" height="9.14" fill="#4658f5"/>
<rect x="1183.23" y="726.82" width="8.98" height="9.14" fill="#4650ef"/>
<rect x="1191.92" y="726.82" width="8.98" height="9.14" fill="#4749ea"/>
<rect x="948.80" y="735.66" width="8.98" height="9.14" fill="#3376fa"/>
<rect x="957.48" y="735.66" width="8.98" height="9.14" fill="#2f7bfa"/>
<rect x="966.17" y="735.66" width="8.98" height="9.14" fill="#2d7dfa"/>
<rect x="974.85" y="735.66" width="8.98" height="9.14" fill="#2d7ef9"/>
<rect x="983.53" y="735.66" width="8.98" height="9.14" fill="#2c80f8"/>
<rect x="992.21" y="735.66" width="8.98" height="9.14" fill="#2a85f4"/>
<rect x="1000.90" y="735.66" width="8.98" height="9.14" fill="#278bef"/>
<rect x="1009.58" y="735.66" width="8.98" height="9.14" fill="#2393e9"/>
<rect x="1018.26" y="735.66" width="8.98" height="9.14" fill="#209ae4"/>
<rect x="1026.94" y="735.66" width="8.98" height="9.14" fill="#1e9ce2"/>
<rect x="1035.63" y="735.66" width="8.98" height="9.14" fill="#1e9ce2"/>
<rect x="1044.31" y="735.66" width="8.98" height="9.14" fill="#1f9be2"/>
<rect x="1052.99" y="735.66" width="8.98" height="9.14" fill="#1e9ce2"/>
<rect x="1061.68" y="735.66" width="8.98" height="9.14" fill="#1ca1de"/>
<rect x="1070.36" y="735.66" width="8.98" height="9.14" fill="#19a4db"/>
<rect x="1079.04" y="735.66" width="8.98" height="9.14" fill="#1aa4dc"/>
<rect x="1087.72" y="735.66" width="8.98" height="9.14" fill="#1c9fe0"/>
<rect x="1096.41" y="735.66" width="8.98" height="9.14" fill="#2099e4"/>
<rect x="1105.09" y="735.66" width="8.98" height="9.14" fill="#2394e8"/>
<rect x="1113.77" y="735.66" width="8.98" height="9.14" fill="#2590eb"/>
<rect x="1122.46" y="735.66" width="8.98" height="9.14" fill="#268eed"/>
<rect x="1131.14" y="735.66" width="8.98" height="9.14" fill="#268ded"/>
<rect x="1139.82" y="735.66" width="8.98" height="9.14" fill="#2889f1"/>
<rect x="1148.50" y="735.66" width="8.98" height="9.14" fill="#2d7ef9"/>
<rect x="1157.19" y="735.66" width="8.98" height="9.14" fill="#396efa"/>
<rect x="1165.87" y="735.66" width="8.98" height="9.14" fill="#4363fa"/>
<rect x="1174.55" y="735.66" width="8.98" height="9.14" fill="#465bf7"/>
<rect x="1183.23" y="735.66" width="8.98" height="9.14" fill="#4654f2"/>
<rect x="1191.92" y="735.66" width="8.98" height="9.14" fill="#464eee"/>
<rect x="948.80" y="744.49" width="8.98" height="9.14" fill="#396ffa"/>
<rect x="957.48" y="744.49" width="8.98" height="9.14" fill="#3376fa"/>
<rect x="966.17" y="744.49" width="8.98" height="9.14" fill="#3376fa"/>
<rect x="974.85" y="744.49" width="8.98" height="9.14" fill="#3475fa"/>
<rect x="983.53" y="744.49" width="8.98" height="9.14" fill="#3277fa"/>
<rect x="992.21" y="744.49" width="8.98" height="9.14" fill="#2c80f8"/>
<rect x="1000.90" y="744.49" width="8.98" height="9.14" fill="#278af0"/>
<rect x="1009.58" y="744.49" width="8.98" height="9.14" fill="#2393e9"/>
<rect x="1018.26" y="744.49" width="8.98" height="9.14" fill="#1f9ae3"/>
<rect x="1026.94" y="744.49" width="8.98" height="9.14" fill="#1d9ee0"/>
<rect x="1035.63" y="744.49" width="8.98" height="9.14" fill="#1ca0df"/>
<rect x="1044.31" y="744.49" width="8.98" height="9.14" fill="#1e9de1"/>
<rect x="1052.99" y="744.49" width="8.98" height="9.14" fill="#1f9be3"/>
<rect x="1061.68" y="744.49" width="8.98" height="9.14" fill="#1f9ce2"/>
<rect x="1070.36" y="744.49" width="8.98" height="9.14" fill="#1e9de1"/>
<rect x="1079.04" y="744.49" width="8.98" height="9.14" fill="#1f9ce2"/>
<rect x="1087.72" y="744.49" width="8.98" height="9.14" fill="#2099e4"/>
<rect x="1096.41" y="744.49" width="8.98" height="9.14" fill="#2098e5"/>
<rect x="1105.09" y="744.49" width="8.98" height="9.14" fill="#2198e5"/>
<rect x="1113.77" y="744.49" width="8.98" height="9.14" fill="#2197e5"/>
<rect x="1122.46" y="744.49" width="8.98" height="9.14" fill="#2296e6"/>
<rect x="1131.14" y="744.49" width="8.98" height="9.14" fill="#2394e8"/>
<rect x="1139.82" y="744.49" width="8.98" height="9.14" fill="#268ded"/>
<rect x="1148.50" y="744.49" width="8.98" height="9.14" fill="#2b82f6"/>
<rect x="1157.19" y="744.49" width="8.98" height="9.14" fill="#3574fa"/>
<rect x="1165.87" y="744.49" width="8.98" height="9.14" fill="#3e68fa"/>
<rect x="1174.55" y="744.49" width="8.98" height="9.14" fill="#4560fa"/>
<rect x="1183.23" y="744.49" width="8.98" height="9.14" fill="#465af6"/>
<rect x="1191.92" y="744.49" width="8.98" height="9.14" fill="#4653f1"/>
<rect x="948.80" y="753.33" width="8.98" height="9.14" fill="#4066fa"/>
<rect x="957.48" y="753.33" width="8.98" height="9.14" fill="#396ffa"/>
<rect x="966.17" y="753.33" width="8.98" height="9.14" fill="#396efa"/>
<rect x="974.85" y="753.33" width="8.98" height="9.14" fill="#3c6bfa"/>
<rect x="983.53" y="753.33" width="8.98" height="9.14" fill="#3a6efa"/>
<rect x="992.21" y="753.33" width="8.98" height="9.14" fill="#2f7bfa"/>
<rect x="1000.90" y="753.33" width="8.98" height="9.14" fill="#2888f1"/>
<rect x="1009.58" y="753.33" width="8.98" height="9.14" fill="#2394e8"/>
<rect x="1018.26" y="753.33" width="8.98" height="9.14" fill="#1e9ce2"/>
<rect x="1026.94" y="753.33" width="8.98" height="9.14" fill="#1aa3dd"/>
<rect x="1035.63" y="753.33" width="8.98" height="9.14" fill="#19a4db"/>
<rect x="1044.31" y="753.33" width="8.98" height="9.14" fill="#1ca0df"/>
<rect x="1052.99" y="753.33" width="8.98" height="9.14" fill="#2099e4"/>
<rect x="1061.68" y="753.33" width="8.98" height="9.14" fill="#2296e7"/>
<rect x="1070.36" y="753.33" width="8.98" height="9.14" fill="#2394e8"/>
<rect x="1079.04" y="753.33" width="8.98" height="9.14" fill="#2393e9"/>
<rect x="1087.72" y="753.33" width="8.98" height="9.14" fill="#2394e8"/>
<rect x="1096.41" y="753.33" width="8.98" height="9.14" fill="#2198e5"/>
<rect x="1105.09" y="753.33" width="8.98" height="9.14" fill="#1e9ce2"/>
<rect x="1113.77" y="753.33" width="8.98" height="9.14" fill="#1c9fdf"/>
<rect x="1122.46" y="753.33" width="8.98" height="9.14" fill="#1d9fe0"/>
<rect x="1131.14" y="753.33" width="8.98" height="9.14" fill="#1f9be2"/>
<rect x="1139.82" y="753.33" width="8.98" height="9.14" fill="#2394e8"/>
<rect x="1148.50" y="753.33" width="8.98" height="9.14" fill="#2889f1"/>
<rect x="1157.19" y="753.33" width="8.98" height="9.14" fill="#2d7dfa"/>
<rect x="1165.87" y="753.33" width="8.98" height="9.14" fill="#3870fa"/>
<rect x="1174.55" y="753.33" width="8.98" height="9.14" fill="#4066fa"/>
<rect x="1183.23" y="753.33" width="8.98" height="9.14" fill="#465efa"/>
<rect x="1191.92" y="753.33" width="8.98" height="9.14" fill="#4656f4"/>
<rect x="948.80" y="762.17" width="8.98" height="9.14" fill="#4462fa"/>
<rect x="957.48" y="762.17" width="8.98" height="9.14" fill="#3e69fa"/>
<rect x="966.17" y="762.17" width="8.98" height="9.14" fill="#3e69fa"/>
<rect x="974.85" y="762.17" width="8.98" height="9.14" fill="#3e68fa"/>
<rect x="983.53" y="762.17" width="8.98" height="9.14" fill="#3b6cfa"/>
<rect x="992.21" y="762.17" width="8.98" height="9.14" fill="#307afa"/>
<rect x="1000.90" y="762.17" width="8.98" height="9.14" fill="#2888f1"/>
<rect x="1009.58" y="762.17" width="8.98" height="9.14" fill="#2295e7"/>
<rect x="1018.26" y="762.17" width="8.98" height="9.14" fill="#1d9fe0"/>
<rect x="1026.94" y="762.17" width="8.98" height="9.14" fill="#18a6da"/>
<rect x="1035.63" y="762.17" width="8.98" height="9.14" fill="#17a8d9"/>
<rect x="1044.31" y="762.17" width="8.98" height="9.14" fill="#1aa3dc"/>
<rect x="1052.99" y="762.17" width="8.98" height="9.14" fill="#1f9be2"/>
<rect x="1061.68" y="762.17" width="8.98" height="9.14" fill="#2296e7"/>
<rect x="1070.36" y="762.17" width="8.98" height="9.14" fill="#2492e9"/>
<rect x="1079.04" y="762.17" width="8.98" height="9.14" fill="#2491eb"/>
<rect x="1087.72" y="762.17" width="8.98" height="9.14" fill="#2492e9"/>
<rect x="1096.41" y="762.17" width="8.98" height="9.14" fill="#2197e5"/>
<rect x="1105.09" y="762.17" width="8.98" height="9.14" fill="#1d9de1"/>
<rect x="1113.77" y="762.17" width="8.98" height="9.14" fill="#1ba2dd"/>
<rect x="1122.46" y="762.17" width="8.98" height="9.14" fill="#1aa3dc"/>
<rect x="1131.14" y="762.17" width="8.98" height="9.14" fill="#1ba2dd"/>
<rect x="1139.82" y="762.17" width="8.98" height="9.14" fill="#1e9ce2"/>
<rect x="1148.50" y="762.17" width="8.98" height="9.14" fill="#2491ea"/>
<rect x="1157.19" y="762.17" width="8.98" height="9.14" fill="#2a85f4"/>
<rect x="1165.87" y="762.17" width="8.98" height="9.14" fill="#3178fa"/>
<rect x="1174.55" y="762.17" width="8.98" height="9.14" fill="#3c6bfa"/>
<rect x="1183.23" y="762.17" width="8.98" height="9.14" fill="#4461fa"/>
<rect x="1191.92" y="762.17" width="8.98" height="9.14" fill="#4657f4"/>
<rect x="948.80" y="771.01" width="8.98" height="9.14" fill="#465ffa"/>
<rect x="957.48" y="771.01" width="8.98" height="9.14" fill="#4165fa"/>
<rect x="966.17" y="771.01" width="8.98" height="9.14" fill="#4067fa"/>
<rect x="974.85" y="771.01" width="8.98" height="9.14" fill="#3e68fa"/>
<rect x="983.53" y="771.01" width="8.98" height="9.14" fill="#396efa"/>
<rect x="992.21" y="771.01" width="8.98" height="9.14" fill="#2f7bfa"/>
<rect x="1000.90" y="771.01" width="8.98" height="9.14" fill="#2889f1"/>
<rect x="1009.58" y="771.01" width="8.98" height="9.14" fill="#2295e7"/>
<rect x="1018.26" y="771.01" width="8.98" height="9.14" fill="#1d9fe0"/>
<rect x="1026.94" y="771.01" width="8.98" height="9.14" fill="#19a6da"/>
<rect x="1035.63" y="771.01" width="8.98" height="9.14" fill="#18a7d9"/>
<rect x="1044.31" y="771.01" width="8.98" height="9.14" fill="#1aa3dc"/>
<rect x="1052.99" y="771.01" width="8.98" height="9.14" fill="#1e9ce2"/>
<rect x="1061.68" y="771.01" width="8.98" height="9.14" fill="#2197e6"/>
<rect x="1070.36" y="771.01" width="8.98" height="9.14" fill="#2394e8"/>
<rect x="1079.04" y="771.01" width="8.98" height="9.14" fill="#2493e9"/>
<rect x="1087.72" y="771.01" width="8.98" height="9.14" fill="#2394e8"/>
<rect x="1096.41" y="771.01" width="8.98" height="9.14" fill="#2198e5"/>
<rect x="1105.09" y="771.01" width="8.98" height="9.14" fill="#1e9ce2"/>
<rect x="1113.77" y="771.01" width="8.98" height="9.14" fill="#1ca0df"/>
<rect x="1122.46" y="771.01" width="8.98" height="9.14" fill="#1ba2dd"/>
<rect x="1131.14" y="771.01" width="8.98" height="9.14" fill="#1aa2dd"/>
<rect x="1139.82" y="771.01" width="8.98" height="9.14" fill="#1c9fe0"/>
<rect x="1148.50" y="771.01" width="8.98" height="9.14" fill="#2295e7"/>
<rect x="1157.19" y="771.01" width="8.98" height="9.14" fill="#2889f1"/>
<rect x="1165.87" y="771.01" width="8.98" height="9.14" fill="#2e7cfa"/>
<rect x="1174.55" y="771.01" width="8.98" height="9.14" fill="#3a6efa"/>
<rect x="1183.23" y="771.01" width="8.98" height="9.14" fill="#4462fa"/>
<rect x="1191.92" y="771.01" width="8.98" height="9.14" fill="#4656f4"/>
<rect x="948.80" y="779.84" width="8.98" height="9.14" fill="#465df8"/>
<rect x="957.48" y="779.84" width="8.98" height="9.14" fill="#4363fa"/>
<rect x="966.17" y="779.84" width="8.98" height="9.14" fill="#4165fa"/>
<rect x="974.85" y="779.84" width="8.98" height="9.14" fill="#3f67fa"/>
<rect x="983.53" y="779.84" width="8.98" height="9.14" fill="#3a6efa"/>
<rect x="992.21" y="779.84" width="8.98" height="9.14" fill="#2f7bfa"/>
<rect x="1000.90" y="779.84" width="8.98" height="9.14" fill="#2987f2"/>
<rect x="1009.58" y="779.84" width="8.98" height="9.14" fill="#2492e9"/>
<rect x="1018.26" y="779.84" width="8.98" height="9.14" fill="#1f9ae3"/>
<rect x="1026.94" y="779.84" width="8.98" height="9.14" fill="#1ca0df"/>
<rect x="1035.63" y="779.84" width="8.98" height="9.14" fill="#1ba1de"/>
<rect x="1044.31" y="779.84" width="8.98" height="9.14" fill="#1d9de1"/>
<rect x="1052.99" y="779.84" width="8.98" height="9.14" fill="#2099e5"/>
<rect x="1061.68" y="779.84" width="8.98" height="9.14" fill="#2295e7"/>
<rect x="1070.36" y="779.84" width="8.98" height="9.14" fill="#2394e8"/>
<rect x="1079.04" y="779.84" width="8.98" height="9.14" fill="#2295e7"/>
<rect x="1087.72" y="779.84" width="8.98" height="9.14" fill="#2197e6"/>
<rect x="1096.41" y="779.84" width="8.98" height="9.14" fill="#2099e4"/>
<rect x="1105.09" y="779.84" width="8.98" height="9.14" fill="#1f9be3"/>
<rect x="1113.77" y="779.84" width="8.98" height="9.14" fill="#1f9be2"/>
<rect x="1122.46" y="779.84" width="8.98" height="9.14" fill="#1f9be2"/>
<rect x="1131.14" y="779.84" width="8.98" height="9.14" fill="#1f9be2"/>
<rect x="1139.82" y="779.84" width="8.98" height="9.14" fill="#2098e5"/>
<rect x="1148.50" y="779.84" width="8.98" height="9.14" fill="#2590eb"/>
<rect x="1157.19" y="779.84" width="8.98" height="9.14" fill="#2985f4"/>
<rect x="1165.87" y="779.84" width="8.98" height="9.14" fill="#2f7afa"/>
<rect x="1174.55" y="779.84" width="8.98" height="9.14" fill="#3a6efa"/>
<rect x="1183.23" y="779.84" width="8.98" height="9.14" fill="#4362fa"/>
<rect x="1191.92" y="779.84" width="8.98" height="9.14" fill="#4656f4"/>
<rect x="948.80" y="788.68" width="8.98" height="9.14" fill="#465ffa"/>
<rect x="957.48" y="788.68" width="8.98" height="9.14" fill="#4165fa"/>
<rect x="966.17" y="788.68" width="8.98" height="9.14" fill="#4067fa"/>
<rect x="974.85" y="788.68" width="8.98" height="9.14" fill="#3e68fa"/>
<rect x="983.53" y="788.68" width="8.98" height="9.14" fill="#396efa"/>
<rect x="992.21" y="788.68" width="8.98" height="9.14" fill="#2f7afa"/>
<rect x="1000.90" y="788.68" width="8.98" height="9.14" fill="#2986f3"/>
<rect x="1009.58" y="788.68" width="8.98" height="9.14" fill="#268eed"/>
<rect x="1018.26" y="788.68" width="8.98" height="9.14" fill="#2394e8"/>
<rect x="1026.94" y="788.68" width="8.98" height="9.14" fill="#2198e5"/>
<rect x="1035.63" y="788.68" width="8.98" height="9.14" fill="#209ae4"/>
<rect x="1044.31" y="788.68" width="8.98" height="9.14" fill="#2197e6"/>
<rect x="1052.99" y="788.68" width="8.98" height="9.14" fill="#2394e8"/>
<rect x="1061.68" y="788.68" width="8.98" height="9.14" fill="#2493e9"/>
<rect x="1070.36" y="788.68" width="8.98" height="9.14" fill="#2394e8"/>
<rect x="1079.04" y="788.68" width="8.98" height="9.14" fill="#2197e6"/>
<rect x="1087.72" y="788.68" width="8.98" height="9.14" fill="#209ae4"/>
<rect x="1096.41" y="788.68" width="8.98" height="9.14" fill="#1f9ae3"/>
<rect x="1105.09" y="788.68" width="8.98" height="9.14" fill="#209ae4"/>
<rect x="1113.77" y="788.68" width="8.98" height="9.14" fill="#2197e6"/>
<rect x="1122.46" y="788.68" width="8.98" height="9.14" fill="#2394e8"/>
<rect x="1131.14" y="788.68" width="8.98" height="9.14" fill="#2492ea"/>
<rect x="1139.82" y="788.68" width="8.98" height="9.14" fill="#268eed"/>
<rect x="1148.50" y="788.68" width="8.98" height="9.14" fill="#2888f2"/>
<rect x="1157.19" y="788.68" width="8.98" height="9.14" fill="#2c80f8"/>
<rect x="1165.87" y="788.68" width="8.98" height="9.14" fill="#3277fa"/>
<rect x="1174.55" y="788.68" width="8.98" height="9.14" fill="#3a6efa"/>
<rect x="1183.23" y="788.68" width="8.98" height="9.14" fill="#4165fa"/>
<rect x="1191.92" y="788.68" width="8.98" height="9.14" fill="#465bf7"/>
<rect x="948.80" y="797.52" width="8.98" height="9.14" fill="#4165fa"/>
<rect x="957.48" y="797.52" width="8.98" height="9.14" fill="#3d6afa"/>
<rect x="966.17" y="797.52" width="8.98" height="9.14" fill="#3c6bfa"/>
<rect x="974.85" y="797.52" width="8.98" height="9.14" fill="#3b6dfa"/>
<rect x="983.53" y="797.52" width="8.98" height="9.14" fill="#3771fa"/>
<rect x="992.21" y="797.52" width="8.98" height="9.14" fill="#2e7bfa"/>
<rect x="1000.90" y="797.52" width="8.98" height="9.14" fill="#2a85f4"/>
<rect x="1009.58" y="797.52" width="8.98" height="9.14" fill="#278bef"/>
<rect x="1018.26" y="797.52" width="8.98" height="9.14" fill="#258fec"/>
<rect x="1026.94" y="797.52" width="8.98" height="9.14" fill="#2393e9"/>
<rect x="1035.63" y="797.52" width="8.98" height="9.14" fill="#2295e7"/>
<rect x="1044.31" y="797.52" width="8.98" height="9.14" fill="#2395e7"/>
<rect x="1052.99" y="797.52" width="8.98" height="9.14" fill="#2393e9"/>
<rect x="1061.68" y="797.52" width="8.98" height="9.14" fill="#2492e9"/>
<rect x="1070.36" y="797.52" width="8.98" height="9.14" fill="#2394e8"/>
<rect x="1079.04" y="797.52" width="8.98" height="9.14" fill="#2198e5"/>
<rect x="1087.72" y="797.52" width="8.98" height="9.14" fill="#1f9be2"/>
<rect x="1096.41" y="797.52" width="8.98" height="9.14" fill="#1e9ce2"/>
<rect x="1105.09" y="797.52" width="8.98" height="9.14" fill="#209ae4"/>
<rect x="1113.77" y="797.52" width="8.98" height="9.14" fill="#2394e8"/>
<rect x="1122.46" y="797.52" width="8.98" height="9.14" fill="#258fec"/>
<rect x="1131.14" y="797.52" width="8.98" height="9.14" fill="#278bef"/>
<rect x="1139.82" y="797.52" width="8.98" height="9.14" fill="#2888f1"/>
<rect x="1148.50" y="797.52" width="8.98" height="9.14" fill="#2a83f5"/>
<rect x="1157.19" y="797.52" width="8.98" height="9.14" fill="#2d7dfa"/>
<rect x="1165.87" y="797.52" width="8.98" height="9.14" fill="#3277fa"/>
<rect x="1174.55" y="797.52" width="8.98" height="9.14" fill="#3771fa"/>
<rect x="1183.23" y="797.52" width="8.98" height="9.14" fill="#3b6cfa"/>
<rect x="1191.92" y="797.52" width="8.98" height="9.14" fill="#4165fa"/>
<rect x="948.80" y="806.36" width="8.98" height="9.14" fill="#4067fa"/>
<rect x="957.48" y="806.36" width="8.98" height="9.14" fill="#3c6cfa"/>
<rect x="966.17" y="806.36" width="8.98" height="9.14" fill="#396efa"/>
<rect x="974.85" y="806.36" width="8.98" height="9.14" fill="#3770fa"/>
<rect x="983.53" y="806.36" width="8.98" height="9.14" fill="#3376fa"/>
<rect x="992.21" y="806.36" width="8.98" height="9.14" fill="#2c7ef9"/>
<rect x="1000.90" y="806.36" width="8.98" height="9.14" fill="#2986f3"/>
<rect x="1009.58" y="806.36" width="8.98" height="9.14" fill="#278bef"/>
<rect x="1018.26" y="806.36" width="8.98" height="9.14" fill="#268eec"/>
<rect x="1026.94" y="806.36" width="8.98" height="9.14" fill="#2492ea"/>
<rect x="1035.63" y="806.36" width="8.98" height="9.14" fill="#2394e8"/>
<rect x="1044.31" y="806.36" width="8.98" height="9.14" fill="#2395e8"/>
<rect x="1052.99" y="806.36" width="8.98" height="9.14" fill="#2394e8"/>
<rect x="1061.68" y="806.36" width="8.98" height="9.14" fill="#2393e9"/>
<rect x="1070.36" y="806.36" width="8.98" height="9.14" fill="#2394e8"/>
<rect x="1079.04" y="806.36" width="8.98" height="9.14" fill="#2198e5"/>
<rect x="1087.72" y="806.36" width="8.98" height="9.14" fill="#1e9ce2"/>
<rect x="1096.41" y="806.36" width="8.98" height="9.14" fill="#1e9de1"/>
<rect x="1105.09" y="806.36" width="8.98" height="9.14" fill="#209ae4"/>
<rect x="1113.77" y="806.36" width="8.98" height="9.14" fill="#2492e9"/>
<rect x="1122.46" y="806.36" width="8.98" height="9.14" fill="#278bef"/>
<rect x="1131.14" y="806.36" width="8.98" height="9.14" fill="#2888f1"/>
<rect x="1139.82" y="806.36" width="8.98" height="9.14" fill="#2986f3"/>
<rect x="1148.50" y="806.36" width="8.98" height="9.14" fill="#2b82f6"/>
<rect x="1157.19" y="806.36" width="8.98" height="9.14" fill="#2d7dfa"/>
<rect x="1165.87" y="806.36" width="8.98" height="9.14" fill="#3179fa"/>
<rect x="1174.55" y="806.36" width="8.98" height="9.14" fill="#3376fa"/>
<rect x="1183.23" y="806.36" width="8.98" height="9.14" fill="#3672fa"/>
<rect x="1191.92" y="806.36" width="8.98" height="9.14" fill="#396efa"/>
<rect x="948.80" y="815.20" width="8.98" height="9.14" fill="#4659f5"/>
<rect x="957.48" y="815.20" width="8.98" height="9.14" fill="#4363fa"/>
<rect x="966.17" y="815.20" width="8.98" height="9.14" fill="#3d69fa"/>
<rect x="974.85" y="815.20" width="8.98" height="9.14" fill="#386ffa"/>
<rect x="983.53" y="815.20" width="8.98" height="9.14" fill="#3178fa"/>
<rect x="992.21" y="815.20" width="8.98" height="9.14" fill="#2b82f6"/>
<rect x="1000.90" y="815.20" width="8.98" height="9.14" fill="#278af0"/>
<rect x="1009.58" y="815.20" width="8.98" height="9.14" fill="#258eec"/>
<rect x="1018.26" y="815.20" width="8.98" height="9.14" fill="#2491eb"/>
<rect x="1026.94" y="815.20" width="8.98" height="9.14" fill="#2492e9"/>
<rect x="1035.63" y="815.20" width="8.98" height="9.14" fill="#2394e8"/>
<rect x="1044.31" y="815.20" width="8.98" height="9.14" fill="#2395e8"/>
<rect x="1052.99" y="815.20" width="8.98" height="9.14" fill="#2394e8"/>
<rect x="1061.68" y="815.20" width="8.98" height="9.14" fill="#2393e9"/>
<rect x="1070.36" y="815.20" width="8.98" height="9.14" fill="#2394e8"/>
<rect x="1079.04" y="815.20" width="8.98" height="9.14" fill="#2098e5"/>
<rect x="1087.72" y="815.20" width="8.98" height="9.14" fill="#1e9ce1"/>
<rect x="1096.41" y="815.20" width="8.98" height="9.14" fill="#1e9ce2"/>
<rect x="1105.09" y="815.20" width="8.98" height="9.14" fill="#2197e6"/>
<rect x="1113.77" y="815.20" width="8.98" height="9.14" fill="#2590ec"/>
<rect x="1122.46" y="815.20" width="8.98" height="9.14" fill="#2889f1"/>
<rect x="1131.14" y="815.20" width="8.98" height="9.14" fill="#2985f3"/>
<rect x="1139.82" y="815.20" width="8.98" height="9.14" fill="#2a83f5"/>
<rect x="1148.50" y="815.20" width="8.98" height="9.14" fill="#2c80f8"/>
<rect x="1157.19" y="815.20" width="8.98" height="9.14" fill="#2e7cfa"/>
<rect x="1165.87" y="815.20" width="8.98" height="9.14" fill="#3178fa"/>
<rect x="1174.55" y="815.20" width="8.98" height="9.14" fill="#3376fa"/>
<rect x="1183.23" y="815.20" width="8.98" height="9.14" fill="#3573fa"/>
<rect x="1191.92" y="815.20" width="8.98" height="9.14" fill="#386ffa"/>
<rect x="948.80" y="824.03" width="8.98" height="9.14" fill="#4745e7"/>
<rect x="957.48" y="824.03" width="8.98" height="9.14" fill="#4653f2"/>
<rect x="966.17" y="824.03" width="8.98" height="9.14" fill="#465ffa"/>
<rect x="974.85" y="824.03" width="8.98" height="9.14" fill="#3e69fa"/>
<rect x="983.53" y="824.03" width="8.98" height="9.14" fill="#3376fa"/>
<rect x="992.21" y="824.03" width="8.98" height="9.14" fill="#2a84f5"/>
<rect x="1000.90" y="824.03" width="8.98" height="9.14" fill="#268eed"/>
<rect x="1009.58" y="824.03" width="8.98" height="9.14" fill="#2393e9"/>
<rect x="1018.26" y="824.03" width="8.98" height="9.14" fill="#2394e8"/>
<rect x="1026.94" y="824.03" width="8.98" height="9.14" fill="#2394e8"/>
<rect x="1035.63" y="824.03" width="8.98" height="9.14" fill="#2394e8"/>
<rect x="1044.31" y="824.03" width="8.98" height="9.14" fill="#2394e8"/>
<rect x="1052.99" y="824.03" width="8.98" height="9.14" fill="#2394e8"/>
<rect x="1061.68" y="824.03" width="8.98" height="9.14" fill="#2393e9"/>
<rect x="1070.36" y="824.03" width="8.98" height="9.14" fill="#2394e8"/>
<rect x="1079.04" y="824.03" width="8.98" height="9.14" fill="#2099e4"/>
<rect x="1087.72" y="824.03" width="8.98" height="9.14" fill="#1e9ce2"/>
<rect x="1096.41" y="824.03" width="8.98" height="9.14" fill="#1f9ae3"/>
<rect x="1105.09" y="824.03" width="8.98" height="9.14" fill="#2394e8"/>
<rect x="1113.77" y="824.03" width="8.98" height="9.14" fill="#268cee"/>
<rect x="1122.46" y="824.03" width="8.98" height="9.14" fill="#2986f3"/>
<rect x="1131.14" y="824.03" width="8.98" height="9.14" fill="#2b82f6"/>
<rect x="1139.82" y="824.03" width="8.98" height="9.14" fill="#2c80f8"/>
<rect x="1148.50" y="824.03" width="8.98" height="9.14" fill="#2e7bfa"/>
<rect x="1157.19" y="824.03" width="8.98" height="9.14" fill="#3376fa"/>
<rect x="1165.87" y="824.03" width="8.98" height="9.14" fill="#3771fa"/>
<rect x="1174.55" y="824.03" width="8.98" height="9.14" fill="#3a6efa"/>
<rect x="1183.23" y="824.03" width="8.98" height="9.14" fill="#3c6bfa"/>
<rect x="1191.92" y="824.03" width="8.98" height="9.14" fill="#4066fa"/>
<rect x="948.80" y="832.87" width="8.98" height="9.14" fill="#463adc"/>
<rect x="957.48" y="832.87" width="8.98" height="9.14" fill="#4745e8"/>
<rect x="966.17" y="832.87" width="8.98" height="9.14" fill="#4651f0"/>
<rect x="974.85" y="832.87" width="8.98" height="9.14" fill="#465ef9"/>
<rect x="983.53" y="832.87" width="8.98" height="9.14" fill="#396efa"/>
<rect x="992.21" y="832.87" width="8.98" height="9.14" fill="#2b82f6"/>
<rect x="1000.90" y="832.87" width="8.98" height="9.14" fill="#2590eb"/>
<rect x="1009.58" y="832.87" width="8.98" height="9.14" fill="#2295e7"/>
<rect x="1018.26" y="832.87" width="8.98" height="9.14" fill="#2295e7"/>
<rect x="1026.94" y="832.87" width="8.98" height="9.14" fill="#2394e8"/>
<rect x="1035.63" y="832.87" width="8.98" height="9.14" fill="#2394e8"/>
<rect x="1044.31" y="832.87" width="8.98" height="9.14" fill="#2394e8"/>
<rect x="1052.99" y="832.87" width="8.98" height="9.14" fill="#2394e8"/>
<rect x="1061.68" y="832.87" width="8.98" height="9.14" fill="#2393e9"/>
<rect x="1070.36" y="832.87" width="8.98" height="9.14" fill="#2394e8"/>
<rect x="1079.04" y="832.87" width="8.98" height="9.14" fill="#2098e5"/>
<rect x="1087.72" y="832.87" width="8.98" height="9.14" fill="#1e9ce2"/>
<rect x="1096.41" y="832.87" width="8.98" height="9.14" fill="#2099e4"/>
<rect x="1105.09" y="832.87" width="8.98" height="9.14" fill="#2491ea"/>
<rect x="1113.77" y="832.87" width="8.98" height="9.14" fill="#2889f1"/>
<rect x="1122.46" y="832.87" width="8.98" height="9.14" fill="#2b82f6"/>
<rect x="1131.14" y="832.87" width="8.98" height="9.14" fill="#2d7ef9"/>
<rect x="1139.82" y="832.87" width="8.98" height="9.14" fill="#3079fa"/>
<rect x="1148.50" y="832.87" width="8.98" height="9.14" fill="#3771fa"/>
<rect x="1157.19" y="832.87" width="8.98" height="9.14" fill="#3f68fa"/>
<rect x="1165.87" y="832.87" width="8.98" height="9.14" fill="#4561fa"/>
<rect x="1174.55" y="832.87" width="8.98" height="9.14" fill="#465bf7"/>
<rect x="1183.23" y="832.87" width="8.98" height="9.14" fill="#4657f4"/>
<rect x="1191.92" y="832.87" width="8.98" height="9.14" fill="#4652f1"/>
<rect x="948.80" y="841.71" width="8.98" height="9.14" fill="#4536d3"/>
<rect x="957.48" y="841.71" width="8.98" height="9.14" fill="#473ce0"/>
<rect x="966.17" y="841.71" width="8.98" height="9.14" fill="#4745e7"/>
<rect x="974.85" y="841.71" width="8.98" height="9.14" fill="#4653f1"/>
<rect x="983.53" y="841.71" width="8.98" height="9.14" fill="#4066fa"/>
<rect x="992.21" y="841.71" width="8.98" height="9.14" fill="#2c7ef9"/>
<rect x="1000.90" y="841.71" width="8.98" height="9.14" fill="#268eec"/>
<rect x="1009.58" y="841.71" width="8.98" height="9.14" fill="#2394e8"/>
<rect x="1018.26" y="841.71" width="8.98" height="9.14" fill="#2394e8"/>
<rect x="1026.94" y="841.71" width="8.98" height="9.14" fill="#2394e8"/>
<rect x="1035.63" y="841.71" width="8.98" height="9.14" fill="#2394e8"/>
<rect x="1044.31" y="841.71" width="8.98" height="9.14" fill="#2394e8"/>
<rect x="1052.99" y="841.71" width="8.98" height="9.14" fill="#2394e8"/>
<rect x="1061.68" y="841.71" width="8.98" height="9.14" fill="#2393e9"/>
<rect x="1070.36" y="841.71" width="8.98" height="9.14" fill="#2394e8"/>
<rect x="1079.04" y="841.71" width="8.98" height="9.14" fill="#2197e5"/>
<rect x="1087.72" y="841.71" width="8.98" height="9.14" fill="#209ae4"/>
<rect x="1096.41" y="841.71" width="8.98" height="9.14" fill="#2296e6"/>
<rect x="1105.09" y="841.71" width="8.98" height="9.14" fill="#268eed"/>
<rect x="1113.77" y="841.71" width="8.98" height="9.14" fill="#2985f4"/>
<rect x="1122.46" y="841.71" width="8.98" height="9.14" fill="#2d7dfa"/>
<rect x="1131.14" y="841.71" width="8.98" height="9.14" fill="#3376fa"/>
<rect x="1139.82" y="841.71" width="8.98" height="9.14" fill="#3a6efa"/>
<rect x="1148.50" y="841.71" width="8.98" height="9.14" fill="#4363fa"/>
<rect x="1157.19" y="841.71" width="8.98" height="9.14" fill="#4656f4"/>
<rect x="1165.87" y="841.71" width="8.98" height="9.14" fill="#474cec"/>
<rect x="1174.55" y="841.71" width="8.98" height="9.14" fill="#4745e7"/>
<rect x="1183.23" y="841.71" width="8.98" height="9.14" fill="#4740e4"/>
<rect x="1191.92" y="841.71" width="8.98" height="9.14" fill="#473ce1"/>
<rect x="948.80" y="850.55" width="8.98" height="9.14" fill="#4434cb"/>
<rect x="957.48" y="850.55" width="8.98" height="9.14" fill="#4538d6"/>
<rect x="966.17" y="850.55" width="8.98" height="9.14" fill="#473fe3"/>
<rect x="974.85" y="850.55" width="8.98" height="9.14" fill="#474ded"/>
<rect x="983.53" y="850.55" width="8.98" height="9.14" fill="#4462fa"/>
<rect x="992.21" y="850.55" width="8.98" height="9.14" fill="#3079fa"/>
<rect x="1000.90" y="850.55" width="8.98" height="9.14" fill="#2889f1"/>
<rect x="1009.58" y="850.55" width="8.98" height="9.14" fill="#2590eb"/>
<rect x="1018.26" y="850.55" width="8.98" height="9.14" fill="#2491ea"/>
<rect x="1026.94" y="850.55" width="8.98" height="9.14" fill="#2393e9"/>
<rect x="1035.63" y="850.55" width="8.98" height="9.14" fill="#2394e8"/>
<rect x="1044.31" y="850.55" width="8.98" height="9.14" fill="#2395e8"/>
<rect x="1052.99" y="850.55" width="8.98" height="9.14" fill="#2394e8"/>
<rect x="1061.68" y="850.55" width="8.98" height="9.14" fill="#2394e8"/>
<rect x="1070.36" y="850.55" width="8.98" height="9.14" fill="#2394e8"/>
<rect x="1079.04" y="850.55" width="8.98" height="9.14" fill="#2295e7"/>
<rect x="1087.72" y="850.55" width="8.98" height="9.14" fill="#2395e8"/>
<rect x="1096.41" y="850.55" width="8.98" height="9.14" fill="#2590eb"/>
<rect x="1105.09" y="850.55" width="8.98" height="9.14" fill="#2889f1"/>
<rect x="1113.77" y="850.55" width="8.98" height="9.14" fill="#2c80f7"/>
<rect x="1122.46" y="850.55" width="8.98" height="9.14" fill="#3376fa"/>
<rect x="1131.14" y="850.55" width="8.98" height="9.14" fill="#3d6afa"/>
<rect x="1139.82" y="850.55" width="8.98" height="9.14" fill="#465ffa"/>
<rect x="1148.50" y="850.55" width="8.98" height="9.14" fill="#4652f1"/>
<rect x="1157.19" y="850.55" width="8.98" height="9.14" fill="#4747e9"/>
<rect x="1165.87" y="850.55" width="8.98" height="9.14" fill="#473fe3"/>
<rect x="1174.55" y="850.55" width="8.98" height="9.14" fill="#463adb"/>
<rect x="1183.23" y="850.55" width="8.98" height="9.14" fill="#4536d3"/>
<rect x="1191.92" y="850.55" width="8.98" height="9.14" fill="#4333ca"/>
<rect x="948.80" y="859.39" width="8.98" height="9.14" fill="#4231c4"/>
<rect x="957.48" y="859.39" width="8.98" height="9.14" fill="#4435cf"/>
<rect x="966.17" y="859.39" width="8.98" height="9.14" fill="#473ce1"/>
<rect x="974.85" y="859.39" width="8.98" height="9.14" fill="#474bec"/>
<rect x="983.53" y="859.39" width="8.98" height="9.14" fill="#465ffa"/>
<rect x="992.21" y="859.39" width="8.98" height="9.14" fill="#3573fa"/>
<rect x="1000.90" y="859.39" width="8.98" height="9.14" fill="#2a83f5"/>
<rect x="1009.58" y="859.39" width="8.98" height="9.14" fill="#278af0"/>
<rect x="1018.26" y="859.39" width="8.98" height="9.14" fill="#268eec"/>
<rect x="1026.94" y="859.39" width="8.98" height="9.14" fill="#2492ea"/>
<rect x="1035.63" y="859.39" width="8.98" height="9.14" fill="#2394e8"/>
<rect x="1044.31" y="859.39" width="8.98" height="9.14" fill="#2394e8"/>
<rect x="1052.99" y="859.39" width="8.98" height="9.14" fill="#2394e8"/>
<rect x="1061.68" y="859.39" width="8.98" height="9.14" fill="#2394e8"/>
<rect x="1070.36" y="859.39" width="8.98" height="9.14" fill="#2394e8"/>
<rect x="1079.04" y="859.39" width="8.98" height="9.14" fill="#2492ea"/>
<rect x="1087.72" y="859.39" width="8.98" height="9.14" fill="#258eec"/>
<rect x="1096.41" y="859.39" width="8.98" height="9.14" fill="#2889f1"/>
<rect x="1105.09" y="859.39" width="8.98" height="9.14" fill="#2a83f5"/>
<rect x="1113.77" y="859.39" width="8.98" height="9.14" fill="#2f7bfa"/>
<rect x="1122.46" y="859.39" width="8.98" height="9.14" fill="#3a6efa"/>
<rect x="1131.14" y="859.39" width="8.98" height="9.14" fill="#465efa"/>
<rect x="1139.82" y="859.39" width="8.98" height="9.14" fill="#464eee"/>
<rect x="1148.50" y="859.39" width="8.98" height="9.14" fill="#4742e6"/>
<rect x="1157.19" y="859.39" width="8.98" height="9.14" fill="#473ce1"/>
<rect x="1165.87" y="859.39" width="8.98" height="9.14" fill="#4639da"/>
<rect x="1174.55" y="859.39" width="8.98" height="9.14" fill="#4536d3"/>
<rect x="1183.23" y="859.39" width="8.98" height="9.14" fill="#4333ca"/>
<rect x="1191.92" y="859.39" width="8.98" height="9.14" fill="#412ebd"/>
<rect x="948.80" y="868.22" width="8.98" height="9.14" fill="#412ebe"/>
<rect x="957.48" y="868.22" width="8.98" height="9.14" fill="#4333ca"/>
<rect x="966.17" y="868.22" width="8.98" height="9.14" fill="#463add"/>
<rect x="974.85" y="868.22" width="8.98" height="9.14" fill="#4749ea"/>
<rect x="983.53" y="868.22" width="8.98" height="9.14" fill="#465cf8"/>
<rect x="992.21" y="868.22" width="8.98" height="9.14" fill="#396efa"/>
<rect x="1000.90" y="868.22" width="8.98" height="9.14" fill="#2d7ef9"/>
<rect x="1009.58" y="868.22" width="8.98" height="9.14" fill="#2986f3"/>
<rect x="1018.26" y="868.22" width="8.98" height="9.14" fill="#278bef"/>
<rect x="1026.94" y="868.22" width="8.98" height="9.14" fill="#258fec"/>
<rect x="1035.63" y="868.22" width="8.98" height="9.14" fill="#2492e9"/>
<rect x="1044.31" y="868.22" width="8.98" height="9.14" fill="#2493e9"/>
<rect x="1052.99" y="868.22" width="8.98" height="9.14" fill="#2492e9"/>
<rect x="1061.68" y="868.22" width="8.98" height="9.14" fill="#2493e9"/>
<rect x="1070.36" y="868.22" width="8.98" height="9.14" fill="#2492e9"/>
<rect x="1079.04" y="868.22" width="8.98" height="9.14" fill="#258fec"/>
<rect x="1087.72" y="868.22" width="8.98" height="9.14" fill="#2889f0"/>
<rect x="1096.41" y="868.22" width="8.98" height="9.14" fill="#2a84f4"/>
<rect x="1105.09" y="868.22" width="8.98" height="9.14" fill="#2d7ef9"/>
<rect x="1113.77" y="868.22" width="8.98" height="9.14" fill="#3474fa"/>
<rect x="1122.46" y="868.22" width="8.98" height="9.14" fill="#4066fa"/>
<rect x="1131.14" y="868.22" width="8.98" height="9.14" fill="#4653f1"/>
<rect x="1139.82" y="868.22" width="8.98" height="9.14" fill="#4740e4"/>
<rect x="1148.50" y="868.22" width="8.98" height="9.14" fill="#4639d8"/>
<rect x="1157.19" y="868.22" width="8.98" height="9.14" fill="#4536d2"/>
<rect x="1165.87" y="868.22" width="8.98" height="9.14" fill="#4435cf"/>
<rect x="1174.55" y="868.22" width="8.98" height="9.14" fill="#4333ca"/>
<rect x="1183.23" y="868.22" width="8.98" height="9.14" fill="#4230c3"/>
<rect x="1191.92" y="868.22" width="8.98" height="9.14" fill="#402cb7"/>
<rect x="948.80" y="877.06" width="8.98" height="9.14" fill="#402cb6"/>
<rect x="957.48" y="877.06" width="8.98" height="9.14" fill="#4230c1"/>
<rect x="966.17" y="877.06" width="8.98" height="9.14" fill="#4536d3"/>
<rect x="974.85" y="877.06" width="8.98" height="9.14" fill="#4742e6"/>
<rect x="983.53" y="877.06" width="8.98" height="9.14" fill="#4656f4"/>
<rect x="992.21" y="877.06" width="8.98" height="9.14" fill="#3c6cfa"/>
<rect x="1000.90" y="877.06" width="8.98" height="9.14" fill="#2d7dfa"/>
<rect x="1009.58" y="877.06" width="8.98" height="9.14" fill="#2a85f4"/>
<rect x="1018.26" y="877.06" width="8.98" height="9.14" fill="#2889f1"/>
<rect x="1026.94" y="877.06" width="8.98" height="9.14" fill="#278cee"/>
<rect x="1035.63" y="877.06" width="8.98" height="9.14" fill="#268eec"/>
<rect x="1044.31" y="877.06" width="8.98" height="9.14" fill="#258fec"/>
<rect x="1052.99" y="877.06" width="8.98" height="9.14" fill="#258eec"/>
<rect x="1061.68" y="877.06" width="8.98" height="9.14" fill="#258fec"/>
<rect x="1070.36" y="877.06" width="8.98" height="9.14" fill="#268eed"/>
<rect x="1079.04" y="877.06" width="8.98" height="9.14" fill="#268cee"/>
<rect x="1087.72" y="877.06" width="8.98" height="9.14" fill="#2889f1"/>
<rect x="1096.41" y="877.06" width="8.98" height="9.14" fill="#2a84f5"/>
<rect x="1105.09" y="877.06" width="8.98" height="9.14" fill="#2d7dfa"/>
<rect x="1113.77" y="877.06" width="8.98" height="9.14" fill="#386ffa"/>
<rect x="1122.46" y="877.06" width="8.98" height="9.14" fill="#465ffa"/>
<rect x="1131.14" y="877.06" width="8.98" height="9.14" fill="#474cec"/>
<rect x="1139.82" y="877.06" width="8.98" height="9.14" fill="#473ce1"/>
<rect x="1148.50" y="877.06" width="8.98" height="9.14" fill="#4435d0"/>
<rect x="1157.19" y="877.06" width="8.98" height="9.14" fill="#4231c4"/>
<rect x="1165.87" y="877.06" width="8.98" height="9.14" fill="#412ebc"/>
<rect x="1174.55" y="877.06" width="8.98" height="9.14" fill="#402cb6"/>
<rect x="1183.23" y="877.06" width="8.98" height="9.14" fill="#402ab2"/>
<rect x="1191.92" y="877.06" width="8.98" height="9.14" fill="#3f29af"/>
</g>
<rect x="1217.1" y="629.7" width="16.1" height="256.1" fill="url(#cbar)"/>
<text x="1234.10" y="639.00" font-size="27" fill="#000" textLength="54.45" lengthAdjust="spacingAndGlyphs">1.25</text>
<text x="1235.10" y="891.30" font-size="27" fill="#000" textLength="54.41" lengthAdjust="spacingAndGlyphs">1.00</text>
<text transform="translate(1322.20,617.80) rotate(90)" font-size="29.5" fill="#000" textLength="265.13" lengthAdjust="spacingAndGlyphs">Relative enrichment</text>
<text transform="translate(1286.60,690.40) rotate(90)" font-size="30.5" fill="#000" textLength="120.41" lengthAdjust="spacingAndGlyphs">of Dorsal</text>
<text x="209.64" y="938.70" font-size="36" fill="#000" textLength="122.07" lengthAdjust="spacingAndGlyphs">n = 839</text>
<text x="854.64" y="939.20" font-size="36" fill="#000" textLength="122.05" lengthAdjust="spacingAndGlyphs">n = 852</text>
<text x="223.17" y="1081.60" font-size="38" fill="#000" textLength="137.07" lengthAdjust="spacingAndGlyphs">Outward</text>
<text x="860.64" y="1081.60" font-size="37.5" fill="#000" textLength="108.56" lengthAdjust="spacingAndGlyphs">Inward</text>
<rect x="123" y="1108.5" width="300" height="5.6" fill="#231815"/>
<rect x="759" y="1116.1" width="299.9" height="5.7" fill="#231815"/>
<g stroke="#231815" stroke-width="1.3" fill="none">
<line x1="125.8" y1="1167.5" x2="125.8" y2="1597.5"/>
<line x1="110.8" y1="1586" x2="429.3" y2="1586"/>
<line x1="110.8" y1="1167.5" x2="125.8" y2="1167.5"/>
<line x1="110.8" y1="1251.2" x2="125.8" y2="1251.2"/>
<line x1="110.8" y1="1334.9" x2="125.8" y2="1334.9"/>
<line x1="110.8" y1="1418.6" x2="125.8" y2="1418.6"/>
<line x1="110.8" y1="1502.3" x2="125.8" y2="1502.3"/>
<line x1="110.8" y1="1586.0" x2="125.8" y2="1586.0"/>
<line x1="168.6" y1="1586" x2="168.6" y2="1597.5"/>
<line x1="211.4" y1="1586" x2="211.4" y2="1597.5"/>
<line x1="254.2" y1="1586" x2="254.2" y2="1597.5"/>
<line x1="297.0" y1="1586" x2="297.0" y2="1597.5"/>
<line x1="339.8" y1="1586" x2="339.8" y2="1597.5"/>
<line x1="382.6" y1="1586" x2="382.6" y2="1597.5"/>
<line x1="425.4" y1="1586" x2="425.4" y2="1597.5"/>
</g>
<text x="65.71" y="1180.30" font-size="27" fill="#000" textLength="38.71" lengthAdjust="spacingAndGlyphs">1.25</text>
<text x="65.71" y="1263.10" font-size="27" fill="#000" textLength="38.61" lengthAdjust="spacingAndGlyphs">1.20</text>
<text x="65.71" y="1345.90" font-size="27" fill="#000" textLength="38.71" lengthAdjust="spacingAndGlyphs">1.15</text>
<text x="65.71" y="1428.70" font-size="27" fill="#000" textLength="38.61" lengthAdjust="spacingAndGlyphs">1.10</text>
<text x="65.71" y="1511.50" font-size="27" fill="#000" textLength="38.71" lengthAdjust="spacingAndGlyphs">1.05</text>
<text x="65.71" y="1594.30" font-size="27" fill="#000" textLength="38.61" lengthAdjust="spacingAndGlyphs">1.00</text>
<text x="119.73" y="1631.80" font-size="27" fill="#000" textLength="12.05" lengthAdjust="spacingAndGlyphs">0</text>
<text x="151.33" y="1631.80" font-size="27" fill="#000" textLength="33.80" lengthAdjust="spacingAndGlyphs">100</text>
<text x="194.65" y="1631.80" font-size="27" fill="#000" textLength="33.26" lengthAdjust="spacingAndGlyphs">200</text>
<text x="237.66" y="1631.80" font-size="27" fill="#000" textLength="33.06" lengthAdjust="spacingAndGlyphs">300</text>
<text x="280.86" y="1631.80" font-size="27" fill="#000" textLength="32.64" lengthAdjust="spacingAndGlyphs">400</text>
<text x="323.26" y="1631.80" font-size="27" fill="#000" textLength="33.06" lengthAdjust="spacingAndGlyphs">500</text>
<text x="365.85" y="1631.80" font-size="27" fill="#000" textLength="33.26" lengthAdjust="spacingAndGlyphs">600</text>
<text x="408.65" y="1631.80" font-size="27" fill="#000" textLength="33.26" lengthAdjust="spacingAndGlyphs">700</text>
<g stroke="#2e8b57" stroke-width="1.5">
<line x1="125.8" y1="1170.0" x2="125.8" y2="1220.0"/>
<line x1="140.9" y1="1174.0" x2="140.9" y2="1222.1"/>
<line x1="156.1" y1="1181.3" x2="156.1" y2="1227.5"/>
<line x1="171.2" y1="1189.6" x2="171.2" y2="1234.0"/>
<line x1="186.3" y1="1204.2" x2="186.3" y2="1246.6"/>
<line x1="201.4" y1="1223.5" x2="201.4" y2="1264.0"/>
<line x1="216.6" y1="1246.3" x2="216.6" y2="1284.9"/>
<line x1="231.7" y1="1273.5" x2="231.7" y2="1310.1"/>
<line x1="246.8" y1="1298.2" x2="246.8" y2="1333.0"/>
<line x1="262.0" y1="1326.1" x2="262.0" y2="1359.0"/>
<line x1="277.1" y1="1349.7" x2="277.1" y2="1380.7"/>
<line x1="292.2" y1="1370.5" x2="292.2" y2="1399.6"/>
<line x1="307.4" y1="1389.5" x2="307.4" y2="1416.7"/>
<line x1="322.5" y1="1406.8" x2="322.5" y2="1432.2"/>
<line x1="337.6" y1="1427.3" x2="337.6" y2="1450.7"/>
<line x1="352.8" y1="1448.5" x2="352.8" y2="1470.0"/>
<line x1="367.9" y1="1474.1" x2="367.9" y2="1493.7"/>
<line x1="383.0" y1="1500.8" x2="383.0" y2="1518.4"/>
<line x1="398.1" y1="1534.5" x2="398.1" y2="1550.3"/>
<line x1="413.3" y1="1564.0" x2="413.3" y2="1578.0"/>
</g>
<path d="M125.8,1195.0 C128.3,1195.5 135.9,1196.5 140.9,1198.1 C146.0,1199.7 151.0,1202.1 156.1,1204.4 C161.1,1206.7 166.1,1208.3 171.2,1211.8 C176.2,1215.3 181.3,1220.1 186.3,1225.4 C191.4,1230.7 196.4,1237.1 201.4,1243.8 C206.5,1250.5 211.5,1257.6 216.6,1265.6 C221.6,1273.6 226.7,1283.5 231.7,1291.8 C236.8,1300.1 241.8,1307.1 246.8,1315.6 C251.9,1324.1 256.9,1334.3 262.0,1342.6 C267.0,1350.9 272.1,1358.1 277.1,1365.2 C282.1,1372.3 287.2,1378.8 292.2,1385.1 C297.3,1391.4 302.3,1397.4 307.4,1403.1 C312.4,1408.8 317.4,1413.5 322.5,1419.5 C327.5,1425.5 332.6,1432.4 337.6,1439.0 C342.7,1445.6 347.7,1451.8 352.8,1459.3 C357.8,1466.8 362.8,1475.5 367.9,1483.9 C372.9,1492.3 378.0,1499.8 383.0,1509.6 C388.1,1519.3 393.1,1532.2 398.1,1542.4 C403.2,1552.6 408.2,1563.8 413.3,1571.0 C418.3,1578.2 425.9,1583.0 428.4,1585.4" fill="none" stroke="#22a83a" stroke-width="3"/>
<g fill="#1f7a45">
<circle cx="125.8" cy="1195.0" r="3"/>
<circle cx="140.9" cy="1198.1" r="3"/>
<circle cx="156.1" cy="1204.4" r="3"/>
<circle cx="171.2" cy="1211.8" r="3"/>
<circle cx="186.3" cy="1225.4" r="3"/>
<circle cx="201.4" cy="1243.8" r="3"/>
<circle cx="216.6" cy="1265.6" r="3"/>
<circle cx="231.7" cy="1291.8" r="3"/>
<circle cx="246.8" cy="1315.6" r="3"/>
<circle cx="262.0" cy="1342.6" r="3"/>
<circle cx="277.1" cy="1365.2" r="3"/>
<circle cx="292.2" cy="1385.1" r="3"/>
<circle cx="307.4" cy="1403.1" r="3"/>
<circle cx="322.5" cy="1419.5" r="3"/>
<circle cx="337.6" cy="1439.0" r="3"/>
<circle cx="352.8" cy="1459.3" r="3"/>
<circle cx="367.9" cy="1483.9" r="3"/>
<circle cx="383.0" cy="1509.6" r="3"/>
<circle cx="398.1" cy="1542.4" r="3"/>
<circle cx="413.3" cy="1571.0" r="3"/>
<circle cx="428.4" cy="1585.4" r="3"/>
</g>
<g stroke="#666666" stroke-width="1.5">
<line x1="125.8" y1="1396.4" x2="125.8" y2="1446.4"/>
<line x1="140.9" y1="1399.6" x2="140.9" y2="1448.0"/>
<line x1="156.1" y1="1404.3" x2="156.1" y2="1451.1"/>
<line x1="171.2" y1="1409.4" x2="171.2" y2="1454.6"/>
<line x1="186.3" y1="1416.4" x2="186.3" y2="1460.0"/>
<line x1="201.4" y1="1421.1" x2="201.4" y2="1463.1"/>
<line x1="216.6" y1="1423.1" x2="216.6" y2="1463.5"/>
<line x1="231.7" y1="1423.9" x2="231.7" y2="1462.7"/>
<line x1="246.8" y1="1425.8" x2="246.8" y2="1463.0"/>
<line x1="262.0" y1="1431.3" x2="262.0" y2="1466.9"/>
<line x1="277.1" y1="1439.5" x2="277.1" y2="1473.5"/>
<line x1="292.2" y1="1448.2" x2="292.2" y2="1480.6"/>
<line x1="307.4" y1="1457.9" x2="307.4" y2="1488.7"/>
<line x1="322.5" y1="1468.9" x2="322.5" y2="1498.1"/>
<line x1="337.6" y1="1480.6" x2="337.6" y2="1508.2"/>
<line x1="352.8" y1="1494.3" x2="352.8" y2="1520.3"/>
<line x1="367.9" y1="1516.6" x2="367.9" y2="1541.0"/>
<line x1="383.0" y1="1536.1" x2="383.0" y2="1558.9"/>
<line x1="398.1" y1="1557.2" x2="398.1" y2="1578.4"/>
<line x1="413.3" y1="1572.1" x2="413.3" y2="1591.7"/>
</g>
<path d="M125.8,1421.4 C128.3,1421.8 135.9,1422.8 140.9,1423.8 C146.0,1424.8 151.0,1426.3 156.1,1427.7 C161.1,1429.1 166.1,1430.2 171.2,1432.0 C176.2,1433.8 181.3,1436.5 186.3,1438.2 C191.4,1439.9 196.4,1441.2 201.4,1442.1 C206.5,1442.9 211.5,1443.1 216.6,1443.3 C221.6,1443.5 226.7,1443.1 231.7,1443.3 C236.8,1443.5 241.8,1443.4 246.8,1444.4 C251.9,1445.4 256.9,1447.1 262.0,1449.1 C267.0,1451.1 272.1,1454.0 277.1,1456.5 C282.1,1459.0 287.2,1461.6 292.2,1464.4 C297.3,1467.2 302.3,1470.1 307.4,1473.3 C312.4,1476.5 317.4,1480.0 322.5,1483.5 C327.5,1487.0 332.6,1490.4 337.6,1494.4 C342.7,1498.4 347.7,1501.6 352.8,1507.3 C357.8,1513.0 362.8,1522.1 367.9,1528.8 C372.9,1535.5 378.0,1541.0 383.0,1547.5 C388.1,1554.0 393.1,1562.1 398.1,1567.8 C403.2,1573.5 408.2,1579.0 413.3,1581.9 C418.3,1584.8 425.9,1584.8 428.4,1585.4" fill="none" stroke="#555555" stroke-width="3"/>
<g fill="#444444">
<circle cx="125.8" cy="1421.4" r="3"/>
<circle cx="140.9" cy="1423.8" r="3"/>
<circle cx="156.1" cy="1427.7" r="3"/>
<circle cx="171.2" cy="1432.0" r="3"/>
<circle cx="186.3" cy="1438.2" r="3"/>
<circle cx="201.4" cy="1442.1" r="3"/>
<circle cx="216.6" cy="1443.3" r="3"/>
<circle cx="231.7" cy="1443.3" r="3"/>
<circle cx="246.8" cy="1444.4" r="3"/>
<circle cx="262.0" cy="1449.1" r="3"/>
<circle cx="277.1" cy="1456.5" r="3"/>
<circle cx="292.2" cy="1464.4" r="3"/>
<circle cx="307.4" cy="1473.3" r="3"/>
<circle cx="322.5" cy="1483.5" r="3"/>
<circle cx="337.6" cy="1494.4" r="3"/>
<circle cx="352.8" cy="1507.3" r="3"/>
<circle cx="367.9" cy="1528.8" r="3"/>
<circle cx="383.0" cy="1547.5" r="3"/>
<circle cx="398.1" cy="1567.8" r="3"/>
<circle cx="413.3" cy="1581.9" r="3"/>
<circle cx="428.4" cy="1585.4" r="3"/>
</g>
<line x1="278.2" y1="1171" x2="310.7" y2="1171" stroke="#0f9a45" stroke-width="3.4"/>
<line x1="278.9" y1="1210.3" x2="311.59999999999997" y2="1210.3" stroke="#707070" stroke-width="3.2"/>
<text x="325.15" y="1180.80" font-size="31" fill="#0f9a45" textLength="170.81" lengthAdjust="spacingAndGlyphs">Transcription site</text>
<text x="325.10" y="1223.20" font-size="31" fill="#000" textLength="126.29" lengthAdjust="spacingAndGlyphs">Random site</text>
<text transform="translate(27.60,1594.36) rotate(-90)" font-size="33" fill="#231815" textLength="435.68" lengthAdjust="spacingAndGlyphs">Relative enrichment of Dorsal</text>
<text x="206.29" y="1690.90" font-size="34" fill="#000" textLength="177.60" lengthAdjust="spacingAndGlyphs">Radius (nm)</text>
<g stroke="#231815" stroke-width="1.3" fill="none">
<line x1="760" y1="1167.3" x2="760" y2="1596.9"/>
<line x1="745" y1="1585.4" x2="1063.5" y2="1585.4"/>
<line x1="745" y1="1167.3" x2="760" y2="1167.3"/>
<line x1="745" y1="1250.9" x2="760" y2="1250.9"/>
<line x1="745" y1="1334.5" x2="760" y2="1334.5"/>
<line x1="745" y1="1418.2" x2="760" y2="1418.2"/>
<line x1="745" y1="1501.8" x2="760" y2="1501.8"/>
<line x1="745" y1="1585.4" x2="760" y2="1585.4"/>
<line x1="802.8" y1="1585.4" x2="802.8" y2="1596.9"/>
<line x1="845.6" y1="1585.4" x2="845.6" y2="1596.9"/>
<line x1="888.4" y1="1585.4" x2="888.4" y2="1596.9"/>
<line x1="931.2" y1="1585.4" x2="931.2" y2="1596.9"/>
<line x1="974.0" y1="1585.4" x2="974.0" y2="1596.9"/>
<line x1="1016.8" y1="1585.4" x2="1016.8" y2="1596.9"/>
<line x1="1059.6" y1="1585.4" x2="1059.6" y2="1596.9"/>
</g>
<text x="699.91" y="1180.10" font-size="27" fill="#000" textLength="38.71" lengthAdjust="spacingAndGlyphs">1.25</text>
<text x="699.91" y="1262.82" font-size="27" fill="#000" textLength="38.61" lengthAdjust="spacingAndGlyphs">1.20</text>
<text x="699.91" y="1345.54" font-size="27" fill="#000" textLength="38.71" lengthAdjust="spacingAndGlyphs">1.15</text>
<text x="699.91" y="1428.26" font-size="27" fill="#000" textLength="38.61" lengthAdjust="spacingAndGlyphs">1.10</text>
<text x="699.91" y="1510.98" font-size="27" fill="#000" textLength="38.71" lengthAdjust="spacingAndGlyphs">1.05</text>
<text x="699.91" y="1593.70" font-size="27" fill="#000" textLength="38.61" lengthAdjust="spacingAndGlyphs">1.00</text>
<text x="753.93" y="1631.20" font-size="27" fill="#000" textLength="12.05" lengthAdjust="spacingAndGlyphs">0</text>
<text x="785.53" y="1631.20" font-size="27" fill="#000" textLength="33.80" lengthAdjust="spacingAndGlyphs">100</text>
<text x="828.85" y="1631.20" font-size="27" fill="#000" textLength="33.26" lengthAdjust="spacingAndGlyphs">200</text>
<text x="871.86" y="1631.20" font-size="27" fill="#000" textLength="33.06" lengthAdjust="spacingAndGlyphs">300</text>
<text x="915.06" y="1631.20" font-size="27" fill="#000" textLength="32.64" lengthAdjust="spacingAndGlyphs">400</text>
<text x="957.46" y="1631.20" font-size="27" fill="#000" textLength="33.06" lengthAdjust="spacingAndGlyphs">500</text>
<text x="1000.05" y="1631.20" font-size="27" fill="#000" textLength="33.26" lengthAdjust="spacingAndGlyphs">600</text>
<text x="1042.85" y="1631.20" font-size="27" fill="#000" textLength="33.26" lengthAdjust="spacingAndGlyphs">700</text>
<g stroke="#2a8ad0" stroke-width="1.5">
<line x1="760.0" y1="1245.5" x2="760.0" y2="1293.5"/>
<line x1="775.1" y1="1245.2" x2="775.1" y2="1291.6"/>
<line x1="790.3" y1="1246.1" x2="790.3" y2="1290.7"/>
<line x1="805.4" y1="1248.8" x2="805.4" y2="1291.8"/>
<line x1="820.5" y1="1262.2" x2="820.5" y2="1303.4"/>
<line x1="835.6" y1="1279.0" x2="835.6" y2="1318.5"/>
<line x1="850.8" y1="1298.3" x2="850.8" y2="1336.1"/>
<line x1="865.9" y1="1314.8" x2="865.9" y2="1350.8"/>
<line x1="881.0" y1="1331.6" x2="881.0" y2="1366.0"/>
<line x1="896.2" y1="1350.9" x2="896.2" y2="1383.5"/>
<line x1="911.3" y1="1367.3" x2="911.3" y2="1398.3"/>
<line x1="926.4" y1="1386.4" x2="926.4" y2="1415.8"/>
<line x1="941.6" y1="1402.9" x2="941.6" y2="1430.5"/>
<line x1="956.7" y1="1422.1" x2="956.7" y2="1448.0"/>
<line x1="971.8" y1="1444.8" x2="971.8" y2="1469.0"/>
<line x1="987.0" y1="1465.2" x2="987.0" y2="1487.8"/>
<line x1="1002.1" y1="1491.4" x2="1002.1" y2="1512.2"/>
<line x1="1017.2" y1="1516.5" x2="1017.2" y2="1535.5"/>
<line x1="1032.3" y1="1543.9" x2="1032.3" y2="1561.3"/>
<line x1="1047.5" y1="1567.0" x2="1047.5" y2="1582.6"/>
</g>
<path d="M760.0,1269.5 C762.5,1269.3 770.1,1268.6 775.1,1268.4 C780.2,1268.2 785.2,1268.1 790.3,1268.4 C795.3,1268.7 800.3,1267.9 805.4,1270.3 C810.4,1272.7 815.5,1278.0 820.5,1282.8 C825.6,1287.5 830.6,1293.1 835.6,1298.8 C840.7,1304.5 845.7,1311.5 850.8,1317.2 C855.8,1322.9 860.9,1327.5 865.9,1332.8 C871.0,1338.1 876.0,1343.1 881.0,1348.8 C886.1,1354.5 891.1,1361.5 896.2,1367.2 C901.2,1372.9 906.3,1377.2 911.3,1382.8 C916.3,1388.4 921.4,1395.4 926.4,1401.1 C931.5,1406.8 936.5,1411.0 941.6,1416.7 C946.6,1422.4 951.6,1428.4 956.7,1435.1 C961.7,1441.8 966.8,1450.0 971.8,1456.9 C976.9,1463.8 981.9,1469.0 987.0,1476.5 C992.0,1484.0 997.0,1493.5 1002.1,1501.8 C1007.1,1510.0 1012.2,1517.5 1017.2,1526.0 C1022.3,1534.5 1027.3,1544.5 1032.3,1552.6 C1037.4,1560.7 1042.4,1569.3 1047.5,1574.8 C1052.5,1580.3 1060.1,1583.6 1062.6,1585.4" fill="none" stroke="#3aa8e0" stroke-width="3"/>
<g fill="#1a6fb5">
<circle cx="760.0" cy="1269.5" r="3"/>
<circle cx="775.1" cy="1268.4" r="3"/>
<circle cx="790.3" cy="1268.4" r="3"/>
<circle cx="805.4" cy="1270.3" r="3"/>
<circle cx="820.5" cy="1282.8" r="3"/>
<circle cx="835.6" cy="1298.8" r="3"/>
<circle cx="850.8" cy="1317.2" r="3"/>
<circle cx="865.9" cy="1332.8" r="3"/>
<circle cx="881.0" cy="1348.8" r="3"/>
<circle cx="896.2" cy="1367.2" r="3"/>
<circle cx="911.3" cy="1382.8" r="3"/>
<circle cx="926.4" cy="1401.1" r="3"/>
<circle cx="941.6" cy="1416.7" r="3"/>
<circle cx="956.7" cy="1435.1" r="3"/>
<circle cx="971.8" cy="1456.9" r="3"/>
<circle cx="987.0" cy="1476.5" r="3"/>
<circle cx="1002.1" cy="1501.8" r="3"/>
<circle cx="1017.2" cy="1526.0" r="3"/>
<circle cx="1032.3" cy="1552.6" r="3"/>
<circle cx="1047.5" cy="1574.8" r="3"/>
<circle cx="1062.6" cy="1585.4" r="3"/>
</g>
<g stroke="#666666" stroke-width="1.5">
<line x1="760.0" y1="1411.4" x2="760.0" y2="1467.4"/>
<line x1="775.1" y1="1411.0" x2="775.1" y2="1465.4"/>
<line x1="790.3" y1="1410.0" x2="790.3" y2="1462.6"/>
<line x1="805.4" y1="1409.6" x2="805.4" y2="1460.5"/>
<line x1="820.5" y1="1410.5" x2="820.5" y2="1459.7"/>
<line x1="835.6" y1="1413.2" x2="835.6" y2="1460.8"/>
<line x1="850.8" y1="1418.0" x2="850.8" y2="1463.8"/>
<line x1="865.9" y1="1426.0" x2="865.9" y2="1470.0"/>
<line x1="881.0" y1="1433.4" x2="881.0" y2="1475.8"/>
<line x1="896.2" y1="1439.8" x2="896.2" y2="1480.4"/>
<line x1="911.3" y1="1445.3" x2="911.3" y2="1484.3"/>
<line x1="926.4" y1="1449.6" x2="926.4" y2="1487.0"/>
<line x1="941.6" y1="1455.5" x2="941.6" y2="1491.1"/>
<line x1="956.7" y1="1464.2" x2="956.7" y2="1498.2"/>
<line x1="971.8" y1="1474.8" x2="971.8" y2="1507.0"/>
<line x1="987.0" y1="1491.2" x2="987.0" y2="1521.8"/>
<line x1="1002.1" y1="1511.6" x2="1002.1" y2="1540.4"/>
<line x1="1017.2" y1="1528.2" x2="1017.2" y2="1555.2"/>
<line x1="1032.3" y1="1549.3" x2="1032.3" y2="1574.7"/>
<line x1="1047.5" y1="1566.2" x2="1047.5" y2="1589.8"/>
</g>
<path d="M760.0,1439.4 C762.5,1439.2 770.1,1438.7 775.1,1438.2 C780.2,1437.7 785.2,1436.8 790.3,1436.3 C795.3,1435.8 800.3,1435.3 805.4,1435.1 C810.4,1434.9 815.5,1434.8 820.5,1435.1 C825.6,1435.4 830.6,1436.0 835.6,1437.0 C840.7,1438.0 845.7,1439.1 850.8,1440.9 C855.8,1442.7 860.9,1445.7 865.9,1448.0 C871.0,1450.3 876.0,1452.6 881.0,1454.6 C886.1,1456.6 891.1,1458.4 896.2,1460.1 C901.2,1461.8 906.3,1463.4 911.3,1464.8 C916.3,1466.2 921.4,1466.9 926.4,1468.3 C931.5,1469.7 936.5,1471.1 941.6,1473.3 C946.6,1475.5 951.6,1478.3 956.7,1481.2 C961.7,1484.1 966.8,1486.7 971.8,1490.9 C976.9,1495.1 981.9,1500.7 987.0,1506.5 C992.0,1512.3 997.0,1520.1 1002.1,1526.0 C1007.1,1531.9 1012.2,1535.7 1017.2,1541.7 C1022.3,1547.7 1027.3,1556.0 1032.3,1562.0 C1037.4,1568.0 1042.4,1574.1 1047.5,1578.0 C1052.5,1581.9 1060.1,1584.2 1062.6,1585.4" fill="none" stroke="#555555" stroke-width="3"/>
<g fill="#444444">
<circle cx="760.0" cy="1439.4" r="3"/>
<circle cx="775.1" cy="1438.2" r="3"/>
<circle cx="790.3" cy="1436.3" r="3"/>
<circle cx="805.4" cy="1435.1" r="3"/>
<circle cx="820.5" cy="1435.1" r="3"/>
<circle cx="835.6" cy="1437.0" r="3"/>
<circle cx="850.8" cy="1440.9" r="3"/>
<circle cx="865.9" cy="1448.0" r="3"/>
<circle cx="881.0" cy="1454.6" r="3"/>
<circle cx="896.2" cy="1460.1" r="3"/>
<circle cx="911.3" cy="1464.8" r="3"/>
<circle cx="926.4" cy="1468.3" r="3"/>
<circle cx="941.6" cy="1473.3" r="3"/>
<circle cx="956.7" cy="1481.2" r="3"/>
<circle cx="971.8" cy="1490.9" r="3"/>
<circle cx="987.0" cy="1506.5" r="3"/>
<circle cx="1002.1" cy="1526.0" r="3"/>
<circle cx="1017.2" cy="1541.7" r="3"/>
<circle cx="1032.3" cy="1562.0" r="3"/>
<circle cx="1047.5" cy="1578.0" r="3"/>
<circle cx="1062.6" cy="1585.4" r="3"/>
</g>
<line x1="880.3" y1="1171" x2="912.8" y2="1171" stroke="#0b6fbc" stroke-width="3.4"/>
<line x1="881.0" y1="1210.3" x2="913.6999999999999" y2="1210.3" stroke="#707070" stroke-width="3.2"/>
<text x="927.25" y="1180.80" font-size="31" fill="#0b6fbc" textLength="170.81" lengthAdjust="spacingAndGlyphs">Transcription site</text>
<text x="927.20" y="1223.20" font-size="31" fill="#000" textLength="126.29" lengthAdjust="spacingAndGlyphs">Random site</text>
<text transform="translate(670.80,1594.36) rotate(-90)" font-size="33" fill="#231815" textLength="435.68" lengthAdjust="spacingAndGlyphs">Relative enrichment of Dorsal</text>
<text x="825.49" y="1698.60" font-size="34" fill="#000" textLength="177.60" lengthAdjust="spacingAndGlyphs">Radius (nm)</text>
</svg></body></html>
